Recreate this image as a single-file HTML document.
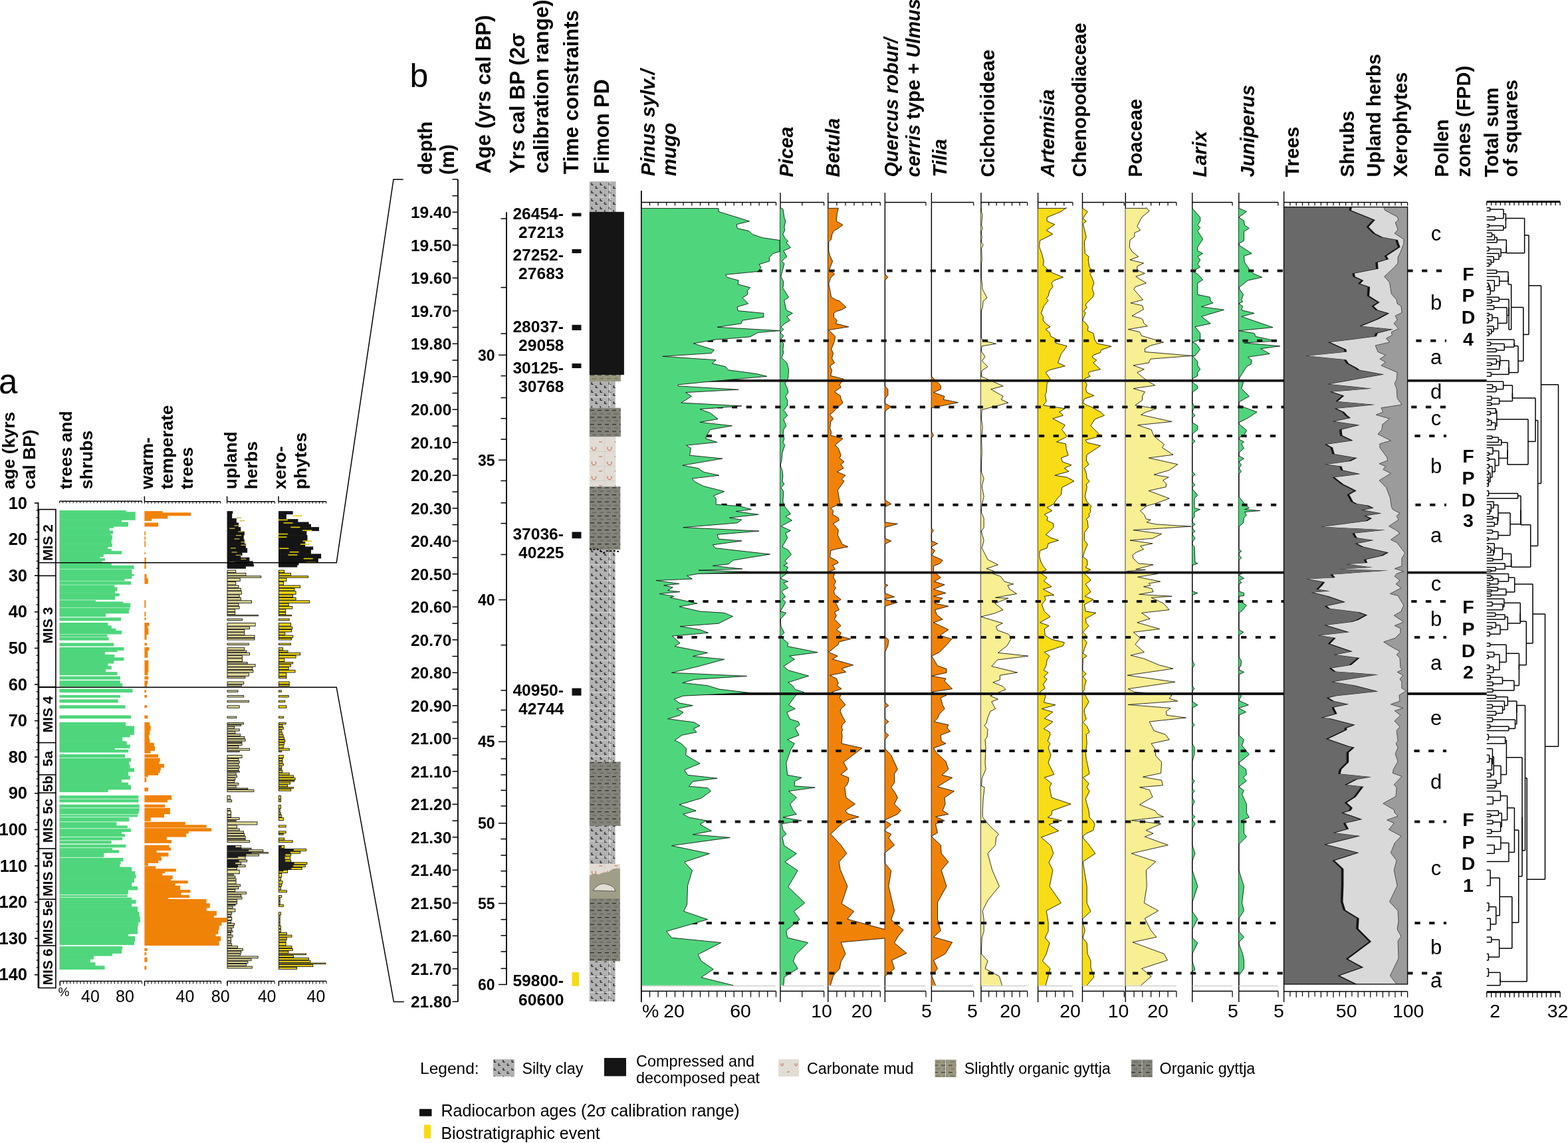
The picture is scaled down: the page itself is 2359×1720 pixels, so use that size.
<!DOCTYPE html><html><head><meta charset="utf-8"><title>Fimon pollen diagram</title>
<style>html,body{margin:0;padding:0;background:#fff;}svg{display:block;} text{font-family:'Liberation Sans', Arial, sans-serif;fill:#000;}</style></head><body>
<svg width="2359" height="1720" viewBox="0 0 2359 1720">
<rect width="2359" height="1720" fill="#fff"/>
<defs>
<pattern id="silt" patternUnits="userSpaceOnUse" x="887" y="273" width="13.3" height="12"><rect width="13.3" height="12" fill="#b2b2b2"/><path d="M3 2v3.2h2.8M9.5 7v3.2h2.8" stroke="#000" stroke-width="1.1" fill="none"/></pattern>
<pattern id="gyt" patternUnits="userSpaceOnUse" x="887" y="0" width="11" height="10.6"><rect width="11" height="10.6" fill="#84847a"/><path d="M1 2.6h6" stroke="#111" stroke-width="1"/><path d="M4 7.9h6" stroke="#55554c" stroke-width="1"/></pattern>
<pattern id="sgyt" patternUnits="userSpaceOnUse" x="887" y="0" width="11" height="10.6"><rect width="11" height="10.6" fill="#99977f"/><path d="M1 2.6h6" stroke="#222" stroke-width="1"/><path d="M4 7.9h6" stroke="#66634f" stroke-width="1"/></pattern>
<pattern id="carb" patternUnits="userSpaceOnUse" x="887" y="657" width="23.5" height="22"><rect width="23.5" height="22" fill="#e1ddd5"/><path d="M3.5 15.5v3.5q3 3.5 6 0v-3.5" stroke="#c0442a" stroke-width="0.9" fill="none"/><path d="M14 8h5" stroke="#c0442a" stroke-width="0.8"/><path d="M0 0.5h23.5M22.5 0v22" stroke="#cfcac0" stroke-width="0.8"/></pattern>
</defs>
<g id="secta">
<text x="-2" y="591.5" font-size="51" font-weight="normal" font-style="normal" text-anchor="start">a</text>
<text transform="translate(21.8,736.2) rotate(-90)" font-size="26.5" font-weight="bold" font-style="normal" text-anchor="start">age (kyrs</text>
<text transform="translate(52.8,736.2) rotate(-90)" font-size="26.5" font-weight="bold" font-style="normal" text-anchor="start">cal BP)</text>
<text transform="translate(107.8,736.2) rotate(-90)" font-size="26.5" font-weight="bold" font-style="normal" text-anchor="start">trees and</text>
<text transform="translate(138.8,736.2) rotate(-90)" font-size="26.5" font-weight="bold" font-style="normal" text-anchor="start">shrubs</text>
<text transform="translate(229.5,736.2) rotate(-90)" font-size="26.5" font-weight="bold" font-style="normal" text-anchor="start">warm-</text>
<text transform="translate(260.4,736.2) rotate(-90)" font-size="26.5" font-weight="bold" font-style="normal" text-anchor="start">temperate</text>
<text transform="translate(290.3,736.2) rotate(-90)" font-size="26.5" font-weight="bold" font-style="normal" text-anchor="start">trees</text>
<text transform="translate(355.7,736.2) rotate(-90)" font-size="26.5" font-weight="bold" font-style="normal" text-anchor="start">upland</text>
<text transform="translate(386.6,736.2) rotate(-90)" font-size="26.5" font-weight="bold" font-style="normal" text-anchor="start">herbs</text>
<text transform="translate(430.2,736.2) rotate(-90)" font-size="26.5" font-weight="bold" font-style="normal" text-anchor="start">xero-</text>
<text transform="translate(461.2,736.2) rotate(-90)" font-size="26.5" font-weight="bold" font-style="normal" text-anchor="start">phytes</text>
<line x1="57.5" y1="756" x2="57.5" y2="1486.6" stroke="#000" stroke-width="1.8" />
<line x1="52" y1="757" x2="57.5" y2="757" stroke="#000" stroke-width="1.6" />
<text x="41" y="765.5" font-size="25.5" font-weight="bold" font-style="normal" text-anchor="end">10</text>
<line x1="54.5" y1="767.9" x2="57.5" y2="767.9" stroke="#000" stroke-width="1.2" />
<line x1="54.5" y1="778.8" x2="57.5" y2="778.8" stroke="#000" stroke-width="1.2" />
<line x1="54.5" y1="789.8" x2="57.5" y2="789.8" stroke="#000" stroke-width="1.2" />
<line x1="54.5" y1="800.7" x2="57.5" y2="800.7" stroke="#000" stroke-width="1.2" />
<line x1="52" y1="811.6" x2="57.5" y2="811.6" stroke="#000" stroke-width="1.6" />
<text x="41" y="820.1" font-size="25.5" font-weight="bold" font-style="normal" text-anchor="end">20</text>
<line x1="54.5" y1="822.5" x2="57.5" y2="822.5" stroke="#000" stroke-width="1.2" />
<line x1="54.5" y1="833.4" x2="57.5" y2="833.4" stroke="#000" stroke-width="1.2" />
<line x1="54.5" y1="844.4" x2="57.5" y2="844.4" stroke="#000" stroke-width="1.2" />
<line x1="54.5" y1="855.3" x2="57.5" y2="855.3" stroke="#000" stroke-width="1.2" />
<line x1="52" y1="866.2" x2="57.5" y2="866.2" stroke="#000" stroke-width="1.6" />
<text x="41" y="874.7" font-size="25.5" font-weight="bold" font-style="normal" text-anchor="end">30</text>
<line x1="54.5" y1="877.1" x2="57.5" y2="877.1" stroke="#000" stroke-width="1.2" />
<line x1="54.5" y1="888" x2="57.5" y2="888" stroke="#000" stroke-width="1.2" />
<line x1="54.5" y1="899" x2="57.5" y2="899" stroke="#000" stroke-width="1.2" />
<line x1="54.5" y1="909.9" x2="57.5" y2="909.9" stroke="#000" stroke-width="1.2" />
<line x1="52" y1="920.8" x2="57.5" y2="920.8" stroke="#000" stroke-width="1.6" />
<text x="41" y="929.3" font-size="25.5" font-weight="bold" font-style="normal" text-anchor="end">40</text>
<line x1="54.5" y1="931.7" x2="57.5" y2="931.7" stroke="#000" stroke-width="1.2" />
<line x1="54.5" y1="942.6" x2="57.5" y2="942.6" stroke="#000" stroke-width="1.2" />
<line x1="54.5" y1="953.6" x2="57.5" y2="953.6" stroke="#000" stroke-width="1.2" />
<line x1="54.5" y1="964.5" x2="57.5" y2="964.5" stroke="#000" stroke-width="1.2" />
<line x1="52" y1="975.4" x2="57.5" y2="975.4" stroke="#000" stroke-width="1.6" />
<text x="41" y="983.9" font-size="25.5" font-weight="bold" font-style="normal" text-anchor="end">50</text>
<line x1="54.5" y1="986.3" x2="57.5" y2="986.3" stroke="#000" stroke-width="1.2" />
<line x1="54.5" y1="997.2" x2="57.5" y2="997.2" stroke="#000" stroke-width="1.2" />
<line x1="54.5" y1="1008.2" x2="57.5" y2="1008.2" stroke="#000" stroke-width="1.2" />
<line x1="54.5" y1="1019.1" x2="57.5" y2="1019.1" stroke="#000" stroke-width="1.2" />
<line x1="52" y1="1030" x2="57.5" y2="1030" stroke="#000" stroke-width="1.6" />
<text x="41" y="1038.5" font-size="25.5" font-weight="bold" font-style="normal" text-anchor="end">60</text>
<line x1="54.5" y1="1040.9" x2="57.5" y2="1040.9" stroke="#000" stroke-width="1.2" />
<line x1="54.5" y1="1051.8" x2="57.5" y2="1051.8" stroke="#000" stroke-width="1.2" />
<line x1="54.5" y1="1062.8" x2="57.5" y2="1062.8" stroke="#000" stroke-width="1.2" />
<line x1="54.5" y1="1073.7" x2="57.5" y2="1073.7" stroke="#000" stroke-width="1.2" />
<line x1="52" y1="1084.6" x2="57.5" y2="1084.6" stroke="#000" stroke-width="1.6" />
<text x="41" y="1093.1" font-size="25.5" font-weight="bold" font-style="normal" text-anchor="end">70</text>
<line x1="54.5" y1="1095.5" x2="57.5" y2="1095.5" stroke="#000" stroke-width="1.2" />
<line x1="54.5" y1="1106.4" x2="57.5" y2="1106.4" stroke="#000" stroke-width="1.2" />
<line x1="54.5" y1="1117.4" x2="57.5" y2="1117.4" stroke="#000" stroke-width="1.2" />
<line x1="54.5" y1="1128.3" x2="57.5" y2="1128.3" stroke="#000" stroke-width="1.2" />
<line x1="52" y1="1139.2" x2="57.5" y2="1139.2" stroke="#000" stroke-width="1.6" />
<text x="41" y="1147.7" font-size="25.5" font-weight="bold" font-style="normal" text-anchor="end">80</text>
<line x1="54.5" y1="1150.1" x2="57.5" y2="1150.1" stroke="#000" stroke-width="1.2" />
<line x1="54.5" y1="1161" x2="57.5" y2="1161" stroke="#000" stroke-width="1.2" />
<line x1="54.5" y1="1172" x2="57.5" y2="1172" stroke="#000" stroke-width="1.2" />
<line x1="54.5" y1="1182.9" x2="57.5" y2="1182.9" stroke="#000" stroke-width="1.2" />
<line x1="52" y1="1193.8" x2="57.5" y2="1193.8" stroke="#000" stroke-width="1.6" />
<text x="41" y="1202.3" font-size="25.5" font-weight="bold" font-style="normal" text-anchor="end">90</text>
<line x1="54.5" y1="1204.7" x2="57.5" y2="1204.7" stroke="#000" stroke-width="1.2" />
<line x1="54.5" y1="1215.6" x2="57.5" y2="1215.6" stroke="#000" stroke-width="1.2" />
<line x1="54.5" y1="1226.6" x2="57.5" y2="1226.6" stroke="#000" stroke-width="1.2" />
<line x1="54.5" y1="1237.5" x2="57.5" y2="1237.5" stroke="#000" stroke-width="1.2" />
<line x1="52" y1="1248.4" x2="57.5" y2="1248.4" stroke="#000" stroke-width="1.6" />
<text x="41" y="1256.9" font-size="25.5" font-weight="bold" font-style="normal" text-anchor="end">100</text>
<line x1="54.5" y1="1259.3" x2="57.5" y2="1259.3" stroke="#000" stroke-width="1.2" />
<line x1="54.5" y1="1270.2" x2="57.5" y2="1270.2" stroke="#000" stroke-width="1.2" />
<line x1="54.5" y1="1281.2" x2="57.5" y2="1281.2" stroke="#000" stroke-width="1.2" />
<line x1="54.5" y1="1292.1" x2="57.5" y2="1292.1" stroke="#000" stroke-width="1.2" />
<line x1="52" y1="1303" x2="57.5" y2="1303" stroke="#000" stroke-width="1.6" />
<text x="41" y="1311.5" font-size="25.5" font-weight="bold" font-style="normal" text-anchor="end">110</text>
<line x1="54.5" y1="1313.9" x2="57.5" y2="1313.9" stroke="#000" stroke-width="1.2" />
<line x1="54.5" y1="1324.8" x2="57.5" y2="1324.8" stroke="#000" stroke-width="1.2" />
<line x1="54.5" y1="1335.8" x2="57.5" y2="1335.8" stroke="#000" stroke-width="1.2" />
<line x1="54.5" y1="1346.7" x2="57.5" y2="1346.7" stroke="#000" stroke-width="1.2" />
<line x1="52" y1="1357.6" x2="57.5" y2="1357.6" stroke="#000" stroke-width="1.6" />
<text x="41" y="1366.1" font-size="25.5" font-weight="bold" font-style="normal" text-anchor="end">120</text>
<line x1="54.5" y1="1368.5" x2="57.5" y2="1368.5" stroke="#000" stroke-width="1.2" />
<line x1="54.5" y1="1379.4" x2="57.5" y2="1379.4" stroke="#000" stroke-width="1.2" />
<line x1="54.5" y1="1390.4" x2="57.5" y2="1390.4" stroke="#000" stroke-width="1.2" />
<line x1="54.5" y1="1401.3" x2="57.5" y2="1401.3" stroke="#000" stroke-width="1.2" />
<line x1="52" y1="1412.2" x2="57.5" y2="1412.2" stroke="#000" stroke-width="1.6" />
<text x="41" y="1420.7" font-size="25.5" font-weight="bold" font-style="normal" text-anchor="end">130</text>
<line x1="54.5" y1="1423.1" x2="57.5" y2="1423.1" stroke="#000" stroke-width="1.2" />
<line x1="54.5" y1="1434" x2="57.5" y2="1434" stroke="#000" stroke-width="1.2" />
<line x1="54.5" y1="1445" x2="57.5" y2="1445" stroke="#000" stroke-width="1.2" />
<line x1="54.5" y1="1455.9" x2="57.5" y2="1455.9" stroke="#000" stroke-width="1.2" />
<line x1="52" y1="1466.8" x2="57.5" y2="1466.8" stroke="#000" stroke-width="1.6" />
<text x="41" y="1475.3" font-size="25.5" font-weight="bold" font-style="normal" text-anchor="end">140</text>
<rect x="58.4" y="766.6" width="25.5" height="720" fill="none" stroke="#000" stroke-width="1.6"/>
<line x1="58.4" y1="866.4" x2="83.9" y2="866.4" stroke="#000" stroke-width="1.6" />
<line x1="58.4" y1="1033.8" x2="83.9" y2="1033.8" stroke="#000" stroke-width="1.6" />
<line x1="58.4" y1="1117.6" x2="83.9" y2="1117.6" stroke="#000" stroke-width="1.6" />
<line x1="58.4" y1="1165.9" x2="83.9" y2="1165.9" stroke="#000" stroke-width="1.6" />
<line x1="58.4" y1="1193.1" x2="83.9" y2="1193.1" stroke="#000" stroke-width="1.6" />
<line x1="58.4" y1="1277" x2="83.9" y2="1277" stroke="#000" stroke-width="1.6" />
<line x1="58.4" y1="1353.2" x2="83.9" y2="1353.2" stroke="#000" stroke-width="1.6" />
<line x1="58.4" y1="1423" x2="83.9" y2="1423" stroke="#000" stroke-width="1.6" />
<text transform="translate(79,816.5) rotate(-90)" font-size="21" font-weight="bold" text-anchor="middle">MIS 2</text>
<text transform="translate(79,941) rotate(-90)" font-size="21" font-weight="bold" text-anchor="middle">MIS 3</text>
<text transform="translate(79,1075) rotate(-90)" font-size="21" font-weight="bold" text-anchor="middle">MIS 4</text>
<text transform="translate(79,1141.8) rotate(-90)" font-size="21" font-weight="bold" text-anchor="middle">5a</text>
<text transform="translate(79,1179.5) rotate(-90)" font-size="21" font-weight="bold" text-anchor="middle">5b</text>
<text transform="translate(79,1235) rotate(-90)" font-size="21" font-weight="bold" text-anchor="middle">MIS 5c</text>
<text transform="translate(79,1315.1) rotate(-90)" font-size="21" font-weight="bold" text-anchor="middle">MIS 5d</text>
<text transform="translate(79,1388.1) rotate(-90)" font-size="21" font-weight="bold" text-anchor="middle">MIS 5e</text>
<text transform="translate(79,1455) rotate(-90)" font-size="21" font-weight="bold" text-anchor="middle">MIS 6</text>
<line x1="89.5" y1="754.2" x2="213.5" y2="754.2" stroke="#000" stroke-width="1.5" />
<line x1="89.5" y1="754.2" x2="89.5" y2="757.2" stroke="#000" stroke-width="1" />
<line x1="94.7" y1="754.2" x2="94.7" y2="757.2" stroke="#000" stroke-width="1" />
<line x1="99.8" y1="754.2" x2="99.8" y2="757.2" stroke="#000" stroke-width="1" />
<line x1="105" y1="754.2" x2="105" y2="757.2" stroke="#000" stroke-width="1" />
<line x1="110.2" y1="754.2" x2="110.2" y2="757.2" stroke="#000" stroke-width="1" />
<line x1="115.3" y1="754.2" x2="115.3" y2="757.2" stroke="#000" stroke-width="1" />
<line x1="120.5" y1="754.2" x2="120.5" y2="757.2" stroke="#000" stroke-width="1" />
<line x1="125.7" y1="754.2" x2="125.7" y2="757.2" stroke="#000" stroke-width="1" />
<line x1="130.8" y1="754.2" x2="130.8" y2="757.2" stroke="#000" stroke-width="1" />
<line x1="136" y1="754.2" x2="136" y2="757.2" stroke="#000" stroke-width="1" />
<line x1="141.2" y1="754.2" x2="141.2" y2="757.2" stroke="#000" stroke-width="1" />
<line x1="146.3" y1="754.2" x2="146.3" y2="757.2" stroke="#000" stroke-width="1" />
<line x1="151.5" y1="754.2" x2="151.5" y2="757.2" stroke="#000" stroke-width="1" />
<line x1="156.7" y1="754.2" x2="156.7" y2="757.2" stroke="#000" stroke-width="1" />
<line x1="161.8" y1="754.2" x2="161.8" y2="757.2" stroke="#000" stroke-width="1" />
<line x1="167" y1="754.2" x2="167" y2="757.2" stroke="#000" stroke-width="1" />
<line x1="172.2" y1="754.2" x2="172.2" y2="757.2" stroke="#000" stroke-width="1" />
<line x1="177.3" y1="754.2" x2="177.3" y2="757.2" stroke="#000" stroke-width="1" />
<line x1="182.5" y1="754.2" x2="182.5" y2="757.2" stroke="#000" stroke-width="1" />
<line x1="187.7" y1="754.2" x2="187.7" y2="757.2" stroke="#000" stroke-width="1" />
<line x1="192.8" y1="754.2" x2="192.8" y2="757.2" stroke="#000" stroke-width="1" />
<line x1="198" y1="754.2" x2="198" y2="757.2" stroke="#000" stroke-width="1" />
<line x1="203.2" y1="754.2" x2="203.2" y2="757.2" stroke="#000" stroke-width="1" />
<line x1="208.3" y1="754.2" x2="208.3" y2="757.2" stroke="#000" stroke-width="1" />
<line x1="213.5" y1="754.2" x2="213.5" y2="757.2" stroke="#000" stroke-width="1" />
<line x1="217.4" y1="754.8" x2="331.8" y2="754.8" stroke="#000" stroke-width="1.5" />
<line x1="217.4" y1="754.8" x2="217.4" y2="757.8" stroke="#000" stroke-width="1" />
<line x1="222.6" y1="754.8" x2="222.6" y2="757.8" stroke="#000" stroke-width="1" />
<line x1="227.8" y1="754.8" x2="227.8" y2="757.8" stroke="#000" stroke-width="1" />
<line x1="233" y1="754.8" x2="233" y2="757.8" stroke="#000" stroke-width="1" />
<line x1="238.2" y1="754.8" x2="238.2" y2="757.8" stroke="#000" stroke-width="1" />
<line x1="243.4" y1="754.8" x2="243.4" y2="757.8" stroke="#000" stroke-width="1" />
<line x1="248.6" y1="754.8" x2="248.6" y2="757.8" stroke="#000" stroke-width="1" />
<line x1="253.8" y1="754.8" x2="253.8" y2="757.8" stroke="#000" stroke-width="1" />
<line x1="259" y1="754.8" x2="259" y2="757.8" stroke="#000" stroke-width="1" />
<line x1="264.2" y1="754.8" x2="264.2" y2="757.8" stroke="#000" stroke-width="1" />
<line x1="269.4" y1="754.8" x2="269.4" y2="757.8" stroke="#000" stroke-width="1" />
<line x1="274.6" y1="754.8" x2="274.6" y2="757.8" stroke="#000" stroke-width="1" />
<line x1="279.8" y1="754.8" x2="279.8" y2="757.8" stroke="#000" stroke-width="1" />
<line x1="285" y1="754.8" x2="285" y2="757.8" stroke="#000" stroke-width="1" />
<line x1="290.2" y1="754.8" x2="290.2" y2="757.8" stroke="#000" stroke-width="1" />
<line x1="295.4" y1="754.8" x2="295.4" y2="757.8" stroke="#000" stroke-width="1" />
<line x1="300.6" y1="754.8" x2="300.6" y2="757.8" stroke="#000" stroke-width="1" />
<line x1="305.8" y1="754.8" x2="305.8" y2="757.8" stroke="#000" stroke-width="1" />
<line x1="311" y1="754.8" x2="311" y2="757.8" stroke="#000" stroke-width="1" />
<line x1="316.2" y1="754.8" x2="316.2" y2="757.8" stroke="#000" stroke-width="1" />
<line x1="321.4" y1="754.8" x2="321.4" y2="757.8" stroke="#000" stroke-width="1" />
<line x1="326.6" y1="754.8" x2="326.6" y2="757.8" stroke="#000" stroke-width="1" />
<line x1="331.8" y1="754.8" x2="331.8" y2="757.8" stroke="#000" stroke-width="1" />
<line x1="217.4" y1="746.8" x2="217.4" y2="754.8" stroke="#000" stroke-width="1.5" />
<line x1="341.6" y1="754.8" x2="413.5" y2="754.8" stroke="#000" stroke-width="1.5" />
<line x1="341.6" y1="754.8" x2="341.6" y2="757.8" stroke="#000" stroke-width="1" />
<line x1="346.7" y1="754.8" x2="346.7" y2="757.8" stroke="#000" stroke-width="1" />
<line x1="351.9" y1="754.8" x2="351.9" y2="757.8" stroke="#000" stroke-width="1" />
<line x1="357" y1="754.8" x2="357" y2="757.8" stroke="#000" stroke-width="1" />
<line x1="362.1" y1="754.8" x2="362.1" y2="757.8" stroke="#000" stroke-width="1" />
<line x1="367.3" y1="754.8" x2="367.3" y2="757.8" stroke="#000" stroke-width="1" />
<line x1="372.4" y1="754.8" x2="372.4" y2="757.8" stroke="#000" stroke-width="1" />
<line x1="377.6" y1="754.8" x2="377.6" y2="757.8" stroke="#000" stroke-width="1" />
<line x1="382.7" y1="754.8" x2="382.7" y2="757.8" stroke="#000" stroke-width="1" />
<line x1="387.8" y1="754.8" x2="387.8" y2="757.8" stroke="#000" stroke-width="1" />
<line x1="393" y1="754.8" x2="393" y2="757.8" stroke="#000" stroke-width="1" />
<line x1="398.1" y1="754.8" x2="398.1" y2="757.8" stroke="#000" stroke-width="1" />
<line x1="403.2" y1="754.8" x2="403.2" y2="757.8" stroke="#000" stroke-width="1" />
<line x1="408.4" y1="754.8" x2="408.4" y2="757.8" stroke="#000" stroke-width="1" />
<line x1="413.5" y1="754.8" x2="413.5" y2="757.8" stroke="#000" stroke-width="1" />
<line x1="341.6" y1="746.8" x2="341.6" y2="754.8" stroke="#000" stroke-width="1.5" />
<line x1="419" y1="754.8" x2="490.8" y2="754.8" stroke="#000" stroke-width="1.5" />
<line x1="419" y1="754.8" x2="419" y2="757.8" stroke="#000" stroke-width="1" />
<line x1="424.1" y1="754.8" x2="424.1" y2="757.8" stroke="#000" stroke-width="1" />
<line x1="429.3" y1="754.8" x2="429.3" y2="757.8" stroke="#000" stroke-width="1" />
<line x1="434.4" y1="754.8" x2="434.4" y2="757.8" stroke="#000" stroke-width="1" />
<line x1="439.5" y1="754.8" x2="439.5" y2="757.8" stroke="#000" stroke-width="1" />
<line x1="444.6" y1="754.8" x2="444.6" y2="757.8" stroke="#000" stroke-width="1" />
<line x1="449.8" y1="754.8" x2="449.8" y2="757.8" stroke="#000" stroke-width="1" />
<line x1="454.9" y1="754.8" x2="454.9" y2="757.8" stroke="#000" stroke-width="1" />
<line x1="460" y1="754.8" x2="460" y2="757.8" stroke="#000" stroke-width="1" />
<line x1="465.2" y1="754.8" x2="465.2" y2="757.8" stroke="#000" stroke-width="1" />
<line x1="470.3" y1="754.8" x2="470.3" y2="757.8" stroke="#000" stroke-width="1" />
<line x1="475.4" y1="754.8" x2="475.4" y2="757.8" stroke="#000" stroke-width="1" />
<line x1="480.5" y1="754.8" x2="480.5" y2="757.8" stroke="#000" stroke-width="1" />
<line x1="485.7" y1="754.8" x2="485.7" y2="757.8" stroke="#000" stroke-width="1" />
<line x1="490.8" y1="754.8" x2="490.8" y2="757.8" stroke="#000" stroke-width="1" />
<line x1="419" y1="746.8" x2="419" y2="754.8" stroke="#000" stroke-width="1.5" />
<rect x="89.5" y="768" width="100.1" height="2.8" fill="#4fd67c"/>
<rect x="89.5" y="770.2" width="114.3" height="12.6" fill="#4fd67c"/>
<rect x="89.5" y="782.2" width="93.6" height="3.9" fill="#4fd67c"/>
<rect x="89.5" y="785.5" width="103.4" height="7.1" fill="#4fd67c"/>
<rect x="89.5" y="792" width="81.6" height="2.8" fill="#4fd67c"/>
<rect x="89.5" y="794.2" width="75.1" height="5" fill="#4fd67c"/>
<rect x="89.5" y="798.5" width="80.5" height="5" fill="#4fd67c"/>
<rect x="89.5" y="802.9" width="77.2" height="2.8" fill="#4fd67c"/>
<rect x="89.5" y="805.1" width="79.4" height="7.1" fill="#4fd67c"/>
<rect x="89.5" y="811.6" width="78.3" height="7.1" fill="#4fd67c"/>
<rect x="89.5" y="818.2" width="79.4" height="5" fill="#4fd67c"/>
<rect x="89.5" y="822.5" width="72.9" height="3.9" fill="#4fd67c"/>
<rect x="89.5" y="825.8" width="78.3" height="3.9" fill="#4fd67c"/>
<rect x="89.5" y="829.1" width="93.6" height="5" fill="#4fd67c"/>
<rect x="89.5" y="833.4" width="66.3" height="5" fill="#4fd67c"/>
<rect x="89.5" y="837.8" width="60.9" height="2.8" fill="#4fd67c"/>
<rect x="89.5" y="840" width="68.5" height="3.9" fill="#4fd67c"/>
<rect x="89.5" y="843.2" width="64.2" height="3.9" fill="#4fd67c"/>
<rect x="89.5" y="847.2" width="78.3" height="4.3" fill="#4fd67c"/>
<rect x="89.5" y="850.9" width="112.1" height="5.4" fill="#4fd67c"/>
<rect x="89.5" y="856.7" width="108.8" height="7.8" fill="#4fd67c"/>
<rect x="89.5" y="863.9" width="112.1" height="2.8" fill="#4fd67c"/>
<rect x="89.5" y="866.1" width="108.8" height="5" fill="#4fd67c"/>
<rect x="89.5" y="870.5" width="97.9" height="3.9" fill="#4fd67c"/>
<rect x="89.5" y="874.8" width="107.8" height="5" fill="#4fd67c"/>
<rect x="89.5" y="880.3" width="82.7" height="3.9" fill="#4fd67c"/>
<rect x="89.5" y="883.6" width="87" height="6" fill="#4fd67c"/>
<rect x="89.5" y="889" width="83.8" height="3.9" fill="#4fd67c"/>
<rect x="89.5" y="892.9" width="90.3" height="4.3" fill="#4fd67c"/>
<rect x="89.5" y="896.6" width="83.8" height="6" fill="#4fd67c"/>
<rect x="89.5" y="903.2" width="54.4" height="2.8" fill="#4fd67c"/>
<rect x="89.5" y="905.3" width="95.8" height="2.8" fill="#4fd67c"/>
<rect x="89.5" y="907.5" width="106.7" height="6.5" fill="#4fd67c"/>
<rect x="89.5" y="914.5" width="105.6" height="3.4" fill="#4fd67c"/>
<rect x="89.5" y="917.3" width="104.5" height="6" fill="#4fd67c"/>
<rect x="89.5" y="922.8" width="69.6" height="5.4" fill="#4fd67c"/>
<rect x="89.5" y="929.3" width="92.5" height="5" fill="#4fd67c"/>
<rect x="89.5" y="937" width="72.9" height="5" fill="#4fd67c"/>
<rect x="89.5" y="941.3" width="78.3" height="5" fill="#4fd67c"/>
<rect x="89.5" y="945.7" width="84.9" height="3.9" fill="#4fd67c"/>
<rect x="89.5" y="948.9" width="93.6" height="5.6" fill="#4fd67c"/>
<rect x="89.5" y="955" width="71.8" height="3.2" fill="#4fd67c"/>
<rect x="89.5" y="958.7" width="74" height="5" fill="#4fd67c"/>
<rect x="89.5" y="967.5" width="81.6" height="5" fill="#4fd67c"/>
<rect x="89.5" y="974" width="96.9" height="5" fill="#4fd67c"/>
<rect x="89.5" y="978.4" width="87" height="2.8" fill="#4fd67c"/>
<rect x="89.5" y="980.5" width="68.5" height="5" fill="#4fd67c"/>
<rect x="89.5" y="984.9" width="82.7" height="5" fill="#4fd67c"/>
<rect x="89.5" y="989.3" width="96.9" height="5" fill="#4fd67c"/>
<rect x="89.5" y="993.6" width="81.6" height="5" fill="#4fd67c"/>
<rect x="89.5" y="998" width="72.9" height="5" fill="#4fd67c"/>
<rect x="89.5" y="1002.3" width="78.3" height="5" fill="#4fd67c"/>
<rect x="89.5" y="1006.7" width="69.6" height="5" fill="#4fd67c"/>
<rect x="89.5" y="1011.1" width="87" height="5" fill="#4fd67c"/>
<rect x="89.5" y="1017.6" width="91.4" height="5" fill="#4fd67c"/>
<rect x="89.5" y="1024.1" width="91.4" height="5" fill="#4fd67c"/>
<rect x="89.5" y="1028.5" width="94.7" height="5" fill="#4fd67c"/>
<rect x="89.5" y="1036.6" width="109.9" height="5.6" fill="#4fd67c"/>
<rect x="89.5" y="1045.9" width="91.4" height="3.9" fill="#4fd67c"/>
<rect x="89.5" y="1052.5" width="88.1" height="5" fill="#4fd67c"/>
<rect x="89.5" y="1061.2" width="99" height="5" fill="#4fd67c"/>
<rect x="89.5" y="1076.4" width="107.8" height="5" fill="#4fd67c"/>
<rect x="89.5" y="1086.8" width="99.8" height="6.2" fill="#4fd67c"/>
<rect x="89.5" y="1092.4" width="112.5" height="7" fill="#4fd67c"/>
<rect x="89.5" y="1098.8" width="112.5" height="7" fill="#4fd67c"/>
<rect x="89.5" y="1105.1" width="106.2" height="4.4" fill="#4fd67c"/>
<rect x="89.5" y="1108.9" width="94.7" height="7" fill="#4fd67c"/>
<rect x="89.5" y="1115.3" width="101.1" height="5.7" fill="#4fd67c"/>
<rect x="89.5" y="1120.4" width="106.2" height="5.7" fill="#4fd67c"/>
<rect x="89.5" y="1125.4" width="83.3" height="3.1" fill="#4fd67c"/>
<rect x="89.5" y="1128" width="103.6" height="4.4" fill="#4fd67c"/>
<rect x="89.5" y="1135.1" width="98.6" height="4.9" fill="#4fd67c"/>
<rect x="89.5" y="1140.7" width="107.5" height="5.7" fill="#4fd67c"/>
<rect x="89.5" y="1145.8" width="104.9" height="5.7" fill="#4fd67c"/>
<rect x="89.5" y="1150.9" width="106.2" height="5.7" fill="#4fd67c"/>
<rect x="89.5" y="1155.9" width="112.5" height="5.7" fill="#4fd67c"/>
<rect x="89.5" y="1161" width="103.6" height="7" fill="#4fd67c"/>
<rect x="89.5" y="1167.4" width="106.2" height="5.7" fill="#4fd67c"/>
<rect x="89.5" y="1172.5" width="93.5" height="5.7" fill="#4fd67c"/>
<rect x="89.5" y="1177.5" width="103.6" height="4.4" fill="#4fd67c"/>
<rect x="89.5" y="1181.4" width="107.5" height="7" fill="#4fd67c"/>
<rect x="89.5" y="1187.7" width="73.1" height="4.4" fill="#4fd67c"/>
<rect x="89.5" y="1197.1" width="118.9" height="5.2" fill="#4fd67c"/>
<rect x="89.5" y="1201.7" width="118.9" height="5.7" fill="#4fd67c"/>
<rect x="89.5" y="1210.6" width="120.2" height="4.4" fill="#4fd67c"/>
<rect x="89.5" y="1214.4" width="120.2" height="7" fill="#4fd67c"/>
<rect x="89.5" y="1220.7" width="118.9" height="5.7" fill="#4fd67c"/>
<rect x="89.5" y="1225.8" width="117.6" height="4.4" fill="#4fd67c"/>
<rect x="89.5" y="1229.6" width="104.9" height="7" fill="#4fd67c"/>
<rect x="89.5" y="1236" width="85.8" height="7" fill="#4fd67c"/>
<rect x="89.5" y="1242.3" width="102.4" height="4.4" fill="#4fd67c"/>
<rect x="89.5" y="1246.2" width="107.5" height="5.7" fill="#4fd67c"/>
<rect x="89.5" y="1251.2" width="93.5" height="4.4" fill="#4fd67c"/>
<rect x="89.5" y="1255" width="98.6" height="4.4" fill="#4fd67c"/>
<rect x="89.5" y="1258.9" width="94.7" height="5.7" fill="#4fd67c"/>
<rect x="89.5" y="1263.9" width="78.2" height="5.7" fill="#4fd67c"/>
<rect x="89.5" y="1270.8" width="99.8" height="5.2" fill="#4fd67c"/>
<rect x="89.5" y="1275.4" width="79.5" height="4.4" fill="#4fd67c"/>
<rect x="89.5" y="1279.2" width="89.7" height="4.4" fill="#4fd67c"/>
<rect x="89.5" y="1283" width="66.8" height="8.2" fill="#4fd67c"/>
<rect x="89.5" y="1290.6" width="96" height="5.7" fill="#4fd67c"/>
<rect x="89.5" y="1295.7" width="92.2" height="4.4" fill="#4fd67c"/>
<rect x="89.5" y="1299.5" width="90.9" height="5.7" fill="#4fd67c"/>
<rect x="89.5" y="1304.6" width="108.7" height="7" fill="#4fd67c"/>
<rect x="89.5" y="1311" width="113.8" height="5.7" fill="#4fd67c"/>
<rect x="89.5" y="1316" width="115.1" height="5.7" fill="#4fd67c"/>
<rect x="89.5" y="1321.1" width="112.5" height="7" fill="#4fd67c"/>
<rect x="89.5" y="1327.5" width="108.7" height="7" fill="#4fd67c"/>
<rect x="89.5" y="1333.8" width="117.6" height="5.7" fill="#4fd67c"/>
<rect x="89.5" y="1338.9" width="103.6" height="5.7" fill="#4fd67c"/>
<rect x="89.5" y="1344" width="102.4" height="2.6" fill="#4fd67c"/>
<rect x="89.5" y="1346.5" width="102.4" height="4.4" fill="#4fd67c"/>
<rect x="89.5" y="1350.3" width="108.7" height="4.4" fill="#4fd67c"/>
<rect x="89.5" y="1354.2" width="115.1" height="5.7" fill="#4fd67c"/>
<rect x="89.5" y="1359.2" width="108.7" height="5.7" fill="#4fd67c"/>
<rect x="89.5" y="1364.3" width="117.6" height="8.2" fill="#4fd67c"/>
<rect x="89.5" y="1371.9" width="120.2" height="8.2" fill="#4fd67c"/>
<rect x="89.5" y="1379.6" width="121.4" height="8.2" fill="#4fd67c"/>
<rect x="89.5" y="1387.2" width="118.9" height="5.7" fill="#4fd67c"/>
<rect x="89.5" y="1392.3" width="117.6" height="8.2" fill="#4fd67c"/>
<rect x="89.5" y="1399.9" width="117.6" height="5.7" fill="#4fd67c"/>
<rect x="89.5" y="1405" width="103.6" height="4.4" fill="#4fd67c"/>
<rect x="89.5" y="1408.8" width="113.8" height="8.2" fill="#4fd67c"/>
<rect x="89.5" y="1416.4" width="112.5" height="5.7" fill="#4fd67c"/>
<rect x="89.5" y="1423.5" width="94.7" height="4.9" fill="#4fd67c"/>
<rect x="89.5" y="1427.9" width="93.5" height="7" fill="#4fd67c"/>
<rect x="89.5" y="1434.2" width="79.5" height="4.4" fill="#4fd67c"/>
<rect x="89.5" y="1438" width="51.5" height="5.7" fill="#4fd67c"/>
<rect x="89.5" y="1443.1" width="46.5" height="5.7" fill="#4fd67c"/>
<rect x="89.5" y="1448.2" width="54.1" height="5.7" fill="#4fd67c"/>
<rect x="89.5" y="1453.3" width="68.1" height="5.7" fill="#4fd67c"/>
<rect x="89.5" y="1201.8" width="126" height="0.9" fill="#fff" opacity="0.85"/>
<rect x="89.5" y="1215.4" width="126" height="0.9" fill="#fff" opacity="0.85"/>
<rect x="89.5" y="1225.4" width="126" height="0.9" fill="#fff" opacity="0.85"/>
<rect x="89.5" y="1229" width="126" height="0.9" fill="#fff" opacity="0.85"/>
<rect x="89.5" y="1236.3" width="126" height="0.9" fill="#fff" opacity="0.85"/>
<rect x="89.5" y="1246.3" width="126" height="0.9" fill="#fff" opacity="0.85"/>
<rect x="89.5" y="1259" width="126" height="0.9" fill="#fff" opacity="0.85"/>
<rect x="89.5" y="1264.4" width="126" height="0.9" fill="#fff" opacity="0.85"/>
<rect x="89.5" y="1275.3" width="126" height="0.9" fill="#fff" opacity="0.85"/>
<rect x="89.5" y="1289.9" width="126" height="0.9" fill="#fff" opacity="0.85"/>
<rect x="89.5" y="1346.2" width="126" height="0.9" fill="#fff" opacity="0.85"/>
<rect x="89.5" y="1349.8" width="126" height="0.9" fill="#fff" opacity="0.85"/>
<rect x="89.5" y="1423.3" width="126" height="0.9" fill="#fff" opacity="0.85"/>
<rect x="217.4" y="769.1" width="27.3" height="3.9" fill="#f08207"/>
<rect x="217.4" y="771.3" width="69.7" height="5" fill="#f08207"/>
<rect x="217.4" y="775.6" width="34.9" height="5" fill="#f08207"/>
<rect x="217.4" y="780" width="10.9" height="3.9" fill="#f08207"/>
<rect x="217.4" y="786.5" width="20.7" height="6" fill="#f08207"/>
<rect x="217.4" y="799.6" width="1.6" height="6" fill="#f08207"/>
<rect x="217.4" y="807.3" width="1.6" height="5" fill="#f08207"/>
<rect x="217.4" y="813.8" width="1.6" height="9.3" fill="#f08207"/>
<rect x="217.4" y="831.2" width="1.6" height="2.8" fill="#f08207"/>
<rect x="217.4" y="838.9" width="2.3" height="16.9" fill="#f08207"/>
<rect x="217.4" y="863.9" width="3.2" height="7.1" fill="#f08207"/>
<rect x="217.4" y="870.5" width="5.4" height="8.2" fill="#f08207"/>
<rect x="217.4" y="903.2" width="1.9" height="11.5" fill="#f08207"/>
<rect x="217.4" y="920.6" width="1.9" height="7.1" fill="#f08207"/>
<rect x="217.4" y="929.3" width="2.3" height="3.9" fill="#f08207"/>
<rect x="217.4" y="937" width="7.1" height="5" fill="#f08207"/>
<rect x="217.4" y="941.3" width="4.9" height="5" fill="#f08207"/>
<rect x="217.4" y="945.7" width="6" height="9.3" fill="#f08207"/>
<rect x="217.4" y="954.4" width="3.2" height="8.2" fill="#f08207"/>
<rect x="217.4" y="967.5" width="3.8" height="3.9" fill="#f08207"/>
<rect x="217.4" y="974" width="7.1" height="5" fill="#f08207"/>
<rect x="217.4" y="978.4" width="4.9" height="11.5" fill="#f08207"/>
<rect x="217.4" y="993.6" width="6" height="18" fill="#f08207"/>
<rect x="217.4" y="1011.1" width="4.9" height="5" fill="#f08207"/>
<rect x="217.4" y="1017.6" width="6" height="5" fill="#f08207"/>
<rect x="217.4" y="1024.1" width="4.9" height="5" fill="#f08207"/>
<rect x="217.4" y="1028.5" width="3.8" height="5" fill="#f08207"/>
<rect x="217.4" y="1038.3" width="2.7" height="3.9" fill="#f08207"/>
<rect x="217.4" y="1045.9" width="3.8" height="3.9" fill="#f08207"/>
<rect x="217.4" y="1061.2" width="3.8" height="3.9" fill="#f08207"/>
<rect x="217.4" y="1076.4" width="4.9" height="5" fill="#f08207"/>
<rect x="217.4" y="1086.8" width="8" height="5.7" fill="#f08207"/>
<rect x="217.4" y="1091.9" width="9.3" height="7.5" fill="#f08207"/>
<rect x="217.4" y="1098.8" width="8" height="7" fill="#f08207"/>
<rect x="217.4" y="1105.1" width="6.8" height="7" fill="#f08207"/>
<rect x="217.4" y="1111.5" width="8" height="7" fill="#f08207"/>
<rect x="217.4" y="1117.8" width="14.4" height="5.7" fill="#f08207"/>
<rect x="217.4" y="1122.9" width="15.7" height="7" fill="#f08207"/>
<rect x="217.4" y="1129.3" width="9.3" height="4.4" fill="#f08207"/>
<rect x="217.4" y="1135.1" width="20.7" height="4.9" fill="#f08207"/>
<rect x="217.4" y="1140.7" width="23.3" height="5.7" fill="#f08207"/>
<rect x="217.4" y="1145.8" width="22" height="4.4" fill="#f08207"/>
<rect x="217.4" y="1149.6" width="29.6" height="5.7" fill="#f08207"/>
<rect x="217.4" y="1154.7" width="24.6" height="4.4" fill="#f08207"/>
<rect x="217.4" y="1158.5" width="23.3" height="4.4" fill="#f08207"/>
<rect x="217.4" y="1162.3" width="20.7" height="4.4" fill="#f08207"/>
<rect x="217.4" y="1166.1" width="5.5" height="3.1" fill="#f08207"/>
<rect x="217.4" y="1170" width="2.9" height="7" fill="#f08207"/>
<rect x="217.4" y="1185.2" width="5.5" height="5.7" fill="#f08207"/>
<rect x="217.4" y="1196.7" width="40.6" height="5.2" fill="#f08207"/>
<rect x="217.4" y="1201.2" width="41.1" height="2.4" fill="#f08207"/>
<rect x="217.4" y="1203" width="34.7" height="4.4" fill="#f08207"/>
<rect x="217.4" y="1210.6" width="30.9" height="4.4" fill="#f08207"/>
<rect x="217.4" y="1215.7" width="38.5" height="5.7" fill="#f08207"/>
<rect x="217.4" y="1220.8" width="38.5" height="4.4" fill="#f08207"/>
<rect x="217.4" y="1224.6" width="29.6" height="5.7" fill="#f08207"/>
<rect x="217.4" y="1229.7" width="9.3" height="6.2" fill="#f08207"/>
<rect x="217.4" y="1236.8" width="61.4" height="4.9" fill="#f08207"/>
<rect x="217.4" y="1241.2" width="93.2" height="4.4" fill="#f08207"/>
<rect x="217.4" y="1246.2" width="100.8" height="4.9" fill="#f08207"/>
<rect x="217.4" y="1250.6" width="66.5" height="3.9" fill="#f08207"/>
<rect x="217.4" y="1253.9" width="62.7" height="5.7" fill="#f08207"/>
<rect x="217.4" y="1259" width="33.5" height="5.7" fill="#f08207"/>
<rect x="217.4" y="1264" width="40.6" height="4.9" fill="#f08207"/>
<rect x="217.4" y="1271.7" width="37.3" height="4.4" fill="#f08207"/>
<rect x="217.4" y="1275.5" width="39.8" height="4.4" fill="#f08207"/>
<rect x="217.4" y="1279.3" width="18.2" height="4.4" fill="#f08207"/>
<rect x="217.4" y="1283.1" width="36" height="5.7" fill="#f08207"/>
<rect x="217.4" y="1288.2" width="24.6" height="3.1" fill="#f08207"/>
<rect x="217.4" y="1290.7" width="25.8" height="4.4" fill="#f08207"/>
<rect x="217.4" y="1294.5" width="20.7" height="4.4" fill="#f08207"/>
<rect x="217.4" y="1298.4" width="5.5" height="4.4" fill="#f08207"/>
<rect x="217.4" y="1303.4" width="16.9" height="4.4" fill="#f08207"/>
<rect x="217.4" y="1307.3" width="47.4" height="4.4" fill="#f08207"/>
<rect x="217.4" y="1311.1" width="30.9" height="3.1" fill="#f08207"/>
<rect x="217.4" y="1313.6" width="27.1" height="4.4" fill="#f08207"/>
<rect x="217.4" y="1317.4" width="42.4" height="5.7" fill="#f08207"/>
<rect x="217.4" y="1322.5" width="39.8" height="3.1" fill="#f08207"/>
<rect x="217.4" y="1325.1" width="65.2" height="4.4" fill="#f08207"/>
<rect x="217.4" y="1328.9" width="46.2" height="4.4" fill="#f08207"/>
<rect x="217.4" y="1332.7" width="53.8" height="7" fill="#f08207"/>
<rect x="217.4" y="1339" width="69" height="4.4" fill="#f08207"/>
<rect x="217.4" y="1342.9" width="55.1" height="4.4" fill="#f08207"/>
<rect x="217.4" y="1346.7" width="67.8" height="4.4" fill="#f08207"/>
<rect x="217.4" y="1350.5" width="36" height="3.1" fill="#f08207"/>
<rect x="217.4" y="1353" width="93.2" height="7" fill="#f08207"/>
<rect x="217.4" y="1359.4" width="98.3" height="7" fill="#f08207"/>
<rect x="217.4" y="1365.7" width="93.2" height="5.7" fill="#f08207"/>
<rect x="217.4" y="1370.8" width="108.5" height="7" fill="#f08207"/>
<rect x="217.4" y="1377.2" width="104.6" height="4.4" fill="#f08207"/>
<rect x="217.4" y="1381" width="123.7" height="7" fill="#f08207"/>
<rect x="217.4" y="1387.4" width="116.1" height="5.7" fill="#f08207"/>
<rect x="217.4" y="1392.4" width="112.3" height="7" fill="#f08207"/>
<rect x="217.4" y="1398.8" width="111" height="7" fill="#f08207"/>
<rect x="217.4" y="1405.2" width="107.2" height="4.4" fill="#f08207"/>
<rect x="217.4" y="1409" width="114.8" height="7" fill="#f08207"/>
<rect x="217.4" y="1415.3" width="112.3" height="7.7" fill="#f08207"/>
<rect x="217.4" y="1426.8" width="4.2" height="4.4" fill="#f08207"/>
<rect x="217.4" y="1433.1" width="2.9" height="4.4" fill="#f08207"/>
<rect x="217.4" y="1440.7" width="4.2" height="7" fill="#f08207"/>
<rect x="217.4" y="1453.5" width="2.9" height="5.7" fill="#f08207"/>
<rect x="341.6" y="769.1" width="8.7" height="3.9" fill="#141414"/>
<rect x="341.6" y="772.4" width="7.6" height="8.2" fill="#141414"/>
<rect x="341.6" y="780" width="14.2" height="7.1" fill="#141414"/>
<rect x="341.6" y="786.5" width="17.4" height="7.1" fill="#141414"/>
<rect x="341.6" y="793.1" width="20.7" height="7.1" fill="#141414"/>
<rect x="341.6" y="799.6" width="26.2" height="6" fill="#141414"/>
<rect x="341.6" y="805.1" width="25.1" height="7.1" fill="#141414"/>
<rect x="341.6" y="811.6" width="26.2" height="7.1" fill="#141414"/>
<rect x="341.6" y="818.1" width="28.3" height="7.1" fill="#141414"/>
<rect x="341.6" y="824.7" width="30.5" height="7.1" fill="#141414"/>
<rect x="341.6" y="831.2" width="22.9" height="5" fill="#141414"/>
<rect x="341.6" y="835.6" width="20.7" height="3.9" fill="#141414"/>
<rect x="341.6" y="838.8" width="33.8" height="6" fill="#141414"/>
<rect x="341.6" y="844.3" width="39.2" height="5" fill="#141414"/>
<rect x="341.6" y="848.6" width="40.3" height="3.9" fill="#141414"/>
<rect x="341.6" y="851.9" width="28.3" height="3.9" fill="#141414"/>
<rect x="342" y="858.1" width="12.7" height="3.5" fill="#e4dc98" stroke="#111" stroke-width="0.9"/>
<rect x="342" y="862.5" width="27.9" height="3.5" fill="#e4dc98" stroke="#111" stroke-width="0.9"/>
<rect x="342" y="866.8" width="50.8" height="2.4" fill="#e4dc98" stroke="#111" stroke-width="0.9"/>
<rect x="342" y="870.1" width="19.2" height="4.5" fill="#e4dc98" stroke="#111" stroke-width="0.9"/>
<rect x="342" y="875.5" width="12.7" height="4.5" fill="#e4dc98" stroke="#111" stroke-width="0.9"/>
<rect x="342" y="881" width="17" height="3.5" fill="#e4dc98" stroke="#111" stroke-width="0.9"/>
<rect x="342" y="885.3" width="20.3" height="3.5" fill="#e4dc98" stroke="#111" stroke-width="0.9"/>
<rect x="342" y="889.7" width="21.4" height="4.5" fill="#e4dc98" stroke="#111" stroke-width="0.9"/>
<rect x="342" y="895.1" width="18.1" height="3.5" fill="#e4dc98" stroke="#111" stroke-width="0.9"/>
<rect x="342" y="899.5" width="20.3" height="3.5" fill="#e4dc98" stroke="#111" stroke-width="0.9"/>
<rect x="342" y="903.8" width="36.6" height="3.5" fill="#e4dc98" stroke="#111" stroke-width="0.9"/>
<rect x="342" y="908.2" width="17" height="3.5" fill="#e4dc98" stroke="#111" stroke-width="0.9"/>
<rect x="342" y="912.6" width="18.1" height="3.5" fill="#e4dc98" stroke="#111" stroke-width="0.9"/>
<rect x="342" y="916.9" width="11.6" height="3.5" fill="#e4dc98" stroke="#111" stroke-width="0.9"/>
<rect x="342" y="921.3" width="11.6" height="3.5" fill="#e4dc98" stroke="#111" stroke-width="0.9"/>
<rect x="342" y="925.6" width="46.5" height="1.3" fill="#e4dc98" stroke="#111" stroke-width="0.9"/>
<rect x="342" y="931.1" width="22.5" height="2.4" fill="#e4dc98" stroke="#111" stroke-width="0.9"/>
<rect x="342" y="937.6" width="42.1" height="4.5" fill="#e4dc98" stroke="#111" stroke-width="0.9"/>
<rect x="342" y="943.1" width="33.4" height="3.5" fill="#e4dc98" stroke="#111" stroke-width="0.9"/>
<rect x="342" y="947.4" width="25.8" height="3.5" fill="#e4dc98" stroke="#111" stroke-width="0.9"/>
<rect x="342" y="951.8" width="25.8" height="3.5" fill="#e4dc98" stroke="#111" stroke-width="0.9"/>
<rect x="342" y="956.1" width="41" height="3.5" fill="#e4dc98" stroke="#111" stroke-width="0.9"/>
<rect x="342" y="960.5" width="41" height="2.4" fill="#e4dc98" stroke="#111" stroke-width="0.9"/>
<rect x="342" y="968.1" width="32.3" height="2.4" fill="#e4dc98" stroke="#111" stroke-width="0.9"/>
<rect x="342" y="974.7" width="25.8" height="3.5" fill="#e4dc98" stroke="#111" stroke-width="0.9"/>
<rect x="342" y="979" width="29" height="2.4" fill="#e4dc98" stroke="#111" stroke-width="0.9"/>
<rect x="342" y="982.3" width="33.4" height="3.5" fill="#e4dc98" stroke="#111" stroke-width="0.9"/>
<rect x="342" y="986.6" width="22.5" height="3.5" fill="#e4dc98" stroke="#111" stroke-width="0.9"/>
<rect x="342" y="991" width="22.5" height="4.5" fill="#e4dc98" stroke="#111" stroke-width="0.9"/>
<rect x="342" y="996.4" width="30.1" height="2.4" fill="#e4dc98" stroke="#111" stroke-width="0.9"/>
<rect x="342" y="999.7" width="42.1" height="3.5" fill="#e4dc98" stroke="#111" stroke-width="0.9"/>
<rect x="342" y="1004.1" width="37.7" height="3.5" fill="#e4dc98" stroke="#111" stroke-width="0.9"/>
<rect x="342" y="1008.4" width="38.8" height="3.5" fill="#e4dc98" stroke="#111" stroke-width="0.9"/>
<rect x="342" y="1012.8" width="32.3" height="4.5" fill="#e4dc98" stroke="#111" stroke-width="0.9"/>
<rect x="342" y="1018.2" width="26.8" height="2.4" fill="#e4dc98" stroke="#111" stroke-width="0.9"/>
<rect x="342" y="1025.9" width="24.7" height="3.5" fill="#e4dc98" stroke="#111" stroke-width="0.9"/>
<rect x="342" y="1030.2" width="21.4" height="2.4" fill="#e4dc98" stroke="#111" stroke-width="0.9"/>
<rect x="342" y="1038.9" width="16" height="2.4" fill="#e4dc98" stroke="#111" stroke-width="0.9"/>
<rect x="342" y="1046.6" width="24.7" height="2.4" fill="#e4dc98" stroke="#111" stroke-width="0.9"/>
<rect x="342" y="1054.2" width="32.3" height="2.4" fill="#e4dc98" stroke="#111" stroke-width="0.9"/>
<rect x="342" y="1061.8" width="18.1" height="3.5" fill="#e4dc98" stroke="#111" stroke-width="0.9"/>
<rect x="342" y="1078.1" width="13.8" height="2.4" fill="#e4dc98" stroke="#111" stroke-width="0.9"/>
<rect x="342" y="1087.6" width="24.5" height="2.2" fill="#e4dc98" stroke="#111" stroke-width="0.9"/>
<rect x="342" y="1090.6" width="20.7" height="1.6" fill="#e4dc98" stroke="#111" stroke-width="0.9"/>
<rect x="342" y="1093.2" width="10.6" height="2.9" fill="#e4dc98" stroke="#111" stroke-width="0.9"/>
<rect x="342" y="1097" width="18.2" height="2.9" fill="#e4dc98" stroke="#111" stroke-width="0.9"/>
<rect x="342" y="1100.8" width="11.8" height="2.9" fill="#e4dc98" stroke="#111" stroke-width="0.9"/>
<rect x="342" y="1104.6" width="19.5" height="2.9" fill="#e4dc98" stroke="#111" stroke-width="0.9"/>
<rect x="342" y="1108.4" width="25.8" height="2.9" fill="#e4dc98" stroke="#111" stroke-width="0.9"/>
<rect x="342" y="1112.2" width="27.1" height="2.9" fill="#e4dc98" stroke="#111" stroke-width="0.9"/>
<rect x="342" y="1116" width="22" height="1.6" fill="#e4dc98" stroke="#111" stroke-width="0.9"/>
<rect x="342" y="1118.6" width="22" height="2.9" fill="#e4dc98" stroke="#111" stroke-width="0.9"/>
<rect x="342" y="1122.4" width="16.9" height="2.9" fill="#e4dc98" stroke="#111" stroke-width="0.9"/>
<rect x="342" y="1126.2" width="33.4" height="2.9" fill="#e4dc98" stroke="#111" stroke-width="0.9"/>
<rect x="342" y="1130" width="18.2" height="1.6" fill="#e4dc98" stroke="#111" stroke-width="0.9"/>
<rect x="342" y="1136.4" width="22" height="4.2" fill="#e4dc98" stroke="#111" stroke-width="0.9"/>
<rect x="342" y="1141.5" width="16.9" height="2.9" fill="#e4dc98" stroke="#111" stroke-width="0.9"/>
<rect x="342" y="1145.3" width="18.2" height="2.9" fill="#e4dc98" stroke="#111" stroke-width="0.9"/>
<rect x="342" y="1149.1" width="16.9" height="2.9" fill="#e4dc98" stroke="#111" stroke-width="0.9"/>
<rect x="342" y="1152.9" width="18.2" height="2.9" fill="#e4dc98" stroke="#111" stroke-width="0.9"/>
<rect x="342" y="1156.7" width="16.9" height="2.9" fill="#e4dc98" stroke="#111" stroke-width="0.9"/>
<rect x="342" y="1160.5" width="18.2" height="1.6" fill="#e4dc98" stroke="#111" stroke-width="0.9"/>
<rect x="342" y="1163.1" width="13.1" height="2.9" fill="#e4dc98" stroke="#111" stroke-width="0.9"/>
<rect x="342" y="1166.9" width="14.4" height="2.9" fill="#e4dc98" stroke="#111" stroke-width="0.9"/>
<rect x="342" y="1170.7" width="11.8" height="2.9" fill="#e4dc98" stroke="#111" stroke-width="0.9"/>
<rect x="342" y="1174.5" width="10.6" height="2.9" fill="#e4dc98" stroke="#111" stroke-width="0.9"/>
<rect x="342" y="1178.3" width="16.9" height="2.9" fill="#e4dc98" stroke="#111" stroke-width="0.9"/>
<rect x="342" y="1182.2" width="13.1" height="2.9" fill="#e4dc98" stroke="#111" stroke-width="0.9"/>
<rect x="342" y="1186" width="30.9" height="1.6" fill="#e4dc98" stroke="#111" stroke-width="0.9"/>
<rect x="342" y="1188.5" width="39.8" height="2.9" fill="#e4dc98" stroke="#111" stroke-width="0.9"/>
<rect x="342" y="1197.4" width="4.2" height="5.5" fill="#e4dc98" stroke="#111" stroke-width="0.9"/>
<rect x="342" y="1203.8" width="6.7" height="2.9" fill="#e4dc98" stroke="#111" stroke-width="0.9"/>
<rect x="342" y="1216.5" width="4.2" height="2.9" fill="#e4dc98" stroke="#111" stroke-width="0.9"/>
<rect x="342" y="1220.3" width="5.5" height="5.5" fill="#e4dc98" stroke="#111" stroke-width="0.9"/>
<rect x="342" y="1226.6" width="5.5" height="2.9" fill="#e4dc98" stroke="#111" stroke-width="0.9"/>
<rect x="342" y="1230.5" width="18.2" height="2.9" fill="#e4dc98" stroke="#111" stroke-width="0.9"/>
<rect x="342" y="1234.3" width="13.1" height="1.6" fill="#e4dc98" stroke="#111" stroke-width="0.9"/>
<rect x="342" y="1236.8" width="44.9" height="4.2" fill="#e4dc98" stroke="#111" stroke-width="0.9"/>
<rect x="342" y="1241.9" width="14.4" height="4.2" fill="#e4dc98" stroke="#111" stroke-width="0.9"/>
<rect x="342" y="1247" width="18.2" height="2.9" fill="#e4dc98" stroke="#111" stroke-width="0.9"/>
<rect x="342" y="1250.8" width="24.5" height="2.9" fill="#e4dc98" stroke="#111" stroke-width="0.9"/>
<rect x="342" y="1254.6" width="25.8" height="2.9" fill="#e4dc98" stroke="#111" stroke-width="0.9"/>
<rect x="342" y="1258.4" width="27.1" height="2.9" fill="#e4dc98" stroke="#111" stroke-width="0.9"/>
<rect x="342" y="1262.2" width="27.1" height="1.6" fill="#e4dc98" stroke="#111" stroke-width="0.9"/>
<rect x="342" y="1264.8" width="33.4" height="2.9" fill="#e4dc98" stroke="#111" stroke-width="0.9"/>
<rect x="342" y="1272.4" width="20.7" height="2.9" fill="#e4dc98" stroke="#111" stroke-width="0.9"/>
<rect x="342" y="1276.2" width="36" height="1.6" fill="#e4dc98" stroke="#111" stroke-width="0.9"/>
<rect x="342" y="1278.8" width="53.8" height="2.9" fill="#e4dc98" stroke="#111" stroke-width="0.9"/>
<rect x="342" y="1282.6" width="61.4" height="1.6" fill="#e4dc98" stroke="#111" stroke-width="0.9"/>
<rect x="342" y="1285.1" width="47.4" height="2.9" fill="#e4dc98" stroke="#111" stroke-width="0.9"/>
<rect x="342" y="1288.9" width="27.1" height="4.2" fill="#e4dc98" stroke="#111" stroke-width="0.9"/>
<rect x="342" y="1294" width="29.6" height="2.9" fill="#e4dc98" stroke="#111" stroke-width="0.9"/>
<rect x="342" y="1297.8" width="20.7" height="2.9" fill="#e4dc98" stroke="#111" stroke-width="0.9"/>
<rect x="342" y="1301.7" width="27.1" height="2.9" fill="#e4dc98" stroke="#111" stroke-width="0.9"/>
<rect x="342" y="1305.5" width="14.4" height="2.9" fill="#e4dc98" stroke="#111" stroke-width="0.9"/>
<rect x="342" y="1309.3" width="18.2" height="5.5" fill="#e4dc98" stroke="#111" stroke-width="0.9"/>
<rect x="342" y="1315.6" width="9.3" height="1.6" fill="#e4dc98" stroke="#111" stroke-width="0.9"/>
<rect x="342" y="1318.2" width="11.8" height="2.9" fill="#e4dc98" stroke="#111" stroke-width="0.9"/>
<rect x="342" y="1322" width="13.1" height="2.9" fill="#e4dc98" stroke="#111" stroke-width="0.9"/>
<rect x="342" y="1325.8" width="13.1" height="4.2" fill="#e4dc98" stroke="#111" stroke-width="0.9"/>
<rect x="342" y="1330.9" width="19.5" height="2.9" fill="#e4dc98" stroke="#111" stroke-width="0.9"/>
<rect x="342" y="1334.7" width="16.9" height="2.9" fill="#e4dc98" stroke="#111" stroke-width="0.9"/>
<rect x="342" y="1338.5" width="11.8" height="2.9" fill="#e4dc98" stroke="#111" stroke-width="0.9"/>
<rect x="342" y="1342.3" width="28.4" height="2.9" fill="#e4dc98" stroke="#111" stroke-width="0.9"/>
<rect x="342" y="1346.2" width="20.7" height="2.9" fill="#e4dc98" stroke="#111" stroke-width="0.9"/>
<rect x="342" y="1350" width="22" height="2.9" fill="#e4dc98" stroke="#111" stroke-width="0.9"/>
<rect x="342" y="1353.8" width="14.4" height="2.9" fill="#e4dc98" stroke="#111" stroke-width="0.9"/>
<rect x="342" y="1357.6" width="14.4" height="2.9" fill="#e4dc98" stroke="#111" stroke-width="0.9"/>
<rect x="342" y="1361.4" width="11.8" height="1.6" fill="#e4dc98" stroke="#111" stroke-width="0.9"/>
<rect x="342" y="1363.9" width="8" height="2.9" fill="#e4dc98" stroke="#111" stroke-width="0.9"/>
<rect x="342" y="1367.8" width="11.8" height="4.2" fill="#e4dc98" stroke="#111" stroke-width="0.9"/>
<rect x="342" y="1372.8" width="6.7" height="2.9" fill="#e4dc98" stroke="#111" stroke-width="0.9"/>
<rect x="342" y="1376.7" width="5.5" height="2.9" fill="#e4dc98" stroke="#111" stroke-width="0.9"/>
<rect x="342" y="1380.5" width="6.7" height="4.2" fill="#e4dc98" stroke="#111" stroke-width="0.9"/>
<rect x="342" y="1385.6" width="5.5" height="2.9" fill="#e4dc98" stroke="#111" stroke-width="0.9"/>
<rect x="342" y="1389.4" width="10.6" height="2.9" fill="#e4dc98" stroke="#111" stroke-width="0.9"/>
<rect x="342" y="1393.2" width="9.3" height="2.9" fill="#e4dc98" stroke="#111" stroke-width="0.9"/>
<rect x="342" y="1397" width="6.7" height="2.9" fill="#e4dc98" stroke="#111" stroke-width="0.9"/>
<rect x="342" y="1400.8" width="8" height="1.6" fill="#e4dc98" stroke="#111" stroke-width="0.9"/>
<rect x="342" y="1403.4" width="5.5" height="2.9" fill="#e4dc98" stroke="#111" stroke-width="0.9"/>
<rect x="342" y="1407.2" width="8" height="2.9" fill="#e4dc98" stroke="#111" stroke-width="0.9"/>
<rect x="342" y="1411" width="5.5" height="4.2" fill="#e4dc98" stroke="#111" stroke-width="0.9"/>
<rect x="342" y="1416.1" width="5.5" height="2.9" fill="#e4dc98" stroke="#111" stroke-width="0.9"/>
<rect x="342" y="1419.9" width="6.7" height="2.9" fill="#e4dc98" stroke="#111" stroke-width="0.9"/>
<rect x="342" y="1423.7" width="15.6" height="2.9" fill="#e4dc98" stroke="#111" stroke-width="0.9"/>
<rect x="342" y="1427.5" width="23.3" height="2.9" fill="#e4dc98" stroke="#111" stroke-width="0.9"/>
<rect x="342" y="1431.3" width="20.7" height="2.9" fill="#e4dc98" stroke="#111" stroke-width="0.9"/>
<rect x="342" y="1435.1" width="19.5" height="2.9" fill="#e4dc98" stroke="#111" stroke-width="0.9"/>
<rect x="342" y="1439" width="46.2" height="2.9" fill="#e4dc98" stroke="#111" stroke-width="0.9"/>
<rect x="342" y="1442.8" width="36" height="2.9" fill="#e4dc98" stroke="#111" stroke-width="0.9"/>
<rect x="342" y="1446.6" width="30.9" height="2.9" fill="#e4dc98" stroke="#111" stroke-width="0.9"/>
<rect x="342" y="1450.4" width="28.4" height="2.9" fill="#e4dc98" stroke="#111" stroke-width="0.9"/>
<rect x="342" y="1454.2" width="37.3" height="2.9" fill="#e4dc98" stroke="#111" stroke-width="0.9"/>
<rect x="341.6" y="1272" width="12.7" height="3.8" fill="#1a1a1a"/>
<rect x="341.6" y="1275.8" width="21.8" height="2.5" fill="#1a1a1a"/>
<rect x="341.6" y="1278.3" width="32.5" height="2.5" fill="#1a1a1a"/>
<rect x="341.6" y="1282.1" width="37.1" height="2.5" fill="#1a1a1a"/>
<rect x="341.6" y="1284.7" width="28.7" height="3.8" fill="#1a1a1a"/>
<rect x="341.6" y="1288.5" width="16.5" height="2.5" fill="#1a1a1a"/>
<rect x="341.6" y="1293.6" width="18" height="3.8" fill="#1a1a1a"/>
<rect x="341.6" y="1297.4" width="12.7" height="3.8" fill="#1a1a1a"/>
<rect x="341.6" y="1301.2" width="16.5" height="3.8" fill="#1a1a1a"/>
<rect x="419" y="769.1" width="21.7" height="5" fill="#141414"/>
<rect x="419" y="773.5" width="11.9" height="8.2" fill="#141414"/>
<rect x="419" y="781.1" width="29.4" height="5" fill="#141414"/>
<rect x="419" y="785.5" width="45.7" height="3.9" fill="#141414"/>
<rect x="419" y="788.7" width="49" height="5" fill="#141414"/>
<rect x="419" y="793.1" width="61" height="6" fill="#141414"/>
<rect x="419" y="798.5" width="42.4" height="7.1" fill="#141414"/>
<rect x="419" y="805.1" width="43.5" height="9.3" fill="#141414"/>
<rect x="419" y="813.8" width="40.3" height="9.3" fill="#141414"/>
<rect x="419" y="822.5" width="52.2" height="5" fill="#141414"/>
<rect x="419" y="826.8" width="49" height="7.1" fill="#141414"/>
<rect x="419" y="833.4" width="64.2" height="7.1" fill="#141414"/>
<rect x="419" y="839.9" width="59.9" height="7.1" fill="#141414"/>
<rect x="419" y="846.5" width="30.5" height="3.9" fill="#141414"/>
<rect x="419" y="849.7" width="28.3" height="3.9" fill="#141414"/>
<rect x="419.4" y="858.1" width="8.3" height="3.5" fill="#f2d80c" stroke="#111" stroke-width="0.9"/>
<rect x="419.4" y="862.5" width="18.1" height="3.5" fill="#f2d80c" stroke="#111" stroke-width="0.9"/>
<rect x="419.4" y="866.8" width="44.2" height="2.4" fill="#f2d80c" stroke="#111" stroke-width="0.9"/>
<rect x="419.4" y="870.1" width="11.5" height="4.5" fill="#f2d80c" stroke="#111" stroke-width="0.9"/>
<rect x="419.4" y="875.5" width="7.2" height="4.5" fill="#f2d80c" stroke="#111" stroke-width="0.9"/>
<rect x="419.4" y="881" width="32.2" height="3.5" fill="#f2d80c" stroke="#111" stroke-width="0.9"/>
<rect x="419.4" y="885.3" width="23.5" height="3.5" fill="#f2d80c" stroke="#111" stroke-width="0.9"/>
<rect x="419.4" y="889.7" width="25.7" height="4.5" fill="#f2d80c" stroke="#111" stroke-width="0.9"/>
<rect x="419.4" y="895.1" width="21.3" height="3.5" fill="#f2d80c" stroke="#111" stroke-width="0.9"/>
<rect x="419.4" y="899.5" width="25.7" height="3.5" fill="#f2d80c" stroke="#111" stroke-width="0.9"/>
<rect x="419.4" y="903.8" width="46.4" height="3.5" fill="#f2d80c" stroke="#111" stroke-width="0.9"/>
<rect x="419.4" y="908.2" width="14.8" height="3.5" fill="#f2d80c" stroke="#111" stroke-width="0.9"/>
<rect x="419.4" y="912.6" width="20.3" height="3.5" fill="#f2d80c" stroke="#111" stroke-width="0.9"/>
<rect x="419.4" y="916.9" width="10.4" height="3.5" fill="#f2d80c" stroke="#111" stroke-width="0.9"/>
<rect x="419.4" y="921.3" width="10.4" height="3.5" fill="#f2d80c" stroke="#111" stroke-width="0.9"/>
<rect x="419.4" y="925.6" width="19.2" height="1.3" fill="#f2d80c" stroke="#111" stroke-width="0.9"/>
<rect x="419.4" y="931.1" width="15.9" height="2.4" fill="#f2d80c" stroke="#111" stroke-width="0.9"/>
<rect x="419.4" y="937.6" width="18.1" height="4.5" fill="#f2d80c" stroke="#111" stroke-width="0.9"/>
<rect x="419.4" y="943.1" width="20.3" height="3.5" fill="#f2d80c" stroke="#111" stroke-width="0.9"/>
<rect x="419.4" y="947.4" width="19.2" height="3.5" fill="#f2d80c" stroke="#111" stroke-width="0.9"/>
<rect x="419.4" y="951.8" width="9.4" height="3.5" fill="#f2d80c" stroke="#111" stroke-width="0.9"/>
<rect x="419.4" y="956.1" width="21.3" height="3.5" fill="#f2d80c" stroke="#111" stroke-width="0.9"/>
<rect x="419.4" y="960.5" width="19.2" height="2.4" fill="#f2d80c" stroke="#111" stroke-width="0.9"/>
<rect x="419.4" y="968.1" width="18.1" height="2.4" fill="#f2d80c" stroke="#111" stroke-width="0.9"/>
<rect x="419.4" y="974.7" width="6.1" height="3.5" fill="#f2d80c" stroke="#111" stroke-width="0.9"/>
<rect x="419.4" y="979" width="13.7" height="2.4" fill="#f2d80c" stroke="#111" stroke-width="0.9"/>
<rect x="419.4" y="982.3" width="32.2" height="3.5" fill="#f2d80c" stroke="#111" stroke-width="0.9"/>
<rect x="419.4" y="986.6" width="25.7" height="3.5" fill="#f2d80c" stroke="#111" stroke-width="0.9"/>
<rect x="419.4" y="991" width="8.3" height="4.5" fill="#f2d80c" stroke="#111" stroke-width="0.9"/>
<rect x="419.4" y="996.4" width="21.3" height="2.4" fill="#f2d80c" stroke="#111" stroke-width="0.9"/>
<rect x="419.4" y="999.7" width="18.1" height="3.5" fill="#f2d80c" stroke="#111" stroke-width="0.9"/>
<rect x="419.4" y="1004.1" width="14.8" height="3.5" fill="#f2d80c" stroke="#111" stroke-width="0.9"/>
<rect x="419.4" y="1008.4" width="24.6" height="3.5" fill="#f2d80c" stroke="#111" stroke-width="0.9"/>
<rect x="419.4" y="1012.8" width="11.5" height="4.5" fill="#f2d80c" stroke="#111" stroke-width="0.9"/>
<rect x="419.4" y="1018.2" width="11.5" height="2.4" fill="#f2d80c" stroke="#111" stroke-width="0.9"/>
<rect x="419.4" y="1025.9" width="15.9" height="3.5" fill="#f2d80c" stroke="#111" stroke-width="0.9"/>
<rect x="419.4" y="1030.2" width="15.9" height="2.4" fill="#f2d80c" stroke="#111" stroke-width="0.9"/>
<rect x="419.4" y="1038.9" width="3.9" height="2.4" fill="#f2d80c" stroke="#111" stroke-width="0.9"/>
<rect x="419.4" y="1046.6" width="14.8" height="2.4" fill="#f2d80c" stroke="#111" stroke-width="0.9"/>
<rect x="419.4" y="1054.2" width="9.4" height="2.4" fill="#f2d80c" stroke="#111" stroke-width="0.9"/>
<rect x="419.4" y="1061.8" width="11.5" height="3.5" fill="#f2d80c" stroke="#111" stroke-width="0.9"/>
<rect x="419.4" y="1078.1" width="7.2" height="2.4" fill="#f2d80c" stroke="#111" stroke-width="0.9"/>
<rect x="419.4" y="1087.6" width="10.7" height="2.2" fill="#f2d80c" stroke="#111" stroke-width="0.9"/>
<rect x="419.4" y="1090.6" width="5.6" height="2.9" fill="#f2d80c" stroke="#111" stroke-width="0.9"/>
<rect x="419.4" y="1094.4" width="6.9" height="2.9" fill="#f2d80c" stroke="#111" stroke-width="0.9"/>
<rect x="419.4" y="1098.2" width="4.3" height="2.9" fill="#f2d80c" stroke="#111" stroke-width="0.9"/>
<rect x="419.4" y="1102.1" width="5.6" height="2.9" fill="#f2d80c" stroke="#111" stroke-width="0.9"/>
<rect x="419.4" y="1105.9" width="6.9" height="2.9" fill="#f2d80c" stroke="#111" stroke-width="0.9"/>
<rect x="419.4" y="1109.7" width="8.2" height="2.9" fill="#f2d80c" stroke="#111" stroke-width="0.9"/>
<rect x="419.4" y="1113.5" width="9.4" height="2.9" fill="#f2d80c" stroke="#111" stroke-width="0.9"/>
<rect x="419.4" y="1117.3" width="8.2" height="2.9" fill="#f2d80c" stroke="#111" stroke-width="0.9"/>
<rect x="419.4" y="1121.1" width="6.9" height="4.2" fill="#f2d80c" stroke="#111" stroke-width="0.9"/>
<rect x="419.4" y="1126.2" width="15.8" height="2.9" fill="#f2d80c" stroke="#111" stroke-width="0.9"/>
<rect x="419.4" y="1130" width="4.3" height="1.6" fill="#f2d80c" stroke="#111" stroke-width="0.9"/>
<rect x="419.4" y="1136.4" width="6.9" height="4.2" fill="#f2d80c" stroke="#111" stroke-width="0.9"/>
<rect x="419.4" y="1141.5" width="5.6" height="2.9" fill="#f2d80c" stroke="#111" stroke-width="0.9"/>
<rect x="419.4" y="1145.3" width="5.6" height="2.9" fill="#f2d80c" stroke="#111" stroke-width="0.9"/>
<rect x="419.4" y="1149.1" width="6.9" height="2.9" fill="#f2d80c" stroke="#111" stroke-width="0.9"/>
<rect x="419.4" y="1152.9" width="4.3" height="2.9" fill="#f2d80c" stroke="#111" stroke-width="0.9"/>
<rect x="419.4" y="1156.7" width="4.3" height="1.6" fill="#f2d80c" stroke="#111" stroke-width="0.9"/>
<rect x="419.4" y="1159.3" width="5.6" height="2.9" fill="#f2d80c" stroke="#111" stroke-width="0.9"/>
<rect x="419.4" y="1163.1" width="15.8" height="2.9" fill="#f2d80c" stroke="#111" stroke-width="0.9"/>
<rect x="419.4" y="1166.9" width="22.1" height="2.9" fill="#f2d80c" stroke="#111" stroke-width="0.9"/>
<rect x="419.4" y="1170.7" width="24.7" height="2.9" fill="#f2d80c" stroke="#111" stroke-width="0.9"/>
<rect x="419.4" y="1174.5" width="23.4" height="1.6" fill="#f2d80c" stroke="#111" stroke-width="0.9"/>
<rect x="419.4" y="1177.1" width="17.1" height="2.9" fill="#f2d80c" stroke="#111" stroke-width="0.9"/>
<rect x="419.4" y="1180.9" width="13.2" height="2.9" fill="#f2d80c" stroke="#111" stroke-width="0.9"/>
<rect x="419.4" y="1184.7" width="22.1" height="1.6" fill="#f2d80c" stroke="#111" stroke-width="0.9"/>
<rect x="419.4" y="1187.2" width="18.3" height="2.9" fill="#f2d80c" stroke="#111" stroke-width="0.9"/>
<rect x="419.4" y="1197.4" width="3.1" height="5.5" fill="#f2d80c" stroke="#111" stroke-width="0.9"/>
<rect x="419.4" y="1203.8" width="3.1" height="2.9" fill="#f2d80c" stroke="#111" stroke-width="0.9"/>
<rect x="419.4" y="1211.4" width="3.1" height="5.5" fill="#f2d80c" stroke="#111" stroke-width="0.9"/>
<rect x="419.4" y="1217.7" width="1.8" height="4.2" fill="#f2d80c" stroke="#111" stroke-width="0.9"/>
<rect x="419.4" y="1222.8" width="3.1" height="2.9" fill="#f2d80c" stroke="#111" stroke-width="0.9"/>
<rect x="419.4" y="1226.6" width="4.3" height="2.9" fill="#f2d80c" stroke="#111" stroke-width="0.9"/>
<rect x="419.4" y="1230.5" width="6.9" height="4.2" fill="#f2d80c" stroke="#111" stroke-width="0.9"/>
<rect x="419.4" y="1241.9" width="10.7" height="2.9" fill="#f2d80c" stroke="#111" stroke-width="0.9"/>
<rect x="419.4" y="1250.8" width="10.7" height="2.9" fill="#f2d80c" stroke="#111" stroke-width="0.9"/>
<rect x="419.4" y="1254.6" width="6.9" height="1.6" fill="#f2d80c" stroke="#111" stroke-width="0.9"/>
<rect x="419.4" y="1261" width="8.2" height="2.9" fill="#f2d80c" stroke="#111" stroke-width="0.9"/>
<rect x="419.4" y="1264.8" width="20.9" height="2.9" fill="#f2d80c" stroke="#111" stroke-width="0.9"/>
<rect x="419.4" y="1272.4" width="8.2" height="4.2" fill="#f2d80c" stroke="#111" stroke-width="0.9"/>
<rect x="419.4" y="1277.5" width="41.2" height="2.9" fill="#f2d80c" stroke="#111" stroke-width="0.9"/>
<rect x="419.4" y="1281.3" width="32.3" height="2.9" fill="#f2d80c" stroke="#111" stroke-width="0.9"/>
<rect x="419.4" y="1285.1" width="18.3" height="2.9" fill="#f2d80c" stroke="#111" stroke-width="0.9"/>
<rect x="419.4" y="1288.9" width="17.1" height="4.2" fill="#f2d80c" stroke="#111" stroke-width="0.9"/>
<rect x="419.4" y="1294" width="18.3" height="2.9" fill="#f2d80c" stroke="#111" stroke-width="0.9"/>
<rect x="419.4" y="1297.8" width="42.5" height="2.9" fill="#f2d80c" stroke="#111" stroke-width="0.9"/>
<rect x="419.4" y="1301.7" width="39.9" height="2.9" fill="#f2d80c" stroke="#111" stroke-width="0.9"/>
<rect x="419.4" y="1305.5" width="34.9" height="2.9" fill="#f2d80c" stroke="#111" stroke-width="0.9"/>
<rect x="419.4" y="1309.3" width="13.2" height="4.2" fill="#f2d80c" stroke="#111" stroke-width="0.9"/>
<rect x="419.4" y="1314.4" width="4.3" height="5.5" fill="#f2d80c" stroke="#111" stroke-width="0.9"/>
<rect x="419.4" y="1320.7" width="3.1" height="4.2" fill="#f2d80c" stroke="#111" stroke-width="0.9"/>
<rect x="419.4" y="1325.8" width="5.6" height="4.2" fill="#f2d80c" stroke="#111" stroke-width="0.9"/>
<rect x="419.4" y="1330.9" width="4.3" height="2.9" fill="#f2d80c" stroke="#111" stroke-width="0.9"/>
<rect x="419.4" y="1334.7" width="3.1" height="4.2" fill="#f2d80c" stroke="#111" stroke-width="0.9"/>
<rect x="419.4" y="1339.8" width="12" height="2.9" fill="#f2d80c" stroke="#111" stroke-width="0.9"/>
<rect x="419.4" y="1347.4" width="4.3" height="2.9" fill="#f2d80c" stroke="#111" stroke-width="0.9"/>
<rect x="419.4" y="1351.2" width="1.8" height="4.2" fill="#f2d80c" stroke="#111" stroke-width="0.9"/>
<rect x="419.4" y="1356.3" width="1.8" height="4.2" fill="#f2d80c" stroke="#111" stroke-width="0.9"/>
<rect x="419.4" y="1361.4" width="6.9" height="2.9" fill="#f2d80c" stroke="#111" stroke-width="0.9"/>
<rect x="419.4" y="1372.8" width="3.1" height="4.2" fill="#f2d80c" stroke="#111" stroke-width="0.9"/>
<rect x="419.4" y="1377.9" width="1.8" height="4.2" fill="#f2d80c" stroke="#111" stroke-width="0.9"/>
<rect x="419.4" y="1383" width="1.8" height="4.2" fill="#f2d80c" stroke="#111" stroke-width="0.9"/>
<rect x="419.4" y="1388.1" width="1.8" height="4.2" fill="#f2d80c" stroke="#111" stroke-width="0.9"/>
<rect x="419.4" y="1393.2" width="3.1" height="4.2" fill="#f2d80c" stroke="#111" stroke-width="0.9"/>
<rect x="419.4" y="1398.3" width="3.1" height="4.2" fill="#f2d80c" stroke="#111" stroke-width="0.9"/>
<rect x="419.4" y="1403.4" width="12" height="2.9" fill="#f2d80c" stroke="#111" stroke-width="0.9"/>
<rect x="419.4" y="1407.2" width="19.6" height="2.9" fill="#f2d80c" stroke="#111" stroke-width="0.9"/>
<rect x="419.4" y="1411" width="12" height="2.9" fill="#f2d80c" stroke="#111" stroke-width="0.9"/>
<rect x="419.4" y="1414.8" width="10.7" height="2.9" fill="#f2d80c" stroke="#111" stroke-width="0.9"/>
<rect x="419.4" y="1418.6" width="10.7" height="4.2" fill="#f2d80c" stroke="#111" stroke-width="0.9"/>
<rect x="419.4" y="1423.7" width="19.6" height="2.9" fill="#f2d80c" stroke="#111" stroke-width="0.9"/>
<rect x="419.4" y="1427.5" width="20.9" height="2.9" fill="#f2d80c" stroke="#111" stroke-width="0.9"/>
<rect x="419.4" y="1431.3" width="14.5" height="2.9" fill="#f2d80c" stroke="#111" stroke-width="0.9"/>
<rect x="419.4" y="1435.1" width="41.2" height="1.6" fill="#f2d80c" stroke="#111" stroke-width="0.9"/>
<rect x="419.4" y="1437.7" width="22.1" height="2.9" fill="#f2d80c" stroke="#111" stroke-width="0.9"/>
<rect x="419.4" y="1441.5" width="45" height="2.9" fill="#f2d80c" stroke="#111" stroke-width="0.9"/>
<rect x="419.4" y="1445.3" width="47.6" height="2.9" fill="#f2d80c" stroke="#111" stroke-width="0.9"/>
<rect x="419.4" y="1449.1" width="70.5" height="1.6" fill="#f2d80c" stroke="#111" stroke-width="0.9"/>
<rect x="419.4" y="1451.7" width="51.4" height="2.9" fill="#f2d80c" stroke="#111" stroke-width="0.9"/>
<rect x="419.4" y="1455.5" width="27.2" height="2.9" fill="#f2d80c" stroke="#111" stroke-width="0.9"/>
<rect x="419" y="1272" width="4.7" height="3.8" fill="#1a1a1a"/>
<rect x="419" y="1277.1" width="22.9" height="3.8" fill="#1a1a1a"/>
<rect x="419" y="1280.9" width="18" height="3.8" fill="#1a1a1a"/>
<rect x="419" y="1284.7" width="10.3" height="3.8" fill="#1a1a1a"/>
<rect x="419" y="1288.5" width="9.6" height="5.1" fill="#1a1a1a"/>
<rect x="419" y="1293.6" width="10.3" height="3.8" fill="#1a1a1a"/>
<rect x="419" y="1297.4" width="23.6" height="3.8" fill="#1a1a1a"/>
<rect x="419" y="1301.2" width="22.2" height="3.8" fill="#1a1a1a"/>
<rect x="419" y="1305" width="19.4" height="3.8" fill="#1a1a1a"/>
<rect x="419" y="1308.8" width="7.5" height="2.5" fill="#1a1a1a"/>
<rect x="440.5" y="775.5" width="14" height="1.6" fill="#e8d000"/>
<rect x="355.3" y="778.7" width="8" height="1.3" fill="#c8b840"/>
<rect x="418.9" y="781.6" width="14" height="1.6" fill="#e8d000"/>
<rect x="360.4" y="783.1" width="8" height="1.3" fill="#c8b840"/>
<rect x="426.5" y="786.1" width="14" height="1.6" fill="#e8d000"/>
<rect x="352.3" y="790.2" width="8" height="1.3" fill="#c8b840"/>
<rect x="437.4" y="792.6" width="14" height="1.6" fill="#e8d000"/>
<rect x="345.3" y="794.6" width="8" height="1.3" fill="#c8b840"/>
<rect x="455.1" y="797.5" width="14" height="1.6" fill="#e8d000"/>
<rect x="358.3" y="799.4" width="8" height="1.3" fill="#c8b840"/>
<rect x="418.9" y="802.8" width="14" height="1.6" fill="#e8d000"/>
<rect x="355" y="805" width="8" height="1.3" fill="#c8b840"/>
<rect x="417.4" y="807.4" width="14" height="1.6" fill="#e8d000"/>
<rect x="352.4" y="810.3" width="8" height="1.3" fill="#c8b840"/>
<rect x="455.5" y="813.5" width="14" height="1.6" fill="#e8d000"/>
<rect x="362.3" y="815.1" width="8" height="1.3" fill="#c8b840"/>
<rect x="452" y="818.2" width="14" height="1.6" fill="#e8d000"/>
<rect x="362.6" y="819.7" width="8" height="1.3" fill="#c8b840"/>
<rect x="420.4" y="824.5" width="14" height="1.6" fill="#e8d000"/>
<rect x="346.8" y="824.2" width="8" height="1.3" fill="#c8b840"/>
<rect x="435.6" y="829.9" width="14" height="1.6" fill="#e8d000"/>
<rect x="348.6" y="830.3" width="8" height="1.3" fill="#c8b840"/>
<rect x="433.4" y="834.3" width="14" height="1.6" fill="#e8d000"/>
<rect x="354.9" y="834.8" width="8" height="1.3" fill="#c8b840"/>
<rect x="456.7" y="839.8" width="14" height="1.6" fill="#e8d000"/>
<rect x="362.4" y="840.6" width="8" height="1.3" fill="#c8b840"/>
<rect x="460.6" y="845.6" width="14" height="1.6" fill="#e8d000"/>
<rect x="345.6" y="845.6" width="8" height="1.3" fill="#c8b840"/>
<line x1="90.3" y1="1476.6" x2="213.4" y2="1476.6" stroke="#000" stroke-width="1.5" />
<line x1="90.3" y1="1476.6" x2="90.3" y2="1480.6" stroke="#000" stroke-width="1" />
<line x1="95.4" y1="1476.6" x2="95.4" y2="1480.6" stroke="#000" stroke-width="1" />
<line x1="100.6" y1="1476.6" x2="100.6" y2="1480.6" stroke="#000" stroke-width="1" />
<line x1="105.7" y1="1476.6" x2="105.7" y2="1480.6" stroke="#000" stroke-width="1" />
<line x1="110.8" y1="1476.6" x2="110.8" y2="1480.6" stroke="#000" stroke-width="1" />
<line x1="115.9" y1="1476.6" x2="115.9" y2="1480.6" stroke="#000" stroke-width="1" />
<line x1="121.1" y1="1476.6" x2="121.1" y2="1480.6" stroke="#000" stroke-width="1" />
<line x1="126.2" y1="1476.6" x2="126.2" y2="1480.6" stroke="#000" stroke-width="1" />
<line x1="131.3" y1="1476.6" x2="131.3" y2="1480.6" stroke="#000" stroke-width="1" />
<line x1="136.5" y1="1476.6" x2="136.5" y2="1480.6" stroke="#000" stroke-width="1" />
<line x1="141.6" y1="1476.6" x2="141.6" y2="1480.6" stroke="#000" stroke-width="1" />
<line x1="146.7" y1="1476.6" x2="146.7" y2="1480.6" stroke="#000" stroke-width="1" />
<line x1="151.8" y1="1476.6" x2="151.8" y2="1480.6" stroke="#000" stroke-width="1" />
<line x1="157" y1="1476.6" x2="157" y2="1480.6" stroke="#000" stroke-width="1" />
<line x1="162.1" y1="1476.6" x2="162.1" y2="1480.6" stroke="#000" stroke-width="1" />
<line x1="167.2" y1="1476.6" x2="167.2" y2="1480.6" stroke="#000" stroke-width="1" />
<line x1="172.4" y1="1476.6" x2="172.4" y2="1480.6" stroke="#000" stroke-width="1" />
<line x1="177.5" y1="1476.6" x2="177.5" y2="1480.6" stroke="#000" stroke-width="1" />
<line x1="182.6" y1="1476.6" x2="182.6" y2="1480.6" stroke="#000" stroke-width="1" />
<line x1="187.8" y1="1476.6" x2="187.8" y2="1480.6" stroke="#000" stroke-width="1" />
<line x1="192.9" y1="1476.6" x2="192.9" y2="1480.6" stroke="#000" stroke-width="1" />
<line x1="198" y1="1476.6" x2="198" y2="1480.6" stroke="#000" stroke-width="1" />
<line x1="203.1" y1="1476.6" x2="203.1" y2="1480.6" stroke="#000" stroke-width="1" />
<line x1="208.3" y1="1476.6" x2="208.3" y2="1480.6" stroke="#000" stroke-width="1" />
<line x1="213.4" y1="1476.6" x2="213.4" y2="1480.6" stroke="#000" stroke-width="1" />
<line x1="90.3" y1="1476.6" x2="90.3" y2="1483.6" stroke="#000" stroke-width="1.5" />
<line x1="217.5" y1="1476.6" x2="332.4" y2="1476.6" stroke="#000" stroke-width="1.5" />
<line x1="217.5" y1="1476.6" x2="217.5" y2="1480.6" stroke="#000" stroke-width="1" />
<line x1="222.7" y1="1476.6" x2="222.7" y2="1480.6" stroke="#000" stroke-width="1" />
<line x1="227.9" y1="1476.6" x2="227.9" y2="1480.6" stroke="#000" stroke-width="1" />
<line x1="233.2" y1="1476.6" x2="233.2" y2="1480.6" stroke="#000" stroke-width="1" />
<line x1="238.4" y1="1476.6" x2="238.4" y2="1480.6" stroke="#000" stroke-width="1" />
<line x1="243.6" y1="1476.6" x2="243.6" y2="1480.6" stroke="#000" stroke-width="1" />
<line x1="248.8" y1="1476.6" x2="248.8" y2="1480.6" stroke="#000" stroke-width="1" />
<line x1="254.1" y1="1476.6" x2="254.1" y2="1480.6" stroke="#000" stroke-width="1" />
<line x1="259.3" y1="1476.6" x2="259.3" y2="1480.6" stroke="#000" stroke-width="1" />
<line x1="264.5" y1="1476.6" x2="264.5" y2="1480.6" stroke="#000" stroke-width="1" />
<line x1="269.7" y1="1476.6" x2="269.7" y2="1480.6" stroke="#000" stroke-width="1" />
<line x1="274.9" y1="1476.6" x2="274.9" y2="1480.6" stroke="#000" stroke-width="1" />
<line x1="280.2" y1="1476.6" x2="280.2" y2="1480.6" stroke="#000" stroke-width="1" />
<line x1="285.4" y1="1476.6" x2="285.4" y2="1480.6" stroke="#000" stroke-width="1" />
<line x1="290.6" y1="1476.6" x2="290.6" y2="1480.6" stroke="#000" stroke-width="1" />
<line x1="295.8" y1="1476.6" x2="295.8" y2="1480.6" stroke="#000" stroke-width="1" />
<line x1="301.1" y1="1476.6" x2="301.1" y2="1480.6" stroke="#000" stroke-width="1" />
<line x1="306.3" y1="1476.6" x2="306.3" y2="1480.6" stroke="#000" stroke-width="1" />
<line x1="311.5" y1="1476.6" x2="311.5" y2="1480.6" stroke="#000" stroke-width="1" />
<line x1="316.7" y1="1476.6" x2="316.7" y2="1480.6" stroke="#000" stroke-width="1" />
<line x1="322" y1="1476.6" x2="322" y2="1480.6" stroke="#000" stroke-width="1" />
<line x1="327.2" y1="1476.6" x2="327.2" y2="1480.6" stroke="#000" stroke-width="1" />
<line x1="332.4" y1="1476.6" x2="332.4" y2="1480.6" stroke="#000" stroke-width="1" />
<line x1="217.5" y1="1476.6" x2="217.5" y2="1483.6" stroke="#000" stroke-width="1.5" />
<line x1="342" y1="1476.6" x2="413.1" y2="1476.6" stroke="#000" stroke-width="1.5" />
<line x1="342" y1="1476.6" x2="342" y2="1480.6" stroke="#000" stroke-width="1" />
<line x1="347.1" y1="1476.6" x2="347.1" y2="1480.6" stroke="#000" stroke-width="1" />
<line x1="352.2" y1="1476.6" x2="352.2" y2="1480.6" stroke="#000" stroke-width="1" />
<line x1="357.2" y1="1476.6" x2="357.2" y2="1480.6" stroke="#000" stroke-width="1" />
<line x1="362.3" y1="1476.6" x2="362.3" y2="1480.6" stroke="#000" stroke-width="1" />
<line x1="367.4" y1="1476.6" x2="367.4" y2="1480.6" stroke="#000" stroke-width="1" />
<line x1="372.5" y1="1476.6" x2="372.5" y2="1480.6" stroke="#000" stroke-width="1" />
<line x1="377.6" y1="1476.6" x2="377.6" y2="1480.6" stroke="#000" stroke-width="1" />
<line x1="382.6" y1="1476.6" x2="382.6" y2="1480.6" stroke="#000" stroke-width="1" />
<line x1="387.7" y1="1476.6" x2="387.7" y2="1480.6" stroke="#000" stroke-width="1" />
<line x1="392.8" y1="1476.6" x2="392.8" y2="1480.6" stroke="#000" stroke-width="1" />
<line x1="397.9" y1="1476.6" x2="397.9" y2="1480.6" stroke="#000" stroke-width="1" />
<line x1="402.9" y1="1476.6" x2="402.9" y2="1480.6" stroke="#000" stroke-width="1" />
<line x1="408" y1="1476.6" x2="408" y2="1480.6" stroke="#000" stroke-width="1" />
<line x1="413.1" y1="1476.6" x2="413.1" y2="1480.6" stroke="#000" stroke-width="1" />
<line x1="342" y1="1476.6" x2="342" y2="1483.6" stroke="#000" stroke-width="1.5" />
<line x1="419.4" y1="1476.6" x2="491.1" y2="1476.6" stroke="#000" stroke-width="1.5" />
<line x1="419.4" y1="1476.6" x2="419.4" y2="1480.6" stroke="#000" stroke-width="1" />
<line x1="424.5" y1="1476.6" x2="424.5" y2="1480.6" stroke="#000" stroke-width="1" />
<line x1="429.6" y1="1476.6" x2="429.6" y2="1480.6" stroke="#000" stroke-width="1" />
<line x1="434.8" y1="1476.6" x2="434.8" y2="1480.6" stroke="#000" stroke-width="1" />
<line x1="439.9" y1="1476.6" x2="439.9" y2="1480.6" stroke="#000" stroke-width="1" />
<line x1="445" y1="1476.6" x2="445" y2="1480.6" stroke="#000" stroke-width="1" />
<line x1="450.1" y1="1476.6" x2="450.1" y2="1480.6" stroke="#000" stroke-width="1" />
<line x1="455.2" y1="1476.6" x2="455.2" y2="1480.6" stroke="#000" stroke-width="1" />
<line x1="460.4" y1="1476.6" x2="460.4" y2="1480.6" stroke="#000" stroke-width="1" />
<line x1="465.5" y1="1476.6" x2="465.5" y2="1480.6" stroke="#000" stroke-width="1" />
<line x1="470.6" y1="1476.6" x2="470.6" y2="1480.6" stroke="#000" stroke-width="1" />
<line x1="475.7" y1="1476.6" x2="475.7" y2="1480.6" stroke="#000" stroke-width="1" />
<line x1="480.9" y1="1476.6" x2="480.9" y2="1480.6" stroke="#000" stroke-width="1" />
<line x1="486" y1="1476.6" x2="486" y2="1480.6" stroke="#000" stroke-width="1" />
<line x1="491.1" y1="1476.6" x2="491.1" y2="1480.6" stroke="#000" stroke-width="1" />
<line x1="419.4" y1="1476.6" x2="419.4" y2="1483.6" stroke="#000" stroke-width="1.5" />
<text x="87.5" y="1499" font-size="19" font-weight="normal" font-style="normal" text-anchor="start">%</text>
<text x="136" y="1508" font-size="25" font-weight="normal" font-style="normal" text-anchor="middle">40</text>
<text x="188" y="1508" font-size="25" font-weight="normal" font-style="normal" text-anchor="middle">80</text>
<text x="278.4" y="1508" font-size="25" font-weight="normal" font-style="normal" text-anchor="middle">40</text>
<text x="331.7" y="1508" font-size="25" font-weight="normal" font-style="normal" text-anchor="middle">80</text>
<text x="401.6" y="1508" font-size="25" font-weight="normal" font-style="normal" text-anchor="middle">40</text>
<text x="475.4" y="1508" font-size="25" font-weight="normal" font-style="normal" text-anchor="middle">40</text>
<polyline points="58,846.8 506.2,846.8 592,270 606.6,270" fill="none" stroke="#000" stroke-width="1.5"/>
<polyline points="58,1034.2 506.2,1034.2 592.4,1507.6 607.8,1507.6" fill="none" stroke="#000" stroke-width="1.5"/>
</g>
<text x="616.5" y="131.4" font-size="50" font-weight="normal" font-style="normal" text-anchor="start">b</text>
<text transform="translate(650,263) rotate(-90)" font-size="29.5" font-weight="bold" font-style="normal" text-anchor="start">depth</text>
<text transform="translate(683,263) rotate(-90)" font-size="29.5" font-weight="bold" font-style="normal" text-anchor="start">(m)</text>
<text transform="translate(738,261) rotate(-90)" font-size="31.1" font-weight="bold" font-style="normal" text-anchor="start">Age (yrs cal BP)</text>
<text transform="translate(789,261) rotate(-90)" font-size="31.2" font-weight="bold" font-style="normal" text-anchor="start">Yrs cal BP (2σ</text>
<text transform="translate(825,261) rotate(-90)" font-size="31.2" font-weight="bold" font-style="normal" text-anchor="start">calibration range)</text>
<text transform="translate(870,262) rotate(-90)" font-size="30.9" font-weight="bold" font-style="normal" text-anchor="start">Time constraints</text>
<text transform="translate(916,262) rotate(-90)" font-size="30.6" font-weight="bold" font-style="normal" text-anchor="start">Fimon PD</text>
<text transform="translate(985,265) rotate(-90)" font-size="29.5" font-weight="bold" font-style="normal" text-anchor="start"><tspan font-style="italic">Pinus sylv./</tspan></text>
<text transform="translate(1017,265) rotate(-90)" font-size="29.5" font-weight="bold" font-style="normal" text-anchor="start"><tspan font-style="italic">mugo</tspan></text>
<line x1="688.9" y1="270" x2="688.9" y2="1507.6" stroke="#000" stroke-width="1.8" />
<line x1="680.5" y1="269.8" x2="688.9" y2="269.8" stroke="#000" stroke-width="1.5" />
<line x1="680.5" y1="294.6" x2="688.9" y2="294.6" stroke="#000" stroke-width="1.5" />
<line x1="680.5" y1="319.3" x2="688.9" y2="319.3" stroke="#000" stroke-width="1.5" />
<text x="679.3" y="328.3" font-size="24.5" font-weight="bold" font-style="normal" text-anchor="end">19.40</text>
<line x1="680.5" y1="344.1" x2="688.9" y2="344.1" stroke="#000" stroke-width="1.5" />
<line x1="680.5" y1="368.8" x2="688.9" y2="368.8" stroke="#000" stroke-width="1.5" />
<text x="679.3" y="377.8" font-size="24.5" font-weight="bold" font-style="normal" text-anchor="end">19.50</text>
<line x1="680.5" y1="393.6" x2="688.9" y2="393.6" stroke="#000" stroke-width="1.5" />
<line x1="680.5" y1="418.3" x2="688.9" y2="418.3" stroke="#000" stroke-width="1.5" />
<text x="679.3" y="427.3" font-size="24.5" font-weight="bold" font-style="normal" text-anchor="end">19.60</text>
<line x1="680.5" y1="443.1" x2="688.9" y2="443.1" stroke="#000" stroke-width="1.5" />
<line x1="680.5" y1="467.8" x2="688.9" y2="467.8" stroke="#000" stroke-width="1.5" />
<text x="679.3" y="476.8" font-size="24.5" font-weight="bold" font-style="normal" text-anchor="end">19.70</text>
<line x1="680.5" y1="492.6" x2="688.9" y2="492.6" stroke="#000" stroke-width="1.5" />
<line x1="680.5" y1="517.3" x2="688.9" y2="517.3" stroke="#000" stroke-width="1.5" />
<text x="679.3" y="526.3" font-size="24.5" font-weight="bold" font-style="normal" text-anchor="end">19.80</text>
<line x1="680.5" y1="542.1" x2="688.9" y2="542.1" stroke="#000" stroke-width="1.5" />
<line x1="680.5" y1="566.8" x2="688.9" y2="566.8" stroke="#000" stroke-width="1.5" />
<text x="679.3" y="575.8" font-size="24.5" font-weight="bold" font-style="normal" text-anchor="end">19.90</text>
<line x1="680.5" y1="591.6" x2="688.9" y2="591.6" stroke="#000" stroke-width="1.5" />
<line x1="680.5" y1="616.3" x2="688.9" y2="616.3" stroke="#000" stroke-width="1.5" />
<text x="679.3" y="625.3" font-size="24.5" font-weight="bold" font-style="normal" text-anchor="end">20.00</text>
<line x1="680.5" y1="641.1" x2="688.9" y2="641.1" stroke="#000" stroke-width="1.5" />
<line x1="680.5" y1="665.8" x2="688.9" y2="665.8" stroke="#000" stroke-width="1.5" />
<text x="679.3" y="674.8" font-size="24.5" font-weight="bold" font-style="normal" text-anchor="end">20.10</text>
<line x1="680.5" y1="690.6" x2="688.9" y2="690.6" stroke="#000" stroke-width="1.5" />
<line x1="680.5" y1="715.3" x2="688.9" y2="715.3" stroke="#000" stroke-width="1.5" />
<text x="679.3" y="724.3" font-size="24.5" font-weight="bold" font-style="normal" text-anchor="end">20.20</text>
<line x1="680.5" y1="740.1" x2="688.9" y2="740.1" stroke="#000" stroke-width="1.5" />
<line x1="680.5" y1="764.8" x2="688.9" y2="764.8" stroke="#000" stroke-width="1.5" />
<text x="679.3" y="773.8" font-size="24.5" font-weight="bold" font-style="normal" text-anchor="end">20.30</text>
<line x1="680.5" y1="789.6" x2="688.9" y2="789.6" stroke="#000" stroke-width="1.5" />
<line x1="680.5" y1="814.3" x2="688.9" y2="814.3" stroke="#000" stroke-width="1.5" />
<text x="679.3" y="823.3" font-size="24.5" font-weight="bold" font-style="normal" text-anchor="end">20.40</text>
<line x1="680.5" y1="839.1" x2="688.9" y2="839.1" stroke="#000" stroke-width="1.5" />
<line x1="680.5" y1="863.8" x2="688.9" y2="863.8" stroke="#000" stroke-width="1.5" />
<text x="679.3" y="872.8" font-size="24.5" font-weight="bold" font-style="normal" text-anchor="end">20.50</text>
<line x1="680.5" y1="888.6" x2="688.9" y2="888.6" stroke="#000" stroke-width="1.5" />
<line x1="680.5" y1="913.3" x2="688.9" y2="913.3" stroke="#000" stroke-width="1.5" />
<text x="679.3" y="922.3" font-size="24.5" font-weight="bold" font-style="normal" text-anchor="end">20.60</text>
<line x1="680.5" y1="938.1" x2="688.9" y2="938.1" stroke="#000" stroke-width="1.5" />
<line x1="680.5" y1="962.8" x2="688.9" y2="962.8" stroke="#000" stroke-width="1.5" />
<text x="679.3" y="971.8" font-size="24.5" font-weight="bold" font-style="normal" text-anchor="end">20.70</text>
<line x1="680.5" y1="987.6" x2="688.9" y2="987.6" stroke="#000" stroke-width="1.5" />
<line x1="680.5" y1="1012.3" x2="688.9" y2="1012.3" stroke="#000" stroke-width="1.5" />
<text x="679.3" y="1021.3" font-size="24.5" font-weight="bold" font-style="normal" text-anchor="end">20.80</text>
<line x1="680.5" y1="1037.1" x2="688.9" y2="1037.1" stroke="#000" stroke-width="1.5" />
<line x1="680.5" y1="1061.8" x2="688.9" y2="1061.8" stroke="#000" stroke-width="1.5" />
<text x="679.3" y="1070.8" font-size="24.5" font-weight="bold" font-style="normal" text-anchor="end">20.90</text>
<line x1="680.5" y1="1086.6" x2="688.9" y2="1086.6" stroke="#000" stroke-width="1.5" />
<line x1="680.5" y1="1111.3" x2="688.9" y2="1111.3" stroke="#000" stroke-width="1.5" />
<text x="679.3" y="1120.3" font-size="24.5" font-weight="bold" font-style="normal" text-anchor="end">21.00</text>
<line x1="680.5" y1="1136.1" x2="688.9" y2="1136.1" stroke="#000" stroke-width="1.5" />
<line x1="680.5" y1="1160.8" x2="688.9" y2="1160.8" stroke="#000" stroke-width="1.5" />
<text x="679.3" y="1169.8" font-size="24.5" font-weight="bold" font-style="normal" text-anchor="end">21.10</text>
<line x1="680.5" y1="1185.6" x2="688.9" y2="1185.6" stroke="#000" stroke-width="1.5" />
<line x1="680.5" y1="1210.3" x2="688.9" y2="1210.3" stroke="#000" stroke-width="1.5" />
<text x="679.3" y="1219.3" font-size="24.5" font-weight="bold" font-style="normal" text-anchor="end">21.20</text>
<line x1="680.5" y1="1235.1" x2="688.9" y2="1235.1" stroke="#000" stroke-width="1.5" />
<line x1="680.5" y1="1259.8" x2="688.9" y2="1259.8" stroke="#000" stroke-width="1.5" />
<text x="679.3" y="1268.8" font-size="24.5" font-weight="bold" font-style="normal" text-anchor="end">21.30</text>
<line x1="680.5" y1="1284.6" x2="688.9" y2="1284.6" stroke="#000" stroke-width="1.5" />
<line x1="680.5" y1="1309.3" x2="688.9" y2="1309.3" stroke="#000" stroke-width="1.5" />
<text x="679.3" y="1318.3" font-size="24.5" font-weight="bold" font-style="normal" text-anchor="end">21.40</text>
<line x1="680.5" y1="1334.1" x2="688.9" y2="1334.1" stroke="#000" stroke-width="1.5" />
<line x1="680.5" y1="1358.8" x2="688.9" y2="1358.8" stroke="#000" stroke-width="1.5" />
<text x="679.3" y="1367.8" font-size="24.5" font-weight="bold" font-style="normal" text-anchor="end">21.50</text>
<line x1="680.5" y1="1383.6" x2="688.9" y2="1383.6" stroke="#000" stroke-width="1.5" />
<line x1="680.5" y1="1408.3" x2="688.9" y2="1408.3" stroke="#000" stroke-width="1.5" />
<text x="679.3" y="1417.3" font-size="24.5" font-weight="bold" font-style="normal" text-anchor="end">21.60</text>
<line x1="680.5" y1="1433.1" x2="688.9" y2="1433.1" stroke="#000" stroke-width="1.5" />
<line x1="680.5" y1="1457.8" x2="688.9" y2="1457.8" stroke="#000" stroke-width="1.5" />
<text x="679.3" y="1466.8" font-size="24.5" font-weight="bold" font-style="normal" text-anchor="end">21.70</text>
<line x1="680.5" y1="1482.6" x2="688.9" y2="1482.6" stroke="#000" stroke-width="1.5" />
<line x1="680.5" y1="1507.3" x2="688.9" y2="1507.3" stroke="#000" stroke-width="1.5" />
<text x="679.3" y="1516.3" font-size="24.5" font-weight="bold" font-style="normal" text-anchor="end">21.80</text>
<line x1="762" y1="319.3" x2="762" y2="1482" stroke="#000" stroke-width="1.8" />
<line x1="753.5" y1="329" x2="762" y2="329" stroke="#000" stroke-width="1.5" />
<line x1="753.5" y1="432.6" x2="762" y2="432.6" stroke="#000" stroke-width="1.5" />
<line x1="753.5" y1="502" x2="762" y2="502" stroke="#000" stroke-width="1.5" />
<line x1="750" y1="534.3" x2="762" y2="534.3" stroke="#000" stroke-width="1.5" />
<text x="744.5" y="542.5" font-size="23" font-weight="bold" font-style="normal" text-anchor="end">30</text>
<line x1="753.5" y1="565.6" x2="762" y2="565.6" stroke="#000" stroke-width="1.5" />
<line x1="753.5" y1="598.5" x2="762" y2="598.5" stroke="#000" stroke-width="1.5" />
<line x1="753.5" y1="629.7" x2="762" y2="629.7" stroke="#000" stroke-width="1.5" />
<line x1="753.5" y1="661.1" x2="762" y2="661.1" stroke="#000" stroke-width="1.5" />
<line x1="750" y1="692.3" x2="762" y2="692.3" stroke="#000" stroke-width="1.5" />
<text x="744.5" y="700.5" font-size="23" font-weight="bold" font-style="normal" text-anchor="end">35</text>
<line x1="753.5" y1="723.5" x2="762" y2="723.5" stroke="#000" stroke-width="1.5" />
<line x1="753.5" y1="756.7" x2="762" y2="756.7" stroke="#000" stroke-width="1.5" />
<line x1="753.5" y1="787.6" x2="762" y2="787.6" stroke="#000" stroke-width="1.5" />
<line x1="753.5" y1="834.5" x2="762" y2="834.5" stroke="#000" stroke-width="1.5" />
<line x1="750" y1="902.6" x2="762" y2="902.6" stroke="#000" stroke-width="1.5" />
<text x="744.5" y="910.8" font-size="23" font-weight="bold" font-style="normal" text-anchor="end">40</text>
<line x1="753.5" y1="970.7" x2="762" y2="970.7" stroke="#000" stroke-width="1.5" />
<line x1="753.5" y1="1038.9" x2="762" y2="1038.9" stroke="#000" stroke-width="1.5" />
<line x1="753.5" y1="1068.5" x2="762" y2="1068.5" stroke="#000" stroke-width="1.5" />
<line x1="753.5" y1="1093.4" x2="762" y2="1093.4" stroke="#000" stroke-width="1.5" />
<line x1="750" y1="1116.1" x2="762" y2="1116.1" stroke="#000" stroke-width="1.5" />
<text x="744.5" y="1124.3" font-size="23" font-weight="bold" font-style="normal" text-anchor="end">45</text>
<line x1="753.5" y1="1141.8" x2="762" y2="1141.8" stroke="#000" stroke-width="1.5" />
<line x1="753.5" y1="1165.9" x2="762" y2="1165.9" stroke="#000" stroke-width="1.5" />
<line x1="753.5" y1="1189.3" x2="762" y2="1189.3" stroke="#000" stroke-width="1.5" />
<line x1="753.5" y1="1212.9" x2="762" y2="1212.9" stroke="#000" stroke-width="1.5" />
<line x1="750" y1="1238.8" x2="762" y2="1238.8" stroke="#000" stroke-width="1.5" />
<text x="744.5" y="1247" font-size="23" font-weight="bold" font-style="normal" text-anchor="end">50</text>
<line x1="753.5" y1="1262.5" x2="762" y2="1262.5" stroke="#000" stroke-width="1.5" />
<line x1="753.5" y1="1287.1" x2="762" y2="1287.1" stroke="#000" stroke-width="1.5" />
<line x1="753.5" y1="1310.7" x2="762" y2="1310.7" stroke="#000" stroke-width="1.5" />
<line x1="753.5" y1="1334.1" x2="762" y2="1334.1" stroke="#000" stroke-width="1.5" />
<line x1="750" y1="1359.5" x2="762" y2="1359.5" stroke="#000" stroke-width="1.5" />
<text x="744.5" y="1367.7" font-size="23" font-weight="bold" font-style="normal" text-anchor="end">55</text>
<line x1="753.5" y1="1383.7" x2="762" y2="1383.7" stroke="#000" stroke-width="1.5" />
<line x1="753.5" y1="1407.8" x2="762" y2="1407.8" stroke="#000" stroke-width="1.5" />
<line x1="753.5" y1="1432" x2="762" y2="1432" stroke="#000" stroke-width="1.5" />
<line x1="753.5" y1="1457.4" x2="762" y2="1457.4" stroke="#000" stroke-width="1.5" />
<line x1="750" y1="1481.5" x2="762" y2="1481.5" stroke="#000" stroke-width="1.5" />
<text x="744.5" y="1489.7" font-size="23" font-weight="bold" font-style="normal" text-anchor="end">60</text>
<text x="848" y="330" font-size="24.6" font-weight="bold" font-style="normal" text-anchor="end">26454-</text>
<text x="848.5" y="358.2" font-size="24.6" font-weight="bold" font-style="normal" text-anchor="end">27213</text>
<text x="848" y="392" font-size="24.6" font-weight="bold" font-style="normal" text-anchor="end">27252-</text>
<text x="848.5" y="420.2" font-size="24.6" font-weight="bold" font-style="normal" text-anchor="end">27683</text>
<text x="848" y="499.7" font-size="24.6" font-weight="bold" font-style="normal" text-anchor="end">28037-</text>
<text x="848.5" y="527.9" font-size="24.6" font-weight="bold" font-style="normal" text-anchor="end">29058</text>
<text x="848" y="561.5" font-size="24.6" font-weight="bold" font-style="normal" text-anchor="end">30125-</text>
<text x="848.5" y="589.7" font-size="24.6" font-weight="bold" font-style="normal" text-anchor="end">30768</text>
<text x="848" y="811.7" font-size="24.6" font-weight="bold" font-style="normal" text-anchor="end">37036-</text>
<text x="848.5" y="839.9" font-size="24.6" font-weight="bold" font-style="normal" text-anchor="end">40225</text>
<text x="848" y="1047" font-size="24.6" font-weight="bold" font-style="normal" text-anchor="end">40950-</text>
<text x="848.5" y="1075.2" font-size="24.6" font-weight="bold" font-style="normal" text-anchor="end">42744</text>
<text x="848" y="1484.4" font-size="24.6" font-weight="bold" font-style="normal" text-anchor="end">59800-</text>
<text x="848.5" y="1512.6" font-size="24.6" font-weight="bold" font-style="normal" text-anchor="end">60600</text>
<rect x="860.5" y="320.5" width="14" height="5" fill="#111" />
<rect x="860.5" y="375" width="14" height="6" fill="#111" />
<rect x="860.5" y="488.8" width="14" height="8.2" fill="#111" />
<rect x="860.5" y="547" width="14" height="7" fill="#111" />
<rect x="860.5" y="800.4" width="14" height="9.8" fill="#111" />
<rect x="860.5" y="1035.6" width="14" height="11.1" fill="#111" />
<rect x="860.5" y="1463.2" width="10.5" height="20.5" fill="#f8dc10" />
<rect x="886.8" y="273" width="39.8" height="45.8" fill="url(#silt)"/>
<rect x="886.8" y="318.8" width="52.1" height="245.2" fill="#151515" />
<rect x="886.8" y="564" width="47.1" height="10" fill="url(#sgyt)"/>
<rect x="886.8" y="574" width="39" height="39.8" fill="url(#silt)"/>
<rect x="886.8" y="613.8" width="47.1" height="43.2" fill="url(#gyt)"/>
<rect x="886.8" y="657" width="39.6" height="75.2" fill="url(#carb)"/>
<rect x="886.8" y="732.2" width="46.5" height="94.8" fill="url(#gyt)"/>
<rect x="886.8" y="827" width="38.8" height="319.4" fill="url(#silt)"/>
<rect x="886.8" y="1146.4" width="46.7" height="96.4" fill="url(#gyt)"/>
<rect x="886.8" y="1242.8" width="38.8" height="57.2" fill="url(#silt)"/>
<rect x="886.8" y="1300" width="46.1" height="52" fill="url(#carb)"/>
<path d="M886.8,1318 q8,-6 14,-2 q8,-5 14,-3 q8,-8 18,-6 L932.9,1352 L886.8,1352 Z" fill="#a09e86"/>
<path d="M892,1340 q10,-14 22,-9 q10,2 12,10 z" fill="#e1ddd5" stroke="#222" stroke-width="0.6"/>
<rect x="886.8" y="1352" width="46.1" height="94.4" fill="url(#gyt)"/>
<rect x="886.8" y="1446.4" width="38.8" height="60.6" fill="url(#silt)"/>
<line x1="917.5" y1="273" x2="917.5" y2="318.8" stroke="#e8e8e8" stroke-width="1" />
<line x1="886.8" y1="296" x2="926" y2="296" stroke="#e0e0e0" stroke-width="0.8" />
<line x1="917.5" y1="574" x2="917.5" y2="613.8" stroke="#e8e8e8" stroke-width="1" />
<line x1="886.8" y1="597" x2="926" y2="597" stroke="#e0e0e0" stroke-width="0.8" />
<line x1="917.5" y1="827" x2="917.5" y2="1146.4" stroke="#e8e8e8" stroke-width="1" />
<line x1="886.8" y1="850" x2="926" y2="850" stroke="#e0e0e0" stroke-width="0.8" />
<line x1="886.8" y1="874" x2="926" y2="874" stroke="#e0e0e0" stroke-width="0.8" />
<line x1="886.8" y1="898" x2="926" y2="898" stroke="#e0e0e0" stroke-width="0.8" />
<line x1="886.8" y1="922" x2="926" y2="922" stroke="#e0e0e0" stroke-width="0.8" />
<line x1="886.8" y1="946" x2="926" y2="946" stroke="#e0e0e0" stroke-width="0.8" />
<line x1="886.8" y1="970" x2="926" y2="970" stroke="#e0e0e0" stroke-width="0.8" />
<line x1="886.8" y1="994" x2="926" y2="994" stroke="#e0e0e0" stroke-width="0.8" />
<line x1="886.8" y1="1018" x2="926" y2="1018" stroke="#e0e0e0" stroke-width="0.8" />
<line x1="886.8" y1="1042" x2="926" y2="1042" stroke="#e0e0e0" stroke-width="0.8" />
<line x1="886.8" y1="1066" x2="926" y2="1066" stroke="#e0e0e0" stroke-width="0.8" />
<line x1="886.8" y1="1090" x2="926" y2="1090" stroke="#e0e0e0" stroke-width="0.8" />
<line x1="886.8" y1="1114" x2="926" y2="1114" stroke="#e0e0e0" stroke-width="0.8" />
<line x1="886.8" y1="1138" x2="926" y2="1138" stroke="#e0e0e0" stroke-width="0.8" />
<line x1="917.5" y1="1242.8" x2="917.5" y2="1300" stroke="#e8e8e8" stroke-width="1" />
<line x1="886.8" y1="1265.8" x2="926" y2="1265.8" stroke="#e0e0e0" stroke-width="0.8" />
<line x1="886.8" y1="1289.8" x2="926" y2="1289.8" stroke="#e0e0e0" stroke-width="0.8" />
<line x1="917.5" y1="1446.4" x2="917.5" y2="1507" stroke="#e8e8e8" stroke-width="1" />
<line x1="886.8" y1="1469.4" x2="926" y2="1469.4" stroke="#e0e0e0" stroke-width="0.8" />
<line x1="886.8" y1="1493.4" x2="926" y2="1493.4" stroke="#e0e0e0" stroke-width="0.8" />
<path d="M887,826 l6,1 5,-1 5,3 5,3 5,-3 6,0 6,0 6,1" fill="none" stroke="#111" stroke-width="2.2" stroke-dasharray="3 2.5"/>
<line x1="964.8" y1="304.5" x2="1167.5" y2="304.5" stroke="#000" stroke-width="1.5" />
<line x1="977.5" y1="304.5" x2="977.5" y2="309.5" stroke="#000" stroke-width="1.2" />
<line x1="990.1" y1="304.5" x2="990.1" y2="309.5" stroke="#000" stroke-width="1.2" />
<line x1="1002.8" y1="304.5" x2="1002.8" y2="309.5" stroke="#000" stroke-width="1.2" />
<line x1="1015.5" y1="304.5" x2="1015.5" y2="309.5" stroke="#000" stroke-width="1.2" />
<line x1="1028.1" y1="304.5" x2="1028.1" y2="309.5" stroke="#000" stroke-width="1.2" />
<line x1="1040.8" y1="304.5" x2="1040.8" y2="309.5" stroke="#000" stroke-width="1.2" />
<line x1="1053.5" y1="304.5" x2="1053.5" y2="309.5" stroke="#000" stroke-width="1.2" />
<line x1="1066.2" y1="304.5" x2="1066.2" y2="309.5" stroke="#000" stroke-width="1.2" />
<line x1="1078.8" y1="304.5" x2="1078.8" y2="309.5" stroke="#000" stroke-width="1.2" />
<line x1="1091.5" y1="304.5" x2="1091.5" y2="309.5" stroke="#000" stroke-width="1.2" />
<line x1="1104.2" y1="304.5" x2="1104.2" y2="309.5" stroke="#000" stroke-width="1.2" />
<line x1="1116.8" y1="304.5" x2="1116.8" y2="309.5" stroke="#000" stroke-width="1.2" />
<line x1="1129.5" y1="304.5" x2="1129.5" y2="309.5" stroke="#000" stroke-width="1.2" />
<line x1="1142.2" y1="304.5" x2="1142.2" y2="309.5" stroke="#000" stroke-width="1.2" />
<line x1="1154.8" y1="304.5" x2="1154.8" y2="309.5" stroke="#000" stroke-width="1.2" />
<line x1="1167.5" y1="304.5" x2="1167.5" y2="309.5" stroke="#000" stroke-width="1.2" />
<line x1="964.8" y1="287" x2="964.8" y2="1508" stroke="#000" stroke-width="1.4" />
<line x1="964.8" y1="1491.5" x2="1167.5" y2="1491.5" stroke="#000" stroke-width="1.5" />
<line x1="977.5" y1="1491.5" x2="977.5" y2="1500.5" stroke="#000" stroke-width="1.2" />
<line x1="990.1" y1="1491.5" x2="990.1" y2="1500.5" stroke="#000" stroke-width="1.2" />
<line x1="1002.8" y1="1491.5" x2="1002.8" y2="1500.5" stroke="#000" stroke-width="1.2" />
<line x1="1015.5" y1="1491.5" x2="1015.5" y2="1500.5" stroke="#000" stroke-width="1.2" />
<line x1="1028.1" y1="1491.5" x2="1028.1" y2="1500.5" stroke="#000" stroke-width="1.2" />
<line x1="1040.8" y1="1491.5" x2="1040.8" y2="1500.5" stroke="#000" stroke-width="1.2" />
<line x1="1053.5" y1="1491.5" x2="1053.5" y2="1500.5" stroke="#000" stroke-width="1.2" />
<line x1="1066.2" y1="1491.5" x2="1066.2" y2="1500.5" stroke="#000" stroke-width="1.2" />
<line x1="1078.8" y1="1491.5" x2="1078.8" y2="1500.5" stroke="#000" stroke-width="1.2" />
<line x1="1091.5" y1="1491.5" x2="1091.5" y2="1500.5" stroke="#000" stroke-width="1.2" />
<line x1="1104.2" y1="1491.5" x2="1104.2" y2="1500.5" stroke="#000" stroke-width="1.2" />
<line x1="1116.8" y1="1491.5" x2="1116.8" y2="1500.5" stroke="#000" stroke-width="1.2" />
<line x1="1129.5" y1="1491.5" x2="1129.5" y2="1500.5" stroke="#000" stroke-width="1.2" />
<line x1="1142.2" y1="1491.5" x2="1142.2" y2="1500.5" stroke="#000" stroke-width="1.2" />
<line x1="1154.8" y1="1491.5" x2="1154.8" y2="1500.5" stroke="#000" stroke-width="1.2" />
<line x1="1167.5" y1="1491.5" x2="1167.5" y2="1500.5" stroke="#000" stroke-width="1.2" />
<line x1="964.8" y1="1483.6" x2="1167.5" y2="1483.6" stroke="#c8c8c8" stroke-width="1.2" />
<line x1="1174" y1="304.5" x2="1239.6" y2="304.5" stroke="#000" stroke-width="1.5" />
<line x1="1206.8" y1="304.5" x2="1206.8" y2="309.5" stroke="#000" stroke-width="1.2" />
<line x1="1239.6" y1="304.5" x2="1239.6" y2="309.5" stroke="#000" stroke-width="1.2" />
<line x1="1174" y1="290" x2="1174" y2="1508" stroke="#000" stroke-width="1.4" />
<line x1="1174" y1="1491.5" x2="1239.6" y2="1491.5" stroke="#000" stroke-width="1.5" />
<line x1="1206.8" y1="1491.5" x2="1206.8" y2="1500.5" stroke="#000" stroke-width="1.2" />
<line x1="1239.6" y1="1491.5" x2="1239.6" y2="1500.5" stroke="#000" stroke-width="1.2" />
<line x1="1174" y1="1483.6" x2="1239.6" y2="1483.6" stroke="#c8c8c8" stroke-width="1.2" />
<line x1="1245.8" y1="304.5" x2="1324.3" y2="304.5" stroke="#000" stroke-width="1.5" />
<line x1="1258.9" y1="304.5" x2="1258.9" y2="309.5" stroke="#000" stroke-width="1.2" />
<line x1="1272" y1="304.5" x2="1272" y2="309.5" stroke="#000" stroke-width="1.2" />
<line x1="1285" y1="304.5" x2="1285" y2="309.5" stroke="#000" stroke-width="1.2" />
<line x1="1298.1" y1="304.5" x2="1298.1" y2="309.5" stroke="#000" stroke-width="1.2" />
<line x1="1311.2" y1="304.5" x2="1311.2" y2="309.5" stroke="#000" stroke-width="1.2" />
<line x1="1324.3" y1="304.5" x2="1324.3" y2="309.5" stroke="#000" stroke-width="1.2" />
<line x1="1245.8" y1="290" x2="1245.8" y2="1508" stroke="#000" stroke-width="1.4" />
<line x1="1245.8" y1="1491.5" x2="1324.3" y2="1491.5" stroke="#000" stroke-width="1.5" />
<line x1="1258.9" y1="1491.5" x2="1258.9" y2="1500.5" stroke="#000" stroke-width="1.2" />
<line x1="1272" y1="1491.5" x2="1272" y2="1500.5" stroke="#000" stroke-width="1.2" />
<line x1="1285" y1="1491.5" x2="1285" y2="1500.5" stroke="#000" stroke-width="1.2" />
<line x1="1298.1" y1="1491.5" x2="1298.1" y2="1500.5" stroke="#000" stroke-width="1.2" />
<line x1="1311.2" y1="1491.5" x2="1311.2" y2="1500.5" stroke="#000" stroke-width="1.2" />
<line x1="1324.3" y1="1491.5" x2="1324.3" y2="1500.5" stroke="#000" stroke-width="1.2" />
<line x1="1245.8" y1="1483.6" x2="1324.3" y2="1483.6" stroke="#c8c8c8" stroke-width="1.2" />
<line x1="1331.4" y1="304.5" x2="1393" y2="304.5" stroke="#000" stroke-width="1.5" />
<line x1="1393" y1="304.5" x2="1393" y2="309.5" stroke="#000" stroke-width="1.2" />
<line x1="1331.4" y1="290" x2="1331.4" y2="1508" stroke="#000" stroke-width="1.4" />
<line x1="1331.4" y1="1491.5" x2="1393" y2="1491.5" stroke="#000" stroke-width="1.5" />
<line x1="1393" y1="1491.5" x2="1393" y2="1500.5" stroke="#000" stroke-width="1.2" />
<line x1="1331.4" y1="1483.6" x2="1393" y2="1483.6" stroke="#c8c8c8" stroke-width="1.2" />
<line x1="1401.4" y1="304.5" x2="1464.7" y2="304.5" stroke="#000" stroke-width="1.5" />
<line x1="1464.7" y1="304.5" x2="1464.7" y2="309.5" stroke="#000" stroke-width="1.2" />
<line x1="1401.4" y1="290" x2="1401.4" y2="1508" stroke="#000" stroke-width="1.4" />
<line x1="1401.4" y1="1491.5" x2="1464.7" y2="1491.5" stroke="#000" stroke-width="1.5" />
<line x1="1464.7" y1="1491.5" x2="1464.7" y2="1500.5" stroke="#000" stroke-width="1.2" />
<line x1="1401.4" y1="1483.6" x2="1464.7" y2="1483.6" stroke="#c8c8c8" stroke-width="1.2" />
<line x1="1476" y1="304.5" x2="1545.7" y2="304.5" stroke="#000" stroke-width="1.5" />
<line x1="1487.6" y1="304.5" x2="1487.6" y2="309.5" stroke="#000" stroke-width="1.2" />
<line x1="1499.2" y1="304.5" x2="1499.2" y2="309.5" stroke="#000" stroke-width="1.2" />
<line x1="1510.8" y1="304.5" x2="1510.8" y2="309.5" stroke="#000" stroke-width="1.2" />
<line x1="1522.5" y1="304.5" x2="1522.5" y2="309.5" stroke="#000" stroke-width="1.2" />
<line x1="1534.1" y1="304.5" x2="1534.1" y2="309.5" stroke="#000" stroke-width="1.2" />
<line x1="1545.7" y1="304.5" x2="1545.7" y2="309.5" stroke="#000" stroke-width="1.2" />
<line x1="1476" y1="290" x2="1476" y2="1508" stroke="#000" stroke-width="1.4" />
<line x1="1476" y1="1491.5" x2="1545.7" y2="1491.5" stroke="#000" stroke-width="1.5" />
<line x1="1487.6" y1="1491.5" x2="1487.6" y2="1500.5" stroke="#000" stroke-width="1.2" />
<line x1="1499.2" y1="1491.5" x2="1499.2" y2="1500.5" stroke="#000" stroke-width="1.2" />
<line x1="1510.8" y1="1491.5" x2="1510.8" y2="1500.5" stroke="#000" stroke-width="1.2" />
<line x1="1522.5" y1="1491.5" x2="1522.5" y2="1500.5" stroke="#000" stroke-width="1.2" />
<line x1="1534.1" y1="1491.5" x2="1534.1" y2="1500.5" stroke="#000" stroke-width="1.2" />
<line x1="1545.7" y1="1491.5" x2="1545.7" y2="1500.5" stroke="#000" stroke-width="1.2" />
<line x1="1476" y1="1483.6" x2="1545.7" y2="1483.6" stroke="#c8c8c8" stroke-width="1.2" />
<line x1="1561.6" y1="304.5" x2="1613.9" y2="304.5" stroke="#000" stroke-width="1.5" />
<line x1="1574.7" y1="304.5" x2="1574.7" y2="309.5" stroke="#000" stroke-width="1.2" />
<line x1="1587.8" y1="304.5" x2="1587.8" y2="309.5" stroke="#000" stroke-width="1.2" />
<line x1="1600.8" y1="304.5" x2="1600.8" y2="309.5" stroke="#000" stroke-width="1.2" />
<line x1="1613.9" y1="304.5" x2="1613.9" y2="309.5" stroke="#000" stroke-width="1.2" />
<line x1="1561.6" y1="290" x2="1561.6" y2="1508" stroke="#000" stroke-width="1.4" />
<line x1="1561.6" y1="1491.5" x2="1613.9" y2="1491.5" stroke="#000" stroke-width="1.5" />
<line x1="1574.7" y1="1491.5" x2="1574.7" y2="1500.5" stroke="#000" stroke-width="1.2" />
<line x1="1587.8" y1="1491.5" x2="1587.8" y2="1500.5" stroke="#000" stroke-width="1.2" />
<line x1="1600.8" y1="1491.5" x2="1600.8" y2="1500.5" stroke="#000" stroke-width="1.2" />
<line x1="1613.9" y1="1491.5" x2="1613.9" y2="1500.5" stroke="#000" stroke-width="1.2" />
<line x1="1561.6" y1="1483.6" x2="1613.9" y2="1483.6" stroke="#c8c8c8" stroke-width="1.2" />
<line x1="1628.5" y1="304.5" x2="1691.4" y2="304.5" stroke="#000" stroke-width="1.5" />
<line x1="1660" y1="304.5" x2="1660" y2="309.5" stroke="#000" stroke-width="1.2" />
<line x1="1691.4" y1="304.5" x2="1691.4" y2="309.5" stroke="#000" stroke-width="1.2" />
<line x1="1628.5" y1="290" x2="1628.5" y2="1508" stroke="#000" stroke-width="1.4" />
<line x1="1628.5" y1="1491.5" x2="1691.4" y2="1491.5" stroke="#000" stroke-width="1.5" />
<line x1="1660" y1="1491.5" x2="1660" y2="1500.5" stroke="#000" stroke-width="1.2" />
<line x1="1691.4" y1="1491.5" x2="1691.4" y2="1500.5" stroke="#000" stroke-width="1.2" />
<line x1="1628.5" y1="1483.6" x2="1691.4" y2="1483.6" stroke="#c8c8c8" stroke-width="1.2" />
<line x1="1693.3" y1="304.5" x2="1769.9" y2="304.5" stroke="#000" stroke-width="1.5" />
<line x1="1706.1" y1="304.5" x2="1706.1" y2="309.5" stroke="#000" stroke-width="1.2" />
<line x1="1718.8" y1="304.5" x2="1718.8" y2="309.5" stroke="#000" stroke-width="1.2" />
<line x1="1731.6" y1="304.5" x2="1731.6" y2="309.5" stroke="#000" stroke-width="1.2" />
<line x1="1744.4" y1="304.5" x2="1744.4" y2="309.5" stroke="#000" stroke-width="1.2" />
<line x1="1757.1" y1="304.5" x2="1757.1" y2="309.5" stroke="#000" stroke-width="1.2" />
<line x1="1769.9" y1="304.5" x2="1769.9" y2="309.5" stroke="#000" stroke-width="1.2" />
<line x1="1693.3" y1="290" x2="1693.3" y2="1508" stroke="#000" stroke-width="1.4" />
<line x1="1693.3" y1="1491.5" x2="1769.9" y2="1491.5" stroke="#000" stroke-width="1.5" />
<line x1="1706.1" y1="1491.5" x2="1706.1" y2="1500.5" stroke="#000" stroke-width="1.2" />
<line x1="1718.8" y1="1491.5" x2="1718.8" y2="1500.5" stroke="#000" stroke-width="1.2" />
<line x1="1731.6" y1="1491.5" x2="1731.6" y2="1500.5" stroke="#000" stroke-width="1.2" />
<line x1="1744.4" y1="1491.5" x2="1744.4" y2="1500.5" stroke="#000" stroke-width="1.2" />
<line x1="1757.1" y1="1491.5" x2="1757.1" y2="1500.5" stroke="#000" stroke-width="1.2" />
<line x1="1769.9" y1="1491.5" x2="1769.9" y2="1500.5" stroke="#000" stroke-width="1.2" />
<line x1="1693.3" y1="1483.6" x2="1769.9" y2="1483.6" stroke="#c8c8c8" stroke-width="1.2" />
<line x1="1793.7" y1="304.5" x2="1854.1" y2="304.5" stroke="#000" stroke-width="1.5" />
<line x1="1854.1" y1="304.5" x2="1854.1" y2="309.5" stroke="#000" stroke-width="1.2" />
<line x1="1793.7" y1="290" x2="1793.7" y2="1508" stroke="#000" stroke-width="1.4" />
<line x1="1793.7" y1="1491.5" x2="1854.1" y2="1491.5" stroke="#000" stroke-width="1.5" />
<line x1="1854.1" y1="1491.5" x2="1854.1" y2="1500.5" stroke="#000" stroke-width="1.2" />
<line x1="1793.7" y1="1483.6" x2="1854.1" y2="1483.6" stroke="#c8c8c8" stroke-width="1.2" />
<line x1="1863.8" y1="304.5" x2="1922.9" y2="304.5" stroke="#000" stroke-width="1.5" />
<line x1="1922.9" y1="304.5" x2="1922.9" y2="309.5" stroke="#000" stroke-width="1.2" />
<line x1="1863.8" y1="290" x2="1863.8" y2="1508" stroke="#000" stroke-width="1.4" />
<line x1="1863.8" y1="1491.5" x2="1922.9" y2="1491.5" stroke="#000" stroke-width="1.5" />
<line x1="1922.9" y1="1491.5" x2="1922.9" y2="1500.5" stroke="#000" stroke-width="1.2" />
<line x1="1863.8" y1="1483.6" x2="1922.9" y2="1483.6" stroke="#c8c8c8" stroke-width="1.2" />
<polygon points="1174,313.4 1174,313.4 1174,312.6 1177.9,314.5 1179.9,327.1 1181.8,332.9 1179.9,341.6 1180.8,346.5 1177.9,352.3 1180.8,358.1 1185.7,363 1182.8,364.9 1189.5,372.6 1178.9,377.5 1183.7,386.2 1176,393 1179.9,396.9 1176.9,408.5 1175,416.2 1178.9,424 1177.9,433.7 1186.6,447.2 1179.9,452.1 1182.8,466.6 1192.4,471.4 1183.7,476.3 1188.6,482.1 1180.8,486.9 1175,491.8 1178.9,495.6 1174,500.5 1178.9,505.3 1174,512.1 1178.9,516.9 1177.9,526.6 1178.9,530.5 1176,538.3 1183.7,546 1186.6,555.7 1185.7,569.2 1180.8,577 1184.7,584.7 1185.7,590.6 1181.8,596.4 1184.7,602.2 1184.7,609.9 1178.9,617.7 1180.8,619.4 1184.7,625.2 1178.9,631 1182.8,640.7 1178.9,646.5 1177.9,656.2 1179.9,660 1177.9,665.9 1180.8,669.7 1176.9,681.4 1176,693 1174,699.8 1176.9,708.5 1177.9,716.2 1176.9,724 1179.9,728.8 1175,733.7 1178.9,739.5 1177.9,755 1180.8,762.7 1185.7,768.5 1189.5,773.4 1181.8,777.2 1191.5,783.1 1175,791.8 1189.5,798.5 1181.8,802.4 1184.7,809.2 1176.9,822.8 1185.7,827.6 1190.5,834.4 1184.7,840.2 1180.8,844.1 1184.7,847.9 1178.9,850.8 1185.7,853.8 1182.8,858.6 1186.6,860.5 1174,870.2 1185.7,875.1 1178.9,877 1185.7,884.7 1178.9,887.7 1176,890.6 1181.8,898.3 1176.9,901.2 1181.8,906.1 1178.9,911.9 1174,920 1182.8,922.3 1174,932 1175,942.6 1179.9,952.3 1174,958.1 1185.7,967.8 1184.7,972.6 1230.2,981.7 1187.6,987.2 1195.4,992 1178.9,1002.7 1185.7,1008.5 1216.7,1017.2 1185.7,1026.9 1192.4,1031.7 1196.3,1037.5 1209.9,1041.8 1197.3,1046.2 1186.6,1060.8 1196.3,1066.6 1183.7,1072 1188.6,1082.1 1201.2,1086 1203.1,1090.8 1196.3,1095.6 1202.1,1106.3 1184.7,1113.1 1195.4,1118.9 1189.5,1128.6 1182.8,1147.9 1184.7,1166.3 1206,1170.2 1195.4,1176 1195.4,1182.8 1226.3,1185.1 1186.6,1190.6 1198.3,1200.2 1188.6,1209.9 1193.4,1220 1198.3,1225.2 1177.9,1230 1206,1234.9 1176,1239.7 1177.9,1248.4 1182.8,1255.2 1176.9,1260 1179.9,1272.6 1198.3,1284.6 1180.8,1296.9 1200.2,1310 1185.7,1334.6 1210.8,1358.8 1194.4,1371.4 1203.1,1383.6 1182.8,1400.5 1184.7,1411.1 1215.7,1418.5 1197.3,1436.3 1193.4,1446 1200.2,1457.6 1179.9,1470.2 1178.9,1482.8 1178.9,1482.8 1174,1482.8" fill="#4fd67c" stroke="none"/>
<polyline points="1174,313.4 1174,313.4 1174,312.6 1177.9,314.5 1179.9,327.1 1181.8,332.9 1179.9,341.6 1180.8,346.5 1177.9,352.3 1180.8,358.1 1185.7,363 1182.8,364.9 1189.5,372.6 1178.9,377.5 1183.7,386.2 1176,393 1179.9,396.9 1176.9,408.5 1175,416.2 1178.9,424 1177.9,433.7 1186.6,447.2 1179.9,452.1 1182.8,466.6 1192.4,471.4 1183.7,476.3 1188.6,482.1 1180.8,486.9 1175,491.8 1178.9,495.6 1174,500.5 1178.9,505.3 1174,512.1 1178.9,516.9 1177.9,526.6 1178.9,530.5 1176,538.3 1183.7,546 1186.6,555.7 1185.7,569.2 1180.8,577 1184.7,584.7 1185.7,590.6 1181.8,596.4 1184.7,602.2 1184.7,609.9 1178.9,617.7 1180.8,619.4 1184.7,625.2 1178.9,631 1182.8,640.7 1178.9,646.5 1177.9,656.2 1179.9,660 1177.9,665.9 1180.8,669.7 1176.9,681.4 1176,693 1174,699.8 1176.9,708.5 1177.9,716.2 1176.9,724 1179.9,728.8 1175,733.7 1178.9,739.5 1177.9,755 1180.8,762.7 1185.7,768.5 1189.5,773.4 1181.8,777.2 1191.5,783.1 1175,791.8 1189.5,798.5 1181.8,802.4 1184.7,809.2 1176.9,822.8 1185.7,827.6 1190.5,834.4 1184.7,840.2 1180.8,844.1 1184.7,847.9 1178.9,850.8 1185.7,853.8 1182.8,858.6 1186.6,860.5 1174,870.2 1185.7,875.1 1178.9,877 1185.7,884.7 1178.9,887.7 1176,890.6 1181.8,898.3 1176.9,901.2 1181.8,906.1 1178.9,911.9 1174,920 1182.8,922.3 1174,932 1175,942.6 1179.9,952.3 1174,958.1 1185.7,967.8 1184.7,972.6 1230.2,981.7 1187.6,987.2 1195.4,992 1178.9,1002.7 1185.7,1008.5 1216.7,1017.2 1185.7,1026.9 1192.4,1031.7 1196.3,1037.5 1209.9,1041.8 1197.3,1046.2 1186.6,1060.8 1196.3,1066.6 1183.7,1072 1188.6,1082.1 1201.2,1086 1203.1,1090.8 1196.3,1095.6 1202.1,1106.3 1184.7,1113.1 1195.4,1118.9 1189.5,1128.6 1182.8,1147.9 1184.7,1166.3 1206,1170.2 1195.4,1176 1195.4,1182.8 1226.3,1185.1 1186.6,1190.6 1198.3,1200.2 1188.6,1209.9 1193.4,1220 1198.3,1225.2 1177.9,1230 1206,1234.9 1176,1239.7 1177.9,1248.4 1182.8,1255.2 1176.9,1260 1179.9,1272.6 1198.3,1284.6 1180.8,1296.9 1200.2,1310 1185.7,1334.6 1210.8,1358.8 1194.4,1371.4 1203.1,1383.6 1182.8,1400.5 1184.7,1411.1 1215.7,1418.5 1197.3,1436.3 1193.4,1446 1200.2,1457.6 1179.9,1470.2 1178.9,1482.8 1178.9,1482.8" fill="none" stroke="#000" stroke-width="0.8" stroke-linejoin="miter" stroke-miterlimit="3"/>
<polygon points="1245.8,313.4 1261.3,313.2 1259.4,321.3 1258.4,332.9 1268.1,338.4 1261.3,343.6 1254.5,347.5 1251.6,353.3 1250.7,360 1246.8,363.9 1246.8,377.5 1248.7,385.2 1252.6,393 1249.7,400.7 1247.7,406.5 1255.5,412.3 1249.7,418.2 1246.8,426.9 1250.7,447.2 1257.4,451.1 1263.2,453 1272.9,462.3 1266.2,466.2 1258.4,468.5 1254.5,471.4 1254.5,477.2 1259.4,482.1 1257.4,486.9 1276.8,491.8 1246.8,496.6 1256.5,506.3 1255.5,513.1 1252.6,520.8 1250.7,525.7 1253.6,531.5 1251.6,539.2 1255.5,546 1248.7,550.8 1251.6,557.6 1249.7,565.4 1269.1,570.2 1263.2,578.9 1265.2,582.8 1255.5,589.6 1264.2,595.4 1265.2,600.2 1268.1,606.1 1259.4,613.8 1253.6,620 1248.7,624.2 1253.6,630 1249.7,634.9 1248.7,644.6 1250.7,650.4 1249.7,655.2 1268.1,660 1256.5,669.7 1261.3,674.6 1265.2,685.2 1263.2,689.1 1270,694.9 1265.2,698.8 1269.1,704.6 1259.4,710 1272,715.3 1266.2,721.1 1270,724 1260.3,737.5 1262.3,749.2 1264.2,757.9 1249.7,764.6 1253.6,768.5 1252.6,774.3 1261.3,779.2 1262.3,783.1 1253.6,787.9 1261.3,797.6 1260.3,805.3 1267.1,818.9 1275.8,822.8 1256.5,826.6 1249.7,828.6 1248.7,838.3 1259.4,844.1 1261.3,847 1252.6,850.8 1256.5,856.7 1246.8,860.5 1255.5,863.4 1253.6,868.3 1257.4,875.1 1254.5,880.9 1257.4,884.7 1254.5,889.6 1255.5,894.4 1265.2,902.2 1257.4,907 1262.3,917.7 1255.5,921.3 1258.4,926.2 1255.5,932 1265.2,941.6 1258.4,947.5 1265.2,952.3 1263.2,957.1 1279.7,961.6 1262.3,965.9 1261.3,969.7 1246.8,981.4 1260.3,987.2 1252.6,992 1283.6,1000.7 1266.2,1006.2 1272.9,1011.4 1248.7,1016.2 1258.4,1021.1 1261.3,1027.8 1259.4,1031.7 1266.2,1036.6 1251.6,1041.4 1265.2,1045.3 1263.2,1050.1 1272,1060.8 1265.2,1066.6 1264.2,1070.5 1267.1,1077.2 1269.1,1081.1 1272,1086 1267.1,1090.8 1266.2,1095.6 1268.1,1097.6 1266.2,1101.5 1267.1,1107.3 1266.2,1118.9 1297.1,1125.7 1269.1,1147 1274.9,1157.6 1265.2,1165.4 1276.8,1170.2 1276.8,1175.1 1273.9,1181.8 1271,1184.7 1272.9,1200.2 1286.5,1209.9 1272,1219.6 1274.9,1224.2 1292.3,1229.4 1275.8,1233.9 1265.2,1240.7 1249.7,1255.2 1265.2,1271.7 1273.9,1284.3 1262.3,1296.9 1264.2,1308.5 1274.9,1333.7 1266.2,1359.8 1284.6,1371.4 1274.9,1383.1 1331,1398.5 1338.8,1402.4 1350.4,1410.2 1265.2,1417.9 1272,1435.4 1265.2,1447 1263.2,1457.6 1253.6,1468.3 1249.7,1481.8 1249.7,1482.8 1245.8,1482.8" fill="#f08207" stroke="none"/>
<polyline points="1245.8,313.4 1261.3,313.2 1259.4,321.3 1258.4,332.9 1268.1,338.4 1261.3,343.6 1254.5,347.5 1251.6,353.3 1250.7,360 1246.8,363.9 1246.8,377.5 1248.7,385.2 1252.6,393 1249.7,400.7 1247.7,406.5 1255.5,412.3 1249.7,418.2 1246.8,426.9 1250.7,447.2 1257.4,451.1 1263.2,453 1272.9,462.3 1266.2,466.2 1258.4,468.5 1254.5,471.4 1254.5,477.2 1259.4,482.1 1257.4,486.9 1276.8,491.8 1246.8,496.6 1256.5,506.3 1255.5,513.1 1252.6,520.8 1250.7,525.7 1253.6,531.5 1251.6,539.2 1255.5,546 1248.7,550.8 1251.6,557.6 1249.7,565.4 1269.1,570.2 1263.2,578.9 1265.2,582.8 1255.5,589.6 1264.2,595.4 1265.2,600.2 1268.1,606.1 1259.4,613.8 1253.6,620 1248.7,624.2 1253.6,630 1249.7,634.9 1248.7,644.6 1250.7,650.4 1249.7,655.2 1268.1,660 1256.5,669.7 1261.3,674.6 1265.2,685.2 1263.2,689.1 1270,694.9 1265.2,698.8 1269.1,704.6 1259.4,710 1272,715.3 1266.2,721.1 1270,724 1260.3,737.5 1262.3,749.2 1264.2,757.9 1249.7,764.6 1253.6,768.5 1252.6,774.3 1261.3,779.2 1262.3,783.1 1253.6,787.9 1261.3,797.6 1260.3,805.3 1267.1,818.9 1275.8,822.8 1256.5,826.6 1249.7,828.6 1248.7,838.3 1259.4,844.1 1261.3,847 1252.6,850.8 1256.5,856.7 1246.8,860.5 1255.5,863.4 1253.6,868.3 1257.4,875.1 1254.5,880.9 1257.4,884.7 1254.5,889.6 1255.5,894.4 1265.2,902.2 1257.4,907 1262.3,917.7 1255.5,921.3 1258.4,926.2 1255.5,932 1265.2,941.6 1258.4,947.5 1265.2,952.3 1263.2,957.1 1279.7,961.6 1262.3,965.9 1261.3,969.7 1246.8,981.4 1260.3,987.2 1252.6,992 1283.6,1000.7 1266.2,1006.2 1272.9,1011.4 1248.7,1016.2 1258.4,1021.1 1261.3,1027.8 1259.4,1031.7 1266.2,1036.6 1251.6,1041.4 1265.2,1045.3 1263.2,1050.1 1272,1060.8 1265.2,1066.6 1264.2,1070.5 1267.1,1077.2 1269.1,1081.1 1272,1086 1267.1,1090.8 1266.2,1095.6 1268.1,1097.6 1266.2,1101.5 1267.1,1107.3 1266.2,1118.9 1297.1,1125.7 1269.1,1147 1274.9,1157.6 1265.2,1165.4 1276.8,1170.2 1276.8,1175.1 1273.9,1181.8 1271,1184.7 1272.9,1200.2 1286.5,1209.9 1272,1219.6 1274.9,1224.2 1292.3,1229.4 1275.8,1233.9 1265.2,1240.7 1249.7,1255.2 1265.2,1271.7 1273.9,1284.3 1262.3,1296.9 1264.2,1308.5 1274.9,1333.7 1266.2,1359.8 1284.6,1371.4 1274.9,1383.1 1331,1398.5 1338.8,1402.4 1350.4,1410.2 1265.2,1417.9 1272,1435.4 1265.2,1447 1263.2,1457.6 1253.6,1468.3 1249.7,1481.8 1249.7,1482.8" fill="none" stroke="#000" stroke-width="0.8" stroke-linejoin="miter" stroke-miterlimit="3"/>
<polygon points="1331.4,313.4 1331.4,313.4 1331.4,412.3 1335.9,417.2 1331.4,422 1331.4,580.9 1335.9,585.7 1335.9,594.4 1331.4,600.2 1331.4,607 1340.7,611.9 1333,617.7 1331.4,620.3 1331.4,752.1 1340.7,758.5 1331.4,762.7 1331.4,786 1350.4,788.3 1331.4,793.7 1331.4,810.2 1340.7,814 1331.4,818.9 1331.4,878.9 1335.9,880.5 1331.4,883.8 1331.4,892.5 1345.6,898.3 1331.4,901.2 1331.4,902.2 1350.4,906.4 1331.4,912.3 1331.4,912.6 1331.4,958.1 1336.9,963 1335.9,971.7 1331.4,981.4 1331.4,1056.9 1336.9,1061.7 1331.4,1065.6 1331.4,1081.1 1336.9,1086 1331.4,1090.8 1331.4,1101.5 1336.9,1106.3 1331.4,1113.1 1331.4,1126.6 1340.7,1136.3 1350.4,1157.6 1345.6,1164.4 1345.6,1178 1340.7,1184.7 1346.5,1192.5 1350.4,1200.2 1345.6,1209.9 1355.3,1219.6 1350.4,1225.2 1331.4,1233.9 1331.4,1234.9 1340.7,1240.7 1331.4,1248.4 1331.4,1250.4 1340.7,1255.2 1336.9,1261 1345.6,1271.7 1331.4,1283.3 1331.4,1298.8 1340.7,1310.4 1336.9,1333.7 1345.6,1370.5 1340.7,1384 1359.1,1399.5 1350.4,1410.2 1345.6,1418.9 1364,1434.4 1341.7,1445 1345.6,1457.6 1331.4,1469.2 1331.4,1482.8 1331.4,1482.8" fill="#f08207" stroke="none"/>
<polyline points="1331.4,313.4 1331.4,313.4 1331.4,412.3 1335.9,417.2 1331.4,422 1331.4,580.9 1335.9,585.7 1335.9,594.4 1331.4,600.2 1331.4,607 1340.7,611.9 1333,617.7 1331.4,620.3 1331.4,752.1 1340.7,758.5 1331.4,762.7 1331.4,786 1350.4,788.3 1331.4,793.7 1331.4,810.2 1340.7,814 1331.4,818.9 1331.4,878.9 1335.9,880.5 1331.4,883.8 1331.4,892.5 1345.6,898.3 1331.4,901.2 1331.4,902.2 1350.4,906.4 1331.4,912.3 1331.4,912.6 1331.4,958.1 1336.9,963 1335.9,971.7 1331.4,981.4 1331.4,1056.9 1336.9,1061.7 1331.4,1065.6 1331.4,1081.1 1336.9,1086 1331.4,1090.8 1331.4,1101.5 1336.9,1106.3 1331.4,1113.1 1331.4,1126.6 1340.7,1136.3 1350.4,1157.6 1345.6,1164.4 1345.6,1178 1340.7,1184.7 1346.5,1192.5 1350.4,1200.2 1345.6,1209.9 1355.3,1219.6 1350.4,1225.2 1331.4,1233.9 1331.4,1234.9 1340.7,1240.7 1331.4,1248.4 1331.4,1250.4 1340.7,1255.2 1336.9,1261 1345.6,1271.7 1331.4,1283.3 1331.4,1298.8 1340.7,1310.4 1336.9,1333.7 1345.6,1370.5 1340.7,1384 1359.1,1399.5 1350.4,1410.2 1345.6,1418.9 1364,1434.4 1341.7,1445 1345.6,1457.6 1331.4,1469.2 1331.4,1482.8" fill="none" stroke="#000" stroke-width="0.8" stroke-linejoin="miter" stroke-miterlimit="3"/>
<polygon points="1401.4,313.4 1401.4,313.4 1401.4,566.3 1415.3,579.9 1415.3,585.7 1404.6,590.6 1421.1,596.4 1419.2,601.2 1441.5,605.7 1401.4,613.8 1401.4,614.5 1401.4,649.4 1404.6,655.2 1401.4,659.1 1401.4,794.7 1404.6,798.5 1401.4,802.4 1401.4,814 1410.5,817.9 1401.4,822.8 1401.4,824.7 1406.6,828.6 1401.7,835.4 1418.2,843.1 1414.3,847.9 1404.6,851.8 1404.6,859.6 1415.3,869.2 1405.6,875.1 1421.1,879.9 1404.6,886.7 1423.1,892.5 1404.6,897.3 1418.2,900.2 1406.6,908 1426.9,912.3 1406.6,917.7 1409.5,925.2 1418.2,932 1404.6,936.8 1426.9,947.5 1414.3,956.2 1431.8,961.6 1425,969.7 1413.4,981.4 1401.7,987.2 1410.5,1001.7 1424,1006.5 1424,1012.3 1401.7,1017.2 1423.1,1021.1 1421.1,1024.9 1432.7,1036.6 1401.7,1041.4 1424,1046.2 1415.3,1050.1 1418.2,1060.8 1421.1,1066.6 1413.4,1074.3 1410.5,1081.1 1405.6,1086 1426.9,1090.8 1425,1095.6 1429.8,1100.5 1415.3,1106.3 1416.3,1115 1423.1,1118.9 1404.6,1125.7 1408.5,1132.4 1423.1,1146 1426.9,1157.6 1417.2,1166.3 1432.7,1170.2 1410.5,1183.8 1435.6,1190.6 1421.1,1200.2 1422.1,1209.9 1418.2,1219.6 1426.9,1225.2 1407.6,1229.1 1421.1,1234.9 1407.6,1239.7 1410.5,1253.3 1401.7,1258.1 1402.7,1260 1415.3,1271.7 1416.3,1284.3 1426.9,1296.9 1416.3,1309.4 1424,1333.7 1410.5,1357.9 1410.5,1383.1 1415.3,1400.5 1404.6,1410.2 1432.7,1417.9 1422.1,1435.4 1404.6,1445 1410.5,1457.6 1401.7,1468.3 1407.6,1482.8 1407.6,1482.8 1401.4,1482.8" fill="#f08207" stroke="none"/>
<polyline points="1401.4,313.4 1401.4,313.4 1401.4,566.3 1415.3,579.9 1415.3,585.7 1404.6,590.6 1421.1,596.4 1419.2,601.2 1441.5,605.7 1401.4,613.8 1401.4,614.5 1401.4,649.4 1404.6,655.2 1401.4,659.1 1401.4,794.7 1404.6,798.5 1401.4,802.4 1401.4,814 1410.5,817.9 1401.4,822.8 1401.4,824.7 1406.6,828.6 1401.7,835.4 1418.2,843.1 1414.3,847.9 1404.6,851.8 1404.6,859.6 1415.3,869.2 1405.6,875.1 1421.1,879.9 1404.6,886.7 1423.1,892.5 1404.6,897.3 1418.2,900.2 1406.6,908 1426.9,912.3 1406.6,917.7 1409.5,925.2 1418.2,932 1404.6,936.8 1426.9,947.5 1414.3,956.2 1431.8,961.6 1425,969.7 1413.4,981.4 1401.7,987.2 1410.5,1001.7 1424,1006.5 1424,1012.3 1401.7,1017.2 1423.1,1021.1 1421.1,1024.9 1432.7,1036.6 1401.7,1041.4 1424,1046.2 1415.3,1050.1 1418.2,1060.8 1421.1,1066.6 1413.4,1074.3 1410.5,1081.1 1405.6,1086 1426.9,1090.8 1425,1095.6 1429.8,1100.5 1415.3,1106.3 1416.3,1115 1423.1,1118.9 1404.6,1125.7 1408.5,1132.4 1423.1,1146 1426.9,1157.6 1417.2,1166.3 1432.7,1170.2 1410.5,1183.8 1435.6,1190.6 1421.1,1200.2 1422.1,1209.9 1418.2,1219.6 1426.9,1225.2 1407.6,1229.1 1421.1,1234.9 1407.6,1239.7 1410.5,1253.3 1401.7,1258.1 1402.7,1260 1415.3,1271.7 1416.3,1284.3 1426.9,1296.9 1416.3,1309.4 1424,1333.7 1410.5,1357.9 1410.5,1383.1 1415.3,1400.5 1404.6,1410.2 1432.7,1417.9 1422.1,1435.4 1404.6,1445 1410.5,1457.6 1401.7,1468.3 1407.6,1482.8 1407.6,1482.8" fill="none" stroke="#000" stroke-width="0.8" stroke-linejoin="miter" stroke-miterlimit="3"/>
<polygon points="1476,313.4 1475.9,313.4 1475.9,315.5 1477.9,323.2 1476.7,338.7 1478.3,343.6 1476.3,348.4 1477.3,358.1 1475.9,363.9 1479.2,368.8 1476.7,373.6 1477.3,391 1476.7,394.9 1475.9,412.3 1478.3,435.6 1485,448.2 1479.2,453 1478.3,462.7 1475.9,468.5 1475.9,508.2 1480.2,513.1 1498.6,517.3 1477.3,520.8 1476.3,528.6 1482.1,536.7 1477.3,543.1 1486,551.8 1477.3,557.6 1475.9,566.3 1509.2,580.9 1490.8,585.7 1509.2,596.4 1506.3,601.2 1517,606.1 1477.3,616.7 1476.3,629.1 1478.3,642.6 1476.7,658.1 1477.3,681.4 1475.9,708.5 1480.2,720.1 1477.3,731.7 1480.2,747.2 1477.3,758.8 1476.3,770.5 1480.2,780.1 1480.2,793.7 1476.3,799.5 1480.2,813.1 1477.3,824.7 1486,842.1 1501.5,849.9 1484.1,855.7 1495.7,859.6 1493.8,863.4 1505.4,867.3 1511.2,875.1 1524.7,878.9 1516,880.9 1518.9,886.7 1529.6,893.5 1497.6,899.3 1517,900.2 1496.7,908 1509.2,917.7 1495.7,923.2 1475.9,928.1 1508.3,937.8 1498.6,942.6 1500.5,948.4 1517,954.2 1521.8,960 1515.1,971.7 1501.5,982.3 1547,987.2 1500.5,993 1491.8,1002.7 1530.6,1012 1504.4,1016.2 1504.4,1023 1493.8,1026.9 1508.3,1032.7 1513.1,1037.5 1489.9,1047.2 1501.5,1052.1 1491.8,1055.9 1497.6,1066.6 1489.9,1070.5 1486,1080.1 1484.1,1087.9 1481.2,1091.8 1486,1097.6 1485,1109.2 1482.1,1113.1 1483.1,1124.7 1482.1,1147.9 1483.1,1157.6 1477.3,1171.2 1476.7,1182.8 1481.2,1184.7 1479.2,1202.2 1478.3,1220 1478.3,1229.1 1482.1,1234.9 1490.8,1244.6 1502.5,1255.2 1498.6,1260 1497.6,1271.7 1486,1284.3 1492.8,1309.4 1503.4,1333.7 1486,1355 1478.3,1370.5 1480.2,1384 1480.2,1401.5 1477.3,1411.1 1476.3,1435.4 1486,1446 1482.1,1457.6 1503.4,1469.2 1507.3,1481.8 1507.3,1482.8 1476,1482.8" fill="#f8ee92" stroke="none"/>
<polyline points="1476,313.4 1475.9,313.4 1475.9,315.5 1477.9,323.2 1476.7,338.7 1478.3,343.6 1476.3,348.4 1477.3,358.1 1475.9,363.9 1479.2,368.8 1476.7,373.6 1477.3,391 1476.7,394.9 1475.9,412.3 1478.3,435.6 1485,448.2 1479.2,453 1478.3,462.7 1475.9,468.5 1475.9,508.2 1480.2,513.1 1498.6,517.3 1477.3,520.8 1476.3,528.6 1482.1,536.7 1477.3,543.1 1486,551.8 1477.3,557.6 1475.9,566.3 1509.2,580.9 1490.8,585.7 1509.2,596.4 1506.3,601.2 1517,606.1 1477.3,616.7 1476.3,629.1 1478.3,642.6 1476.7,658.1 1477.3,681.4 1475.9,708.5 1480.2,720.1 1477.3,731.7 1480.2,747.2 1477.3,758.8 1476.3,770.5 1480.2,780.1 1480.2,793.7 1476.3,799.5 1480.2,813.1 1477.3,824.7 1486,842.1 1501.5,849.9 1484.1,855.7 1495.7,859.6 1493.8,863.4 1505.4,867.3 1511.2,875.1 1524.7,878.9 1516,880.9 1518.9,886.7 1529.6,893.5 1497.6,899.3 1517,900.2 1496.7,908 1509.2,917.7 1495.7,923.2 1475.9,928.1 1508.3,937.8 1498.6,942.6 1500.5,948.4 1517,954.2 1521.8,960 1515.1,971.7 1501.5,982.3 1547,987.2 1500.5,993 1491.8,1002.7 1530.6,1012 1504.4,1016.2 1504.4,1023 1493.8,1026.9 1508.3,1032.7 1513.1,1037.5 1489.9,1047.2 1501.5,1052.1 1491.8,1055.9 1497.6,1066.6 1489.9,1070.5 1486,1080.1 1484.1,1087.9 1481.2,1091.8 1486,1097.6 1485,1109.2 1482.1,1113.1 1483.1,1124.7 1482.1,1147.9 1483.1,1157.6 1477.3,1171.2 1476.7,1182.8 1481.2,1184.7 1479.2,1202.2 1478.3,1220 1478.3,1229.1 1482.1,1234.9 1490.8,1244.6 1502.5,1255.2 1498.6,1260 1497.6,1271.7 1486,1284.3 1492.8,1309.4 1503.4,1333.7 1486,1355 1478.3,1370.5 1480.2,1384 1480.2,1401.5 1477.3,1411.1 1476.3,1435.4 1486,1446 1482.1,1457.6 1503.4,1469.2 1507.3,1481.8 1507.3,1482.8" fill="none" stroke="#000" stroke-width="0.8" stroke-linejoin="miter" stroke-miterlimit="3"/>
<polygon points="1561.6,313.4 1604.2,313.4 1604.2,312.6 1596.5,318.4 1575.2,327.1 1575.2,332.9 1586.8,337.8 1574.2,346.5 1583.9,352.3 1564.5,362 1563.6,371.7 1567.4,381.4 1570.3,393 1569.4,398.8 1577.1,406.5 1582.9,410.4 1599.4,417.2 1585.8,422 1582,425.9 1583.9,431.7 1579.1,437.5 1577.1,445.3 1574.2,449.2 1577.1,452.1 1570.3,460.8 1566.5,471.4 1569.4,476.3 1569.4,482.1 1573.2,486.9 1580,491.8 1573.2,495.6 1579.1,500.5 1581,506.3 1590.7,511.1 1587.8,516 1605.2,520.8 1602.3,524.7 1596.5,532.4 1591.6,546 1602.3,550.8 1579.1,556.7 1573.2,560.5 1580,570.2 1575.2,577 1574.2,590.6 1572.3,594.4 1574.2,604.1 1569.4,609.9 1602.3,614.8 1593.6,620 1594.6,620.3 1599.4,625.2 1583.9,630 1602.3,639.7 1597.5,646.5 1605.2,656.2 1603.3,658.1 1589.7,664.9 1603.3,667.8 1604.2,675.5 1607.1,685.2 1596.5,689.1 1598.4,694.9 1612,699.8 1601.3,704.6 1608.1,709.4 1586.8,715.3 1605.2,718.2 1615.9,724 1597.5,733.7 1596.5,744.3 1590.7,750.1 1584.9,758.8 1575.2,763.7 1582.9,768.5 1571.3,774.3 1576.2,778.2 1575.2,783.1 1584.9,787.9 1584.9,793.7 1579.1,799.5 1573.2,804.4 1581,809.2 1592.6,813.1 1577.1,817.9 1575.2,824.7 1564.5,828.6 1563.6,836.3 1565.5,844.1 1569.4,851.8 1574.2,857.6 1564.5,861.5 1575.2,869.2 1570.3,874.1 1582,882.8 1569.4,886.7 1585.8,895.4 1571.3,897.3 1573.2,902.2 1567.4,909.9 1571.3,920 1580,928.1 1564.5,936.8 1578.1,941.6 1571.3,946.5 1572.3,956.2 1582,962 1601.3,966.8 1599.4,971.7 1571.3,981.4 1579.1,987.2 1575.2,993 1574.2,1000.7 1570.3,1008.5 1577.1,1012.3 1570.3,1018.2 1575.2,1022 1569.4,1029.8 1572.3,1035.6 1564.5,1041.4 1573.2,1047.2 1570.3,1056.9 1587.8,1060.8 1567.4,1066.6 1583.9,1071.4 1571.3,1081.1 1583.9,1086 1570.3,1096.6 1579.1,1101.5 1580,1105.3 1576.2,1115 1580,1118.9 1577.1,1124.7 1581,1136.3 1577.1,1147.9 1585.8,1165.4 1571.3,1170.2 1582,1178.9 1579.1,1184.7 1582,1200.2 1611,1209.9 1582.9,1220 1582,1226.2 1576.2,1230 1597.5,1234.9 1578.1,1240.7 1592.6,1250.4 1566.5,1260 1581,1272.6 1584.9,1284.3 1578.1,1297.8 1583.9,1309.4 1579.1,1333.7 1596.5,1358.8 1574.2,1370.5 1577.1,1387.9 1577.1,1401.5 1572.3,1411.1 1579.1,1418.9 1574.2,1435.4 1568.4,1446 1580,1457.6 1573.2,1482.8 1573.2,1482.8 1561.6,1482.8" fill="#f8dc16" stroke="none"/>
<polyline points="1561.6,313.4 1604.2,313.4 1604.2,312.6 1596.5,318.4 1575.2,327.1 1575.2,332.9 1586.8,337.8 1574.2,346.5 1583.9,352.3 1564.5,362 1563.6,371.7 1567.4,381.4 1570.3,393 1569.4,398.8 1577.1,406.5 1582.9,410.4 1599.4,417.2 1585.8,422 1582,425.9 1583.9,431.7 1579.1,437.5 1577.1,445.3 1574.2,449.2 1577.1,452.1 1570.3,460.8 1566.5,471.4 1569.4,476.3 1569.4,482.1 1573.2,486.9 1580,491.8 1573.2,495.6 1579.1,500.5 1581,506.3 1590.7,511.1 1587.8,516 1605.2,520.8 1602.3,524.7 1596.5,532.4 1591.6,546 1602.3,550.8 1579.1,556.7 1573.2,560.5 1580,570.2 1575.2,577 1574.2,590.6 1572.3,594.4 1574.2,604.1 1569.4,609.9 1602.3,614.8 1593.6,620 1594.6,620.3 1599.4,625.2 1583.9,630 1602.3,639.7 1597.5,646.5 1605.2,656.2 1603.3,658.1 1589.7,664.9 1603.3,667.8 1604.2,675.5 1607.1,685.2 1596.5,689.1 1598.4,694.9 1612,699.8 1601.3,704.6 1608.1,709.4 1586.8,715.3 1605.2,718.2 1615.9,724 1597.5,733.7 1596.5,744.3 1590.7,750.1 1584.9,758.8 1575.2,763.7 1582.9,768.5 1571.3,774.3 1576.2,778.2 1575.2,783.1 1584.9,787.9 1584.9,793.7 1579.1,799.5 1573.2,804.4 1581,809.2 1592.6,813.1 1577.1,817.9 1575.2,824.7 1564.5,828.6 1563.6,836.3 1565.5,844.1 1569.4,851.8 1574.2,857.6 1564.5,861.5 1575.2,869.2 1570.3,874.1 1582,882.8 1569.4,886.7 1585.8,895.4 1571.3,897.3 1573.2,902.2 1567.4,909.9 1571.3,920 1580,928.1 1564.5,936.8 1578.1,941.6 1571.3,946.5 1572.3,956.2 1582,962 1601.3,966.8 1599.4,971.7 1571.3,981.4 1579.1,987.2 1575.2,993 1574.2,1000.7 1570.3,1008.5 1577.1,1012.3 1570.3,1018.2 1575.2,1022 1569.4,1029.8 1572.3,1035.6 1564.5,1041.4 1573.2,1047.2 1570.3,1056.9 1587.8,1060.8 1567.4,1066.6 1583.9,1071.4 1571.3,1081.1 1583.9,1086 1570.3,1096.6 1579.1,1101.5 1580,1105.3 1576.2,1115 1580,1118.9 1577.1,1124.7 1581,1136.3 1577.1,1147.9 1585.8,1165.4 1571.3,1170.2 1582,1178.9 1579.1,1184.7 1582,1200.2 1611,1209.9 1582.9,1220 1582,1226.2 1576.2,1230 1597.5,1234.9 1578.1,1240.7 1592.6,1250.4 1566.5,1260 1581,1272.6 1584.9,1284.3 1578.1,1297.8 1583.9,1309.4 1579.1,1333.7 1596.5,1358.8 1574.2,1370.5 1577.1,1387.9 1577.1,1401.5 1572.3,1411.1 1579.1,1418.9 1574.2,1435.4 1568.4,1446 1580,1457.6 1573.2,1482.8 1573.2,1482.8" fill="none" stroke="#000" stroke-width="0.8" stroke-linejoin="miter" stroke-miterlimit="3"/>
<polygon points="1628.5,313.4 1628.5,313.2 1636.2,318.4 1631.4,325.2 1629.4,329.1 1634.3,332.9 1629.4,336.8 1631.4,344.6 1634.3,357.1 1631.4,363.9 1632.3,381.4 1638.1,386.2 1637.2,391 1639.1,402.7 1644.9,407.5 1640.1,412.3 1643,418.2 1645.9,425.9 1643,433.7 1645.9,442.4 1643.9,447.2 1635.2,455.9 1633.3,458.8 1635.2,462.7 1630.4,468.5 1633.3,470.5 1628.5,482.1 1633.3,486 1637.2,491.8 1636.2,497.6 1644.9,501.5 1646.9,511.1 1650.7,516.9 1672,521.2 1656.5,526.6 1655.6,530.5 1644.9,534.4 1643,537.3 1649.8,542.1 1644.9,546 1655.6,555.7 1639.1,559.6 1637.2,562.5 1640.1,566.3 1631.4,570.2 1633.3,575.1 1635.2,578.9 1633.3,584.7 1635.2,590.6 1645.9,595.4 1631.4,600.2 1629.4,606.1 1635.2,609.9 1641,611.9 1655.6,620 1661.4,625.2 1646.9,631 1641,640.7 1656.5,656.2 1633.3,662 1635.2,665.9 1655.6,670.7 1635.2,684.3 1634.3,693 1638.1,698.8 1631.4,704.6 1634.3,712.3 1635.2,720.1 1639.1,724 1634.3,728.8 1635.2,733.7 1632.3,747.2 1635.2,755 1642,761.7 1640.1,765.6 1641,770.5 1638.1,773.4 1639.1,777.2 1634.3,781.1 1636.2,784 1637.2,793.7 1631.4,801.5 1631.4,813.1 1636.2,818.9 1631.4,830.5 1629.4,838.3 1635.2,842.1 1636.2,849.9 1633.3,853.8 1641,857.6 1629.4,861.5 1636.2,867.3 1641,873.1 1633.3,878.9 1641,890.6 1632.3,897.3 1644.9,902.2 1631.4,909.9 1633.3,920 1648.8,922.3 1633.3,931 1634.3,937.8 1638.1,941.6 1629.4,951.3 1634.3,956.2 1629.4,960 1635.2,966.8 1631.4,976.5 1629.4,983.3 1635.2,987.2 1629.4,991 1628.5,1008.5 1634.3,1014.3 1629.4,1018.2 1634.3,1024 1631.4,1033.7 1632.3,1035.6 1629.4,1041.4 1633.3,1047.2 1638.1,1055.9 1631.4,1067.6 1631.4,1072.4 1634.3,1082.1 1629.4,1086.9 1635.2,1092.7 1639.1,1101.5 1634.3,1105.3 1635.2,1118.9 1633.3,1132.4 1634.3,1142.1 1639.1,1164.4 1629.4,1170.2 1638.1,1178.9 1635.2,1184.7 1639.1,1190.6 1633.3,1202.2 1635.2,1209.9 1638.1,1220 1639.1,1230 1644.9,1235.8 1646.9,1240.7 1644.9,1249.4 1634.3,1254.2 1629.4,1258.1 1629.4,1261 1637.2,1269.7 1647.8,1284.3 1630.4,1295.9 1629.4,1297.8 1635.2,1333.7 1635.2,1358.8 1641,1371.4 1629.4,1382.1 1628.5,1383.1 1629.4,1388.9 1632.3,1400.5 1629.4,1410.2 1629.4,1412.1 1635.2,1418.9 1636.2,1435.4 1641,1446 1641,1455.7 1645.9,1470.2 1635.2,1482.8 1635.2,1482.8 1628.5,1482.8" fill="#f8dc16" stroke="none"/>
<polyline points="1628.5,313.4 1628.5,313.2 1636.2,318.4 1631.4,325.2 1629.4,329.1 1634.3,332.9 1629.4,336.8 1631.4,344.6 1634.3,357.1 1631.4,363.9 1632.3,381.4 1638.1,386.2 1637.2,391 1639.1,402.7 1644.9,407.5 1640.1,412.3 1643,418.2 1645.9,425.9 1643,433.7 1645.9,442.4 1643.9,447.2 1635.2,455.9 1633.3,458.8 1635.2,462.7 1630.4,468.5 1633.3,470.5 1628.5,482.1 1633.3,486 1637.2,491.8 1636.2,497.6 1644.9,501.5 1646.9,511.1 1650.7,516.9 1672,521.2 1656.5,526.6 1655.6,530.5 1644.9,534.4 1643,537.3 1649.8,542.1 1644.9,546 1655.6,555.7 1639.1,559.6 1637.2,562.5 1640.1,566.3 1631.4,570.2 1633.3,575.1 1635.2,578.9 1633.3,584.7 1635.2,590.6 1645.9,595.4 1631.4,600.2 1629.4,606.1 1635.2,609.9 1641,611.9 1655.6,620 1661.4,625.2 1646.9,631 1641,640.7 1656.5,656.2 1633.3,662 1635.2,665.9 1655.6,670.7 1635.2,684.3 1634.3,693 1638.1,698.8 1631.4,704.6 1634.3,712.3 1635.2,720.1 1639.1,724 1634.3,728.8 1635.2,733.7 1632.3,747.2 1635.2,755 1642,761.7 1640.1,765.6 1641,770.5 1638.1,773.4 1639.1,777.2 1634.3,781.1 1636.2,784 1637.2,793.7 1631.4,801.5 1631.4,813.1 1636.2,818.9 1631.4,830.5 1629.4,838.3 1635.2,842.1 1636.2,849.9 1633.3,853.8 1641,857.6 1629.4,861.5 1636.2,867.3 1641,873.1 1633.3,878.9 1641,890.6 1632.3,897.3 1644.9,902.2 1631.4,909.9 1633.3,920 1648.8,922.3 1633.3,931 1634.3,937.8 1638.1,941.6 1629.4,951.3 1634.3,956.2 1629.4,960 1635.2,966.8 1631.4,976.5 1629.4,983.3 1635.2,987.2 1629.4,991 1628.5,1008.5 1634.3,1014.3 1629.4,1018.2 1634.3,1024 1631.4,1033.7 1632.3,1035.6 1629.4,1041.4 1633.3,1047.2 1638.1,1055.9 1631.4,1067.6 1631.4,1072.4 1634.3,1082.1 1629.4,1086.9 1635.2,1092.7 1639.1,1101.5 1634.3,1105.3 1635.2,1118.9 1633.3,1132.4 1634.3,1142.1 1639.1,1164.4 1629.4,1170.2 1638.1,1178.9 1635.2,1184.7 1639.1,1190.6 1633.3,1202.2 1635.2,1209.9 1638.1,1220 1639.1,1230 1644.9,1235.8 1646.9,1240.7 1644.9,1249.4 1634.3,1254.2 1629.4,1258.1 1629.4,1261 1637.2,1269.7 1647.8,1284.3 1630.4,1295.9 1629.4,1297.8 1635.2,1333.7 1635.2,1358.8 1641,1371.4 1629.4,1382.1 1628.5,1383.1 1629.4,1388.9 1632.3,1400.5 1629.4,1410.2 1629.4,1412.1 1635.2,1418.9 1636.2,1435.4 1641,1446 1641,1455.7 1645.9,1470.2 1635.2,1482.8 1635.2,1482.8" fill="none" stroke="#000" stroke-width="0.8" stroke-linejoin="miter" stroke-miterlimit="3"/>
<polygon points="1693.3,313.4 1724.3,313.4 1724.3,312.6 1729.2,317.4 1718.5,326.2 1715.6,331 1710.8,340.7 1715.6,346.5 1706.9,350.4 1706.9,356.2 1700.1,361 1699.2,371.7 1703,378.5 1712.7,386.2 1700.1,391 1720.5,395.9 1710.8,400.7 1710.8,406.5 1722.4,411.4 1708.8,416.2 1724.3,425.9 1707.9,431.7 1705.9,435.6 1719.5,451.1 1701.1,455.9 1718.5,459.8 1720.5,465.6 1703,475.3 1716.6,479.2 1719.5,481.1 1720.5,486 1726.3,490.8 1697.2,495.6 1714.6,499.5 1717.6,505.3 1750.5,515 1731.1,519.9 1722.4,524.7 1722.4,529.5 1793.1,535.4 1731.1,540.2 1728.2,546 1705,549.9 1721.4,555.7 1710.8,560.5 1718.5,567.3 1729.2,575.1 1737.9,579.9 1705,584.7 1722.4,589.6 1718.5,596.4 1718.5,602.2 1707.9,609.9 1739.8,614.8 1724.3,620 1716.6,624.2 1763.1,634.5 1711.7,639.7 1732.1,646.5 1736,656.2 1751.5,668.8 1748.5,673.6 1765,684.3 1728.2,689.1 1771.8,698.8 1759.2,707.5 1736,714.3 1758.2,718.2 1749.5,723 1754.4,727.8 1754.4,732.7 1728.2,738.5 1759.2,750.1 1737.9,757.9 1726.3,760.8 1715.6,768.5 1721.4,774.3 1724.3,781.1 1731.1,782.1 1725.3,786 1738.9,788.9 1792.1,792.2 1705,797.6 1747.6,803.4 1734,810.2 1700.1,813.1 1734,817.9 1715.6,821.8 1720.5,826.6 1708.8,831.5 1704,835.4 1705,840.2 1712.7,847.9 1735,849.9 1708.8,856.7 1723.4,857.6 1695.3,859.6 1741.8,863.4 1711.7,868.3 1745.6,875.1 1728.2,878 1731.1,880.9 1720.5,882.8 1733.1,885.7 1735,890.6 1713.7,894.4 1763.1,897.3 1732.1,899.3 1750.5,908 1759.2,917.7 1717.6,922.3 1730.1,931 1710.8,936.8 1744.7,946.5 1705,951.3 1715.6,960 1707.9,969.7 1721.4,981.4 1701.1,986.2 1720.5,991 1743.7,1000.7 1765,1006.2 1696.2,1016.2 1767.9,1026.3 1697.2,1036.6 1706.9,1041.4 1753.4,1044.3 1763.1,1046.2 1759.2,1051.1 1771.8,1055 1697.2,1060.4 1761.1,1065.6 1754.4,1070.5 1755.3,1076.3 1784.4,1080.1 1729.2,1086 1736,1099.5 1753.4,1105.3 1759.2,1113.1 1732.1,1118.9 1737.9,1127.6 1738.9,1137.3 1747.6,1147 1746.6,1163.4 1719.5,1169.2 1747.6,1174.1 1749.5,1181.8 1714.6,1184.7 1729.2,1188.6 1734,1199.3 1714.6,1210.9 1737.9,1220 1741.8,1225.2 1750.5,1229.1 1702.1,1234.5 1746.6,1239.7 1724.3,1249.4 1735,1254.2 1722.4,1259.1 1757.3,1271.7 1702.1,1284.3 1738.9,1296.5 1724.3,1309.4 1725.3,1333.7 1721.4,1358.8 1742.7,1370.5 1722.4,1382.1 1731.1,1399.5 1739.8,1410.2 1704,1417.9 1751.5,1435.4 1756.3,1445 1717.6,1457.6 1732.1,1469.2 1716.6,1482.8 1716.6,1482.8 1693.3,1482.8" fill="#f8ee92" stroke="none"/>
<polyline points="1693.3,313.4 1724.3,313.4 1724.3,312.6 1729.2,317.4 1718.5,326.2 1715.6,331 1710.8,340.7 1715.6,346.5 1706.9,350.4 1706.9,356.2 1700.1,361 1699.2,371.7 1703,378.5 1712.7,386.2 1700.1,391 1720.5,395.9 1710.8,400.7 1710.8,406.5 1722.4,411.4 1708.8,416.2 1724.3,425.9 1707.9,431.7 1705.9,435.6 1719.5,451.1 1701.1,455.9 1718.5,459.8 1720.5,465.6 1703,475.3 1716.6,479.2 1719.5,481.1 1720.5,486 1726.3,490.8 1697.2,495.6 1714.6,499.5 1717.6,505.3 1750.5,515 1731.1,519.9 1722.4,524.7 1722.4,529.5 1793.1,535.4 1731.1,540.2 1728.2,546 1705,549.9 1721.4,555.7 1710.8,560.5 1718.5,567.3 1729.2,575.1 1737.9,579.9 1705,584.7 1722.4,589.6 1718.5,596.4 1718.5,602.2 1707.9,609.9 1739.8,614.8 1724.3,620 1716.6,624.2 1763.1,634.5 1711.7,639.7 1732.1,646.5 1736,656.2 1751.5,668.8 1748.5,673.6 1765,684.3 1728.2,689.1 1771.8,698.8 1759.2,707.5 1736,714.3 1758.2,718.2 1749.5,723 1754.4,727.8 1754.4,732.7 1728.2,738.5 1759.2,750.1 1737.9,757.9 1726.3,760.8 1715.6,768.5 1721.4,774.3 1724.3,781.1 1731.1,782.1 1725.3,786 1738.9,788.9 1792.1,792.2 1705,797.6 1747.6,803.4 1734,810.2 1700.1,813.1 1734,817.9 1715.6,821.8 1720.5,826.6 1708.8,831.5 1704,835.4 1705,840.2 1712.7,847.9 1735,849.9 1708.8,856.7 1723.4,857.6 1695.3,859.6 1741.8,863.4 1711.7,868.3 1745.6,875.1 1728.2,878 1731.1,880.9 1720.5,882.8 1733.1,885.7 1735,890.6 1713.7,894.4 1763.1,897.3 1732.1,899.3 1750.5,908 1759.2,917.7 1717.6,922.3 1730.1,931 1710.8,936.8 1744.7,946.5 1705,951.3 1715.6,960 1707.9,969.7 1721.4,981.4 1701.1,986.2 1720.5,991 1743.7,1000.7 1765,1006.2 1696.2,1016.2 1767.9,1026.3 1697.2,1036.6 1706.9,1041.4 1753.4,1044.3 1763.1,1046.2 1759.2,1051.1 1771.8,1055 1697.2,1060.4 1761.1,1065.6 1754.4,1070.5 1755.3,1076.3 1784.4,1080.1 1729.2,1086 1736,1099.5 1753.4,1105.3 1759.2,1113.1 1732.1,1118.9 1737.9,1127.6 1738.9,1137.3 1747.6,1147 1746.6,1163.4 1719.5,1169.2 1747.6,1174.1 1749.5,1181.8 1714.6,1184.7 1729.2,1188.6 1734,1199.3 1714.6,1210.9 1737.9,1220 1741.8,1225.2 1750.5,1229.1 1702.1,1234.5 1746.6,1239.7 1724.3,1249.4 1735,1254.2 1722.4,1259.1 1757.3,1271.7 1702.1,1284.3 1738.9,1296.5 1724.3,1309.4 1725.3,1333.7 1721.4,1358.8 1742.7,1370.5 1722.4,1382.1 1731.1,1399.5 1739.8,1410.2 1704,1417.9 1751.5,1435.4 1756.3,1445 1717.6,1457.6 1732.1,1469.2 1716.6,1482.8 1716.6,1482.8" fill="none" stroke="#000" stroke-width="0.8" stroke-linejoin="miter" stroke-miterlimit="3"/>
<polygon points="1793.7,313.4 1793.7,313.2 1805.7,327.1 1805.7,332.9 1801.8,338.7 1805.7,342.6 1801.8,347.5 1809.6,360 1801.8,371.7 1801.8,377.5 1809.6,381.4 1801.8,386.2 1805.7,391 1801.8,397.8 1805.7,401.7 1796,407.5 1793.7,408.5 1801.8,412.3 1809.6,421.1 1801.8,425.9 1801.8,443.3 1820.2,447.2 1821.2,453 1825.1,455.9 1807.6,461.7 1841.5,466.2 1807.6,476.3 1821.2,486.9 1797.9,491.8 1805.7,501.5 1805.7,511.1 1794.1,515 1799.9,517.9 1805.7,525.7 1797.9,535.4 1794.1,535.5 1801.8,544.1 1801.8,549.9 1805.7,555.7 1801.8,560.5 1801.8,565.4 1793.7,570.2 1793.7,575.1 1801.8,580.9 1801.8,584.7 1793.7,590.6 1793.7,606.1 1797,611.9 1793.7,620 1793.7,620.3 1797.9,625.2 1793.7,629.1 1793.7,635.8 1801.8,640.7 1801.8,646.5 1793.7,653.3 1793.7,660 1797.9,663.9 1793.7,667.8 1793.7,709.4 1797.9,714.3 1793.7,717.2 1793.7,724.9 1797.9,729.8 1793.7,733.7 1793.7,735.6 1801.8,745.3 1797,750.1 1797,764.6 1805.7,766.6 1797,770.5 1797,778.2 1793.7,781.1 1793.7,786 1797.9,788.9 1793.7,792.7 1793.7,794.7 1797.9,799.5 1793.7,802.4 1793.7,803.4 1797.9,810.2 1793.7,816 1793.7,818.9 1797,822.8 1797.9,846 1801.8,847.9 1793.7,850.8 1793.7,889.6 1801.8,892.5 1793.7,895.4 1793.7,993 1797,1000.7 1793.7,1005.6 1793.7,1031.7 1797,1036.6 1793.7,1039.5 1793.7,1055.9 1801.8,1060.8 1793.7,1065.6 1793.7,1086.9 1797,1090.8 1793.7,1094.7 1793.7,1118.9 1797,1124.7 1797,1134.4 1793.7,1146 1793.7,1171.2 1797,1175.1 1793.7,1180.9 1793.7,1186.7 1797,1190.6 1793.7,1194.4 1793.7,1200.2 1797,1206.1 1793.7,1213.8 1793.7,1222.3 1793.7,1225.2 1797.9,1229.1 1793.7,1232.9 1797.9,1239.7 1793.7,1247.5 1793.7,1271.7 1797.9,1284.3 1793.7,1295.9 1793.7,1309.4 1801.8,1333.7 1793.7,1357.9 1793.7,1371.4 1801.8,1383.1 1793.7,1398.5 1793.7,1411.1 1801.8,1418.9 1793.7,1435.4 1793.7,1446 1797.9,1459.6 1793.7,1461.5 1793.7,1482.8 1793.7,1482.8" fill="#4fd67c" stroke="none"/>
<polyline points="1793.7,313.4 1793.7,313.2 1805.7,327.1 1805.7,332.9 1801.8,338.7 1805.7,342.6 1801.8,347.5 1809.6,360 1801.8,371.7 1801.8,377.5 1809.6,381.4 1801.8,386.2 1805.7,391 1801.8,397.8 1805.7,401.7 1796,407.5 1793.7,408.5 1801.8,412.3 1809.6,421.1 1801.8,425.9 1801.8,443.3 1820.2,447.2 1821.2,453 1825.1,455.9 1807.6,461.7 1841.5,466.2 1807.6,476.3 1821.2,486.9 1797.9,491.8 1805.7,501.5 1805.7,511.1 1794.1,515 1799.9,517.9 1805.7,525.7 1797.9,535.4 1794.1,535.5 1801.8,544.1 1801.8,549.9 1805.7,555.7 1801.8,560.5 1801.8,565.4 1793.7,570.2 1793.7,575.1 1801.8,580.9 1801.8,584.7 1793.7,590.6 1793.7,606.1 1797,611.9 1793.7,620 1793.7,620.3 1797.9,625.2 1793.7,629.1 1793.7,635.8 1801.8,640.7 1801.8,646.5 1793.7,653.3 1793.7,660 1797.9,663.9 1793.7,667.8 1793.7,709.4 1797.9,714.3 1793.7,717.2 1793.7,724.9 1797.9,729.8 1793.7,733.7 1793.7,735.6 1801.8,745.3 1797,750.1 1797,764.6 1805.7,766.6 1797,770.5 1797,778.2 1793.7,781.1 1793.7,786 1797.9,788.9 1793.7,792.7 1793.7,794.7 1797.9,799.5 1793.7,802.4 1793.7,803.4 1797.9,810.2 1793.7,816 1793.7,818.9 1797,822.8 1797.9,846 1801.8,847.9 1793.7,850.8 1793.7,889.6 1801.8,892.5 1793.7,895.4 1793.7,993 1797,1000.7 1793.7,1005.6 1793.7,1031.7 1797,1036.6 1793.7,1039.5 1793.7,1055.9 1801.8,1060.8 1793.7,1065.6 1793.7,1086.9 1797,1090.8 1793.7,1094.7 1793.7,1118.9 1797,1124.7 1797,1134.4 1793.7,1146 1793.7,1171.2 1797,1175.1 1793.7,1180.9 1793.7,1186.7 1797,1190.6 1793.7,1194.4 1793.7,1200.2 1797,1206.1 1793.7,1213.8 1793.7,1222.3 1793.7,1225.2 1797.9,1229.1 1793.7,1232.9 1797.9,1239.7 1793.7,1247.5 1793.7,1271.7 1797.9,1284.3 1793.7,1295.9 1793.7,1309.4 1801.8,1333.7 1793.7,1357.9 1793.7,1371.4 1801.8,1383.1 1793.7,1398.5 1793.7,1411.1 1801.8,1418.9 1793.7,1435.4 1793.7,1446 1797.9,1459.6 1793.7,1461.5 1793.7,1482.8" fill="none" stroke="#000" stroke-width="0.8" stroke-linejoin="miter" stroke-miterlimit="3"/>
<polygon points="1863.8,313.4 1863.8,313.2 1875.4,318.4 1863.8,327.1 1871.5,332 1872.5,338.7 1879.3,343.6 1871.5,348.4 1871.5,362 1863.8,366.8 1863.8,368.8 1883.2,381.4 1871.5,385.2 1872.5,394.9 1879.3,404.6 1885.1,411.4 1898.7,417.2 1877.4,422 1863.8,432.7 1863.8,433.7 1870.6,443.3 1867.7,451.1 1869.6,454 1863.8,456.9 1869.6,460.8 1867.7,466.6 1887,471.4 1867.7,476.3 1915.1,492.7 1863.8,497.6 1887,501.5 1889,506.3 1920,513.1 1871.5,516 1925.8,520.8 1896.7,524.7 1910.3,532.4 1877.4,537.3 1883.2,542.1 1882.2,547.9 1875.4,551.8 1863.8,570.2 1863.8,572.2 1870.6,575.1 1867.7,584.7 1879.3,596.4 1863.8,605.1 1863.8,609.9 1890.9,620 1890.9,620.3 1877.4,629.1 1863.8,635.8 1863.8,637.8 1875.4,647.5 1872.5,653.3 1863.8,659.1 1863.8,661 1871.5,664.9 1867.7,667.8 1871.5,674.6 1863.8,681.4 1863.8,686.2 1871.5,690.1 1863.8,694.9 1867.7,699.8 1863.8,704.6 1867.7,709.4 1863.8,713.3 1863.8,747.2 1871.5,756.9 1879.3,764.6 1872.5,766.6 1895.8,768.5 1872.5,770.5 1875.4,775.3 1871.5,779.2 1870.6,786.9 1863.8,792.7 1863.8,826.6 1867.7,829.5 1863.8,832.4 1863.8,835.4 1867.7,839.2 1863.8,843.1 1863.8,861.5 1869.6,862.5 1863.8,865.4 1871.5,870.2 1864.8,873.1 1867.7,877 1863.8,878.9 1863.8,889.6 1871.5,892.5 1871.5,896.4 1863.8,897.3 1863.8,903.1 1875.4,910.9 1867.7,920 1863.8,922.3 1863.8,947.5 1870.6,951.3 1863.8,956.2 1863.8,988.1 1867.7,994.9 1866.7,1002.7 1863.8,1004.6 1863.8,1007.5 1871.5,1011.4 1863.8,1015.3 1863.8,1043.3 1867.7,1047.2 1863.8,1054 1878.3,1060.8 1863.8,1065.6 1874.5,1071.4 1863.8,1076.3 1863.8,1106.3 1871.5,1113.1 1868.6,1121.8 1879.3,1135.4 1863.8,1147.9 1863.8,1149.9 1874.5,1157.6 1875.4,1165.4 1870.6,1170.2 1875.4,1175.1 1863.8,1183.8 1871.5,1189.6 1868.6,1195.4 1875.4,1209.9 1875.4,1220 1875.4,1223.2 1879.3,1230 1867.7,1234.9 1871.5,1236.8 1871.5,1254.2 1875.4,1259.1 1863.8,1270.7 1863.8,1309.4 1871.5,1333.7 1868.6,1358.8 1871.5,1370.5 1863.8,1382.1 1863.8,1401.5 1871.5,1410.2 1863.8,1417.9 1863.8,1419.9 1869.6,1435.4 1871.5,1445 1871.5,1457.6 1863.8,1468.3 1863.8,1482.8 1863.8,1482.8" fill="#4fd67c" stroke="none"/>
<polyline points="1863.8,313.4 1863.8,313.2 1875.4,318.4 1863.8,327.1 1871.5,332 1872.5,338.7 1879.3,343.6 1871.5,348.4 1871.5,362 1863.8,366.8 1863.8,368.8 1883.2,381.4 1871.5,385.2 1872.5,394.9 1879.3,404.6 1885.1,411.4 1898.7,417.2 1877.4,422 1863.8,432.7 1863.8,433.7 1870.6,443.3 1867.7,451.1 1869.6,454 1863.8,456.9 1869.6,460.8 1867.7,466.6 1887,471.4 1867.7,476.3 1915.1,492.7 1863.8,497.6 1887,501.5 1889,506.3 1920,513.1 1871.5,516 1925.8,520.8 1896.7,524.7 1910.3,532.4 1877.4,537.3 1883.2,542.1 1882.2,547.9 1875.4,551.8 1863.8,570.2 1863.8,572.2 1870.6,575.1 1867.7,584.7 1879.3,596.4 1863.8,605.1 1863.8,609.9 1890.9,620 1890.9,620.3 1877.4,629.1 1863.8,635.8 1863.8,637.8 1875.4,647.5 1872.5,653.3 1863.8,659.1 1863.8,661 1871.5,664.9 1867.7,667.8 1871.5,674.6 1863.8,681.4 1863.8,686.2 1871.5,690.1 1863.8,694.9 1867.7,699.8 1863.8,704.6 1867.7,709.4 1863.8,713.3 1863.8,747.2 1871.5,756.9 1879.3,764.6 1872.5,766.6 1895.8,768.5 1872.5,770.5 1875.4,775.3 1871.5,779.2 1870.6,786.9 1863.8,792.7 1863.8,826.6 1867.7,829.5 1863.8,832.4 1863.8,835.4 1867.7,839.2 1863.8,843.1 1863.8,861.5 1869.6,862.5 1863.8,865.4 1871.5,870.2 1864.8,873.1 1867.7,877 1863.8,878.9 1863.8,889.6 1871.5,892.5 1871.5,896.4 1863.8,897.3 1863.8,903.1 1875.4,910.9 1867.7,920 1863.8,922.3 1863.8,947.5 1870.6,951.3 1863.8,956.2 1863.8,988.1 1867.7,994.9 1866.7,1002.7 1863.8,1004.6 1863.8,1007.5 1871.5,1011.4 1863.8,1015.3 1863.8,1043.3 1867.7,1047.2 1863.8,1054 1878.3,1060.8 1863.8,1065.6 1874.5,1071.4 1863.8,1076.3 1863.8,1106.3 1871.5,1113.1 1868.6,1121.8 1879.3,1135.4 1863.8,1147.9 1863.8,1149.9 1874.5,1157.6 1875.4,1165.4 1870.6,1170.2 1875.4,1175.1 1863.8,1183.8 1871.5,1189.6 1868.6,1195.4 1875.4,1209.9 1875.4,1220 1875.4,1223.2 1879.3,1230 1867.7,1234.9 1871.5,1236.8 1871.5,1254.2 1875.4,1259.1 1863.8,1270.7 1863.8,1309.4 1871.5,1333.7 1868.6,1358.8 1871.5,1370.5 1863.8,1382.1 1863.8,1401.5 1871.5,1410.2 1863.8,1417.9 1863.8,1419.9 1869.6,1435.4 1871.5,1445 1871.5,1457.6 1863.8,1468.3 1863.8,1482.8" fill="none" stroke="#000" stroke-width="0.8" stroke-linejoin="miter" stroke-miterlimit="3"/>
<line x1="966" y1="407.5" x2="2176" y2="407.5" stroke="#151515" stroke-width="4" stroke-dasharray="8.3 13.45" stroke-dashoffset="1.4"/>
<line x1="966" y1="512.7" x2="2176" y2="512.7" stroke="#151515" stroke-width="4" stroke-dasharray="8.3 13.45" stroke-dashoffset="10.2"/>
<line x1="966" y1="612.4" x2="2176" y2="612.4" stroke="#151515" stroke-width="4" stroke-dasharray="8.3 13.45" stroke-dashoffset="17.3"/>
<line x1="966" y1="656" x2="2176" y2="656" stroke="#151515" stroke-width="4" stroke-dasharray="8.3 13.45" stroke-dashoffset="12.1"/>
<line x1="966" y1="759.8" x2="2176" y2="759.8" stroke="#151515" stroke-width="4" stroke-dasharray="8.3 13.45" stroke-dashoffset="11.1"/>
<line x1="966" y1="905" x2="2176" y2="905" stroke="#151515" stroke-width="4" stroke-dasharray="8.3 13.45" stroke-dashoffset="17.3"/>
<line x1="966" y1="959.1" x2="2176" y2="959.1" stroke="#151515" stroke-width="4" stroke-dasharray="8.3 13.45" stroke-dashoffset="12.5"/>
<line x1="966" y1="1130" x2="2176" y2="1130" stroke="#151515" stroke-width="4" stroke-dasharray="8.3 13.45" stroke-dashoffset="13.1"/>
<line x1="966" y1="1236.6" x2="2176" y2="1236.6" stroke="#151515" stroke-width="4" stroke-dasharray="8.3 13.45" stroke-dashoffset="12.5"/>
<line x1="966" y1="1388.9" x2="2176" y2="1388.9" stroke="#151515" stroke-width="4" stroke-dasharray="8.3 13.45" stroke-dashoffset="12.1"/>
<line x1="966" y1="1464.4" x2="2176" y2="1464.4" stroke="#151515" stroke-width="4" stroke-dasharray="8.3 13.45" stroke-dashoffset="1.5"/>
<line x1="966" y1="572.9" x2="2236.7" y2="572.9" stroke="#151515" stroke-width="3.8" />
<line x1="966" y1="861.6" x2="2236.7" y2="861.6" stroke="#151515" stroke-width="3.8" />
<line x1="966" y1="1044" x2="2236.7" y2="1044" stroke="#151515" stroke-width="3.8" />
<polygon points="964.8,313.4 1081.1,313.6 1081.1,318.4 1127.6,332.9 1108.2,337.8 1109.2,343.6 1126.6,347.5 1132.4,352.7 1146.9,357.7 1173.1,361.6 1173.1,378.5 1163.4,381.4 1157.6,387.2 1157.6,393 1142.1,397.8 1145,402.7 1140.1,408.5 1091.7,413.3 1093.7,417.2 1111.1,422 1110.1,427.8 1128.5,432.7 1124.6,437.5 1124.6,443.3 1116.9,448.2 1125.6,456.9 1109.2,461.7 1110.1,467.6 1148.9,471.4 1148.9,477.2 1116.9,482.1 1115,486.9 1079.1,492.3 1173.1,497.6 1140.1,500.5 1128.5,506.9 1076.2,511.1 1043.3,516.9 1074.3,526.6 1070.4,531.5 996.8,536.3 1077.2,541.7 1071.4,547 1091.7,551.8 1095.6,556.7 1138.2,562.5 1153.7,566.3 1068.5,574.1 1020,578.9 1020,580.9 1111.1,586.3 1031.7,590.6 1040.4,596.4 1024.9,606.1 1115.9,610.9 1053,615.7 1053,615.9 1068.5,621.3 1080.1,630.6 1053,635.4 1101.4,640.7 1068.5,646.5 1062.7,656.2 1061.7,660 1079.1,665.5 1032.6,670.1 1039.4,674.6 1037.5,685.2 1086.9,690.1 1026.8,700.3 1050.1,704.6 1058.8,710.4 1082,715.3 1041.4,720.1 1045.2,724.9 1058.8,731.7 1089.8,739.5 1073.3,746.2 1077.2,750.1 1077.2,759.2 1113,761.7 1130.5,766.6 1107.2,769.5 1141.1,774.3 1097.5,779.2 1115.9,782.1 1109.2,786.9 1027.8,793.7 1142.1,799.1 1079.1,804.4 1081.1,811.1 1115.9,814 1072.3,819.9 1076.2,824.7 1158.5,834 1103.3,843.1 1095.6,848.9 1072.3,851.4 1116.9,856.1 1051,858.2 1126.6,860.5 1051,863.4 1033.6,866.3 1041.4,871.2 987.1,873.5 1022,878.5 998.7,880.9 1012.3,883.8 1004.6,888.6 1023,890.6 992,893.5 1014.2,897.3 1008.4,899.3 1049.1,908 1022,912.8 1053,920 1089.8,922.3 1102.4,927.5 1081.1,938.2 1023,942.6 1053,947.5 1065.6,952.3 1011.3,957.1 1023,967.8 1015.2,972.6 1064.6,982.3 1042.3,987.6 1089.8,992.2 1051,1002.7 1010.4,1012.3 1123.7,1017.4 1045.2,1022.4 1026.8,1027.5 1064.6,1031.7 1082,1037.1 1126.6,1042.4 1027.8,1047.2 1014.2,1052.1 1022,1057.9 1042.3,1061.7 1018.1,1066.6 1027.8,1072 1022,1076.7 1004.6,1081.7 1044.3,1086.9 1053,1092.2 1043.3,1096.6 1048.1,1101.8 1025.9,1106.3 1015.2,1114 1024.9,1118.9 1032.6,1126.6 1031.7,1136.3 1053,1148.9 1029.7,1158.6 1034.6,1166.3 1079.1,1171.2 1042.3,1176 1036.5,1183.2 1064.6,1185.7 1069.4,1190.6 1054.9,1201.2 1022,1210.9 1047.2,1220 1027.8,1225.2 1036.5,1230 1062.7,1234.9 1053,1240.3 1070.4,1250.4 1042.3,1255.8 1098.5,1260.4 1010.4,1272.6 1067.5,1284.6 1029.7,1297.2 1041.4,1310 1034.6,1332.7 1033.6,1360.8 1028.8,1371.4 1064.6,1383.6 1002.6,1401.5 1010.4,1411.1 1084.9,1418.5 1050.1,1436.3 1054.9,1446 1073.3,1458.6 1054.9,1470.8 1103.3,1482.8 1103.3,1482.8 964.8,1482.8" fill="#4fd67c" stroke="none"/>
<polyline points="964.8,313.4 1081.1,313.6 1081.1,318.4 1127.6,332.9 1108.2,337.8 1109.2,343.6 1126.6,347.5 1132.4,352.7 1146.9,357.7 1173.1,361.6 1173.1,378.5 1163.4,381.4 1157.6,387.2 1157.6,393 1142.1,397.8 1145,402.7 1140.1,408.5 1091.7,413.3 1093.7,417.2 1111.1,422 1110.1,427.8 1128.5,432.7 1124.6,437.5 1124.6,443.3 1116.9,448.2 1125.6,456.9 1109.2,461.7 1110.1,467.6 1148.9,471.4 1148.9,477.2 1116.9,482.1 1115,486.9 1079.1,492.3 1173.1,497.6 1140.1,500.5 1128.5,506.9 1076.2,511.1 1043.3,516.9 1074.3,526.6 1070.4,531.5 996.8,536.3 1077.2,541.7 1071.4,547 1091.7,551.8 1095.6,556.7 1138.2,562.5 1153.7,566.3 1068.5,574.1 1020,578.9 1020,580.9 1111.1,586.3 1031.7,590.6 1040.4,596.4 1024.9,606.1 1115.9,610.9 1053,615.7 1053,615.9 1068.5,621.3 1080.1,630.6 1053,635.4 1101.4,640.7 1068.5,646.5 1062.7,656.2 1061.7,660 1079.1,665.5 1032.6,670.1 1039.4,674.6 1037.5,685.2 1086.9,690.1 1026.8,700.3 1050.1,704.6 1058.8,710.4 1082,715.3 1041.4,720.1 1045.2,724.9 1058.8,731.7 1089.8,739.5 1073.3,746.2 1077.2,750.1 1077.2,759.2 1113,761.7 1130.5,766.6 1107.2,769.5 1141.1,774.3 1097.5,779.2 1115.9,782.1 1109.2,786.9 1027.8,793.7 1142.1,799.1 1079.1,804.4 1081.1,811.1 1115.9,814 1072.3,819.9 1076.2,824.7 1158.5,834 1103.3,843.1 1095.6,848.9 1072.3,851.4 1116.9,856.1 1051,858.2 1126.6,860.5 1051,863.4 1033.6,866.3 1041.4,871.2 987.1,873.5 1022,878.5 998.7,880.9 1012.3,883.8 1004.6,888.6 1023,890.6 992,893.5 1014.2,897.3 1008.4,899.3 1049.1,908 1022,912.8 1053,920 1089.8,922.3 1102.4,927.5 1081.1,938.2 1023,942.6 1053,947.5 1065.6,952.3 1011.3,957.1 1023,967.8 1015.2,972.6 1064.6,982.3 1042.3,987.6 1089.8,992.2 1051,1002.7 1010.4,1012.3 1123.7,1017.4 1045.2,1022.4 1026.8,1027.5 1064.6,1031.7 1082,1037.1 1126.6,1042.4 1027.8,1047.2 1014.2,1052.1 1022,1057.9 1042.3,1061.7 1018.1,1066.6 1027.8,1072 1022,1076.7 1004.6,1081.7 1044.3,1086.9 1053,1092.2 1043.3,1096.6 1048.1,1101.8 1025.9,1106.3 1015.2,1114 1024.9,1118.9 1032.6,1126.6 1031.7,1136.3 1053,1148.9 1029.7,1158.6 1034.6,1166.3 1079.1,1171.2 1042.3,1176 1036.5,1183.2 1064.6,1185.7 1069.4,1190.6 1054.9,1201.2 1022,1210.9 1047.2,1220 1027.8,1225.2 1036.5,1230 1062.7,1234.9 1053,1240.3 1070.4,1250.4 1042.3,1255.8 1098.5,1260.4 1010.4,1272.6 1067.5,1284.6 1029.7,1297.2 1041.4,1310 1034.6,1332.7 1033.6,1360.8 1028.8,1371.4 1064.6,1383.6 1002.6,1401.5 1010.4,1411.1 1084.9,1418.5 1050.1,1436.3 1054.9,1446 1073.3,1458.6 1054.9,1470.8 1103.3,1482.8 1103.3,1482.8" fill="none" stroke="#000" stroke-width="0.8" stroke-linejoin="miter" stroke-miterlimit="3"/>
<line x1="964.8" y1="287" x2="964.8" y2="1508" stroke="#000" stroke-width="1.4" />
<line x1="1931.6" y1="304.6" x2="2117.6" y2="304.6" stroke="#000" stroke-width="1.5" />
<line x1="1940.9" y1="304.6" x2="1940.9" y2="309.6" stroke="#000" stroke-width="1.2" />
<line x1="1950.2" y1="304.6" x2="1950.2" y2="309.6" stroke="#000" stroke-width="1.2" />
<line x1="1959.5" y1="304.6" x2="1959.5" y2="309.6" stroke="#000" stroke-width="1.2" />
<line x1="1968.8" y1="304.6" x2="1968.8" y2="309.6" stroke="#000" stroke-width="1.2" />
<line x1="1978.1" y1="304.6" x2="1978.1" y2="309.6" stroke="#000" stroke-width="1.2" />
<line x1="1987.4" y1="304.6" x2="1987.4" y2="309.6" stroke="#000" stroke-width="1.2" />
<line x1="1996.7" y1="304.6" x2="1996.7" y2="309.6" stroke="#000" stroke-width="1.2" />
<line x1="2006" y1="304.6" x2="2006" y2="309.6" stroke="#000" stroke-width="1.2" />
<line x1="2015.3" y1="304.6" x2="2015.3" y2="309.6" stroke="#000" stroke-width="1.2" />
<line x1="2024.6" y1="304.6" x2="2024.6" y2="309.6" stroke="#000" stroke-width="1.2" />
<line x1="2033.9" y1="304.6" x2="2033.9" y2="309.6" stroke="#000" stroke-width="1.2" />
<line x1="2043.2" y1="304.6" x2="2043.2" y2="309.6" stroke="#000" stroke-width="1.2" />
<line x1="2052.5" y1="304.6" x2="2052.5" y2="309.6" stroke="#000" stroke-width="1.2" />
<line x1="2061.8" y1="304.6" x2="2061.8" y2="309.6" stroke="#000" stroke-width="1.2" />
<line x1="2071.1" y1="304.6" x2="2071.1" y2="309.6" stroke="#000" stroke-width="1.2" />
<line x1="2080.4" y1="304.6" x2="2080.4" y2="309.6" stroke="#000" stroke-width="1.2" />
<line x1="2089.7" y1="304.6" x2="2089.7" y2="309.6" stroke="#000" stroke-width="1.2" />
<line x1="2099" y1="304.6" x2="2099" y2="309.6" stroke="#000" stroke-width="1.2" />
<line x1="2108.3" y1="304.6" x2="2108.3" y2="309.6" stroke="#000" stroke-width="1.2" />
<line x1="2117.6" y1="304.6" x2="2117.6" y2="309.6" stroke="#000" stroke-width="1.2" />
<line x1="1931.6" y1="288" x2="1931.6" y2="1508" stroke="#000" stroke-width="1.4" />
<line x1="1931.6" y1="1492" x2="2117.6" y2="1492" stroke="#000" stroke-width="1.5" />
<line x1="1940.9" y1="1492" x2="1940.9" y2="1499.5" stroke="#000" stroke-width="1.2" />
<line x1="1950.2" y1="1492" x2="1950.2" y2="1501" stroke="#000" stroke-width="1.2" />
<line x1="1959.5" y1="1492" x2="1959.5" y2="1499.5" stroke="#000" stroke-width="1.2" />
<line x1="1968.8" y1="1492" x2="1968.8" y2="1501" stroke="#000" stroke-width="1.2" />
<line x1="1978.1" y1="1492" x2="1978.1" y2="1499.5" stroke="#000" stroke-width="1.2" />
<line x1="1987.4" y1="1492" x2="1987.4" y2="1501" stroke="#000" stroke-width="1.2" />
<line x1="1996.7" y1="1492" x2="1996.7" y2="1499.5" stroke="#000" stroke-width="1.2" />
<line x1="2006" y1="1492" x2="2006" y2="1501" stroke="#000" stroke-width="1.2" />
<line x1="2015.3" y1="1492" x2="2015.3" y2="1499.5" stroke="#000" stroke-width="1.2" />
<line x1="2024.6" y1="1492" x2="2024.6" y2="1501" stroke="#000" stroke-width="1.2" />
<line x1="2033.9" y1="1492" x2="2033.9" y2="1499.5" stroke="#000" stroke-width="1.2" />
<line x1="2043.2" y1="1492" x2="2043.2" y2="1501" stroke="#000" stroke-width="1.2" />
<line x1="2052.5" y1="1492" x2="2052.5" y2="1499.5" stroke="#000" stroke-width="1.2" />
<line x1="2061.8" y1="1492" x2="2061.8" y2="1501" stroke="#000" stroke-width="1.2" />
<line x1="2071.1" y1="1492" x2="2071.1" y2="1499.5" stroke="#000" stroke-width="1.2" />
<line x1="2080.4" y1="1492" x2="2080.4" y2="1501" stroke="#000" stroke-width="1.2" />
<line x1="2089.7" y1="1492" x2="2089.7" y2="1499.5" stroke="#000" stroke-width="1.2" />
<line x1="2099" y1="1492" x2="2099" y2="1501" stroke="#000" stroke-width="1.2" />
<line x1="2108.3" y1="1492" x2="2108.3" y2="1499.5" stroke="#000" stroke-width="1.2" />
<line x1="2117.6" y1="1492" x2="2117.6" y2="1501" stroke="#000" stroke-width="1.2" />
<rect x="1931.6" y="311.6" width="186" height="1169.4" fill="#9b9b9b" />
<polygon points="1931.6,311.6 2081.7,311.6 2081.7,311.6 2083.7,316.5 2102.1,326.2 2104,331 2099.2,334.9 2103.1,345.5 2098.2,351.3 2111.8,360 2111.8,366.8 2106.9,379.4 2103.1,387.2 2103.1,395.9 2097.2,402.7 2082.7,416.2 2090.5,424.9 2093.4,442.4 2101.1,451.1 2102.1,456.9 2107.9,460.8 2108.9,470.5 2099.2,475.3 2102.1,481.1 2097.2,486.9 2104,494.7 2093.4,499.5 2094.3,504.4 2085.6,509.2 2090.5,515 2069.2,519.9 2073,529.5 2084.6,534.4 2075.9,540.2 2084.6,545 2077.9,549.9 2102.1,560.5 2101.1,571.2 2098.2,577 2101.1,584.7 2102.1,599.3 2108.9,609 2077.9,613.8 2080.8,620 2070.1,624.2 2090.5,630 2079.8,638.7 2078.8,646.5 2073,653.3 2092.4,663 2075.9,667.8 2075.9,673.6 2086.6,688.1 2087.6,693 2075,697.8 2084.6,701.7 2080.8,706.5 2092.4,712.3 2075,723 2085.6,733.7 2091.4,749.2 2093.4,762.7 2095.3,766.6 2106,772.4 2101.1,776.3 2104,782.1 2089.5,791.8 2100.1,797.6 2106,802.4 2092.4,812.1 2102.1,816.9 2113.7,832.4 2108.9,840.2 2108.9,851.8 2098.2,855.7 2111.8,859.6 2101.1,863.4 2098.2,867.3 2106,873.1 2100.1,878.9 2107.9,884.7 2091.4,893.5 2103.1,896.4 2111.8,910.9 2107.9,920 2097.2,926.2 2111.8,935.8 2098.2,941.6 2106.9,945.5 2106.9,952.3 2099.2,960 2081.7,965.9 2090.5,971.7 2106,980.4 2101.1,985.2 2106,990.1 2106.9,1004.6 2109.8,1007.5 2102.1,1011.4 2110.8,1016.2 2106,1022 2108.9,1025.9 2108.9,1035.6 2115.6,1039.5 2105,1046.2 2106,1055 2092.4,1059.8 2110.8,1065.6 2098.2,1069.5 2106.9,1076.3 2098.2,1085 2106,1093.7 2101.1,1099.5 2103.1,1115 2100.1,1118.9 2103.1,1124.7 2099.2,1134.4 2103.1,1146 2096.3,1157.6 2095.3,1163.4 2108.9,1168.3 2097.2,1180.9 2101.1,1184.7 2100.1,1198.3 2080.8,1209 2097.2,1218.6 2098.2,1223.2 2103.1,1228.1 2086.6,1233.9 2097.2,1238.7 2089.5,1248.4 2107.9,1258.1 2098.2,1268.8 2092.4,1283.3 2101.1,1294.9 2097.2,1309.4 2102.1,1332.7 2090.5,1356.9 2103.1,1370.5 2104,1386 2102.1,1398.5 2107.9,1409.2 2103.1,1416 2104,1442.1 2091.4,1468.3 2101.1,1480.9 2101.1,1481 1931.6,1481" fill="#d9d9d9"/>
<polyline points="2081.7,311.6 2083.7,316.5 2102.1,326.2 2104,331 2099.2,334.9 2103.1,345.5 2098.2,351.3 2111.8,360 2111.8,366.8 2106.9,379.4 2103.1,387.2 2103.1,395.9 2097.2,402.7 2082.7,416.2 2090.5,424.9 2093.4,442.4 2101.1,451.1 2102.1,456.9 2107.9,460.8 2108.9,470.5 2099.2,475.3 2102.1,481.1 2097.2,486.9 2104,494.7 2093.4,499.5 2094.3,504.4 2085.6,509.2 2090.5,515 2069.2,519.9 2073,529.5 2084.6,534.4 2075.9,540.2 2084.6,545 2077.9,549.9 2102.1,560.5 2101.1,571.2 2098.2,577 2101.1,584.7 2102.1,599.3 2108.9,609 2077.9,613.8 2080.8,620 2070.1,624.2 2090.5,630 2079.8,638.7 2078.8,646.5 2073,653.3 2092.4,663 2075.9,667.8 2075.9,673.6 2086.6,688.1 2087.6,693 2075,697.8 2084.6,701.7 2080.8,706.5 2092.4,712.3 2075,723 2085.6,733.7 2091.4,749.2 2093.4,762.7 2095.3,766.6 2106,772.4 2101.1,776.3 2104,782.1 2089.5,791.8 2100.1,797.6 2106,802.4 2092.4,812.1 2102.1,816.9 2113.7,832.4 2108.9,840.2 2108.9,851.8 2098.2,855.7 2111.8,859.6 2101.1,863.4 2098.2,867.3 2106,873.1 2100.1,878.9 2107.9,884.7 2091.4,893.5 2103.1,896.4 2111.8,910.9 2107.9,920 2097.2,926.2 2111.8,935.8 2098.2,941.6 2106.9,945.5 2106.9,952.3 2099.2,960 2081.7,965.9 2090.5,971.7 2106,980.4 2101.1,985.2 2106,990.1 2106.9,1004.6 2109.8,1007.5 2102.1,1011.4 2110.8,1016.2 2106,1022 2108.9,1025.9 2108.9,1035.6 2115.6,1039.5 2105,1046.2 2106,1055 2092.4,1059.8 2110.8,1065.6 2098.2,1069.5 2106.9,1076.3 2098.2,1085 2106,1093.7 2101.1,1099.5 2103.1,1115 2100.1,1118.9 2103.1,1124.7 2099.2,1134.4 2103.1,1146 2096.3,1157.6 2095.3,1163.4 2108.9,1168.3 2097.2,1180.9 2101.1,1184.7 2100.1,1198.3 2080.8,1209 2097.2,1218.6 2098.2,1223.2 2103.1,1228.1 2086.6,1233.9 2097.2,1238.7 2089.5,1248.4 2107.9,1258.1 2098.2,1268.8 2092.4,1283.3 2101.1,1294.9 2097.2,1309.4 2102.1,1332.7 2090.5,1356.9 2103.1,1370.5 2104,1386 2102.1,1398.5 2107.9,1409.2 2103.1,1416 2104,1442.1 2091.4,1468.3 2101.1,1480.9" fill="none" stroke="#333" stroke-width="0.8"/>
<polygon points="1931.6,311.6 2034,311.6 2034,311.6 2033,316.5 2068.9,331 2059.2,341.6 2068.9,351.3 2080.5,357.1 2102.8,361 2104.7,366.8 2106.7,371.7 2086.3,385.2 2089.2,390.1 2072.8,394.9 2073.7,404.6 2037.9,411.4 2038.9,416.2 2051.4,422 2046.6,426.9 2061.1,431.7 2060.2,445.3 2075.7,455 2066.9,460.8 2072.8,466.6 2090.2,471.4 2074.7,480.1 2048.5,490.8 2096,495.6 2072.8,501.5 2070.8,506.3 2001.1,515 2025.3,525.7 2026.3,529.5 1967.2,535.4 2025.3,541.2 2029.2,547 2041.8,553.8 2045.6,556.7 2082.4,563.4 2000.1,578 2064,584.7 2004,589.6 2022.4,595.4 2012.7,604.1 2068.9,609 2010.8,614.8 2022.4,620 2027.2,625.2 2032.1,629.1 2007.9,633.9 2045.6,639.7 2018.5,646.5 2019.5,655.2 2035.9,663 1996.2,668.8 2005,673.6 2007.9,683.3 2041.8,689.1 2032.1,693.9 1996.2,698.8 2018.5,701.7 2020.5,707.5 2046.6,713.3 2007.9,718.2 2021.4,728.8 2040.8,738.5 2030.1,744.3 2035.9,755 2041.8,757.9 2059.2,760.8 2066.9,764.6 2051.4,767.6 2078.6,772.4 2055.3,776.3 2064,780.1 2057.3,784 1990.4,792.7 2084.4,797.6 2037.9,802.4 2041.8,809.2 2066.9,813.1 2041.8,817.9 2051.4,822.8 2089.2,831.5 2080.5,836.3 2055.3,842.1 2057.3,847 2028.2,848.9 2065,853.8 2018.5,856.7 2089.2,858.6 2005,864.4 2008.8,869.2 1968.2,871.2 1993.3,876 1989.5,880.9 1983.6,886.7 2001.1,889.6 1975.9,891.5 1999.1,897.3 2024.3,906.1 1996.2,911.9 2001.1,915.7 2035.9,920 2045.6,921.3 2057.3,925.6 2043.7,932.9 2035,935.8 1995.3,940.7 2030.1,951.3 1985.6,956.2 2009.8,960 2001.1,968.8 2035,980.4 2009.8,985.2 2045.6,990.1 2033,1000.7 2003,1005.6 2009.8,1010.4 2073.7,1015.3 2005.9,1025.9 2039.8,1031.7 2073.7,1040.4 2010.8,1047.2 1999.1,1050.1 2006.9,1055 2029.2,1059.8 2006.9,1064.6 2011.7,1074.3 1990.4,1080.1 2001.1,1081.1 2038.9,1090.8 2026.3,1095.6 2026.3,1098.5 1998.2,1112.1 2029.2,1122.8 2037.9,1124.7 2029.2,1132.4 2029.2,1147 2018.5,1157.6 2016.6,1164.4 2063.1,1169.2 2041.8,1173.1 2026.3,1180.9 2051.4,1183.8 2039.8,1199.3 2026.3,1208 2035,1215.7 2032.1,1220 2021.4,1223.2 2049.5,1232.9 2024.3,1238.7 2029.2,1247.5 2008.8,1253.3 2046.6,1258.1 1995.3,1270.7 2044.7,1283.3 2007.9,1294.9 2021.4,1307.5 2021.4,1331.7 2020.5,1356.9 2024.3,1369.5 2044.7,1382.1 2043.7,1397.6 2063.1,1416.9 2028.2,1443.1 2051.4,1455.7 2015.6,1468.3 2041.8,1480.9 2041.8,1481 1931.6,1481" fill="#141414"/>
<polygon points="1931.6,311.6 2030.4,311.6 2030.4,311.6 2029.4,316.5 2065.3,331 2055.6,341.6 2065.3,351.3 2076.9,357.1 2099.2,361 2101.1,366.8 2103.1,371.7 2082.7,385.2 2085.6,390.1 2069.2,394.9 2070.1,404.6 2034.3,411.4 2035.3,416.2 2047.8,422 2043,426.9 2057.5,431.7 2056.6,445.3 2072.1,455 2063.3,460.8 2069.2,466.6 2086.6,471.4 2071.1,480.1 2044.9,490.8 2092.4,495.6 2069.2,501.5 2067.2,506.3 1997.5,515 2021.7,525.7 2022.7,529.5 1963.6,535.4 2021.7,541.2 2025.6,547 2038.2,553.8 2042,556.7 2078.8,563.4 1996.5,578 2060.4,584.7 2000.4,589.6 2018.8,595.4 2009.1,604.1 2065.3,609 2007.2,614.8 2018.8,620 2023.6,625.2 2028.5,629.1 2004.3,633.9 2042,639.7 2014.9,646.5 2015.9,655.2 2032.3,663 1992.6,668.8 2001.4,673.6 2004.3,683.3 2038.2,689.1 2028.5,693.9 1992.6,698.8 2014.9,701.7 2016.9,707.5 2043,713.3 2004.3,718.2 2017.8,728.8 2037.2,738.5 2026.5,744.3 2032.3,755 2038.2,757.9 2055.6,760.8 2063.3,764.6 2047.8,767.6 2075,772.4 2051.7,776.3 2060.4,780.1 2053.7,784 1986.8,792.7 2080.8,797.6 2034.3,802.4 2038.2,809.2 2063.3,813.1 2038.2,817.9 2047.8,822.8 2085.6,831.5 2076.9,836.3 2051.7,842.1 2053.7,847 2024.6,848.9 2061.4,853.8 2014.9,856.7 2085.6,858.6 2001.4,864.4 2005.2,869.2 1964.6,871.2 1989.7,876 1985.9,880.9 1980,886.7 1997.5,889.6 1972.3,891.5 1995.5,897.3 2020.7,906.1 1992.6,911.9 1997.5,915.7 2032.3,920 2042,921.3 2053.7,925.6 2040.1,932.9 2031.4,935.8 1991.7,940.7 2026.5,951.3 1982,956.2 2006.2,960 1997.5,968.8 2031.4,980.4 2006.2,985.2 2042,990.1 2029.4,1000.7 1999.4,1005.6 2006.2,1010.4 2070.1,1015.3 2002.3,1025.9 2036.2,1031.7 2070.1,1040.4 2007.2,1047.2 1995.5,1050.1 2003.3,1055 2025.6,1059.8 2003.3,1064.6 2008.1,1074.3 1986.8,1080.1 1997.5,1081.1 2035.3,1090.8 2022.7,1095.6 2022.7,1098.5 1994.6,1112.1 2025.6,1122.8 2034.3,1124.7 2025.6,1132.4 2025.6,1147 2014.9,1157.6 2013,1164.4 2059.5,1169.2 2038.2,1173.1 2022.7,1180.9 2047.8,1183.8 2036.2,1199.3 2022.7,1208 2031.4,1215.7 2028.5,1220 2017.8,1223.2 2045.9,1232.9 2020.7,1238.7 2025.6,1247.5 2005.2,1253.3 2043,1258.1 1991.7,1270.7 2041.1,1283.3 2004.3,1294.9 2017.8,1307.5 2017.8,1331.7 2016.9,1356.9 2020.7,1369.5 2041.1,1382.1 2040.1,1397.6 2059.5,1416.9 2024.6,1443.1 2047.8,1455.7 2012,1468.3 2038.2,1480.9 2038.2,1481 1931.6,1481" fill="#696969"/>
<rect x="1931.6" y="311.6" width="186" height="1169.4" fill="none" stroke="#111" stroke-width="1.4"/>
<text x="2160.5" y="362" font-size="31" font-weight="normal" font-style="normal" text-anchor="middle">c</text>
<text x="2160.5" y="465.6" font-size="31" font-weight="normal" font-style="normal" text-anchor="middle">b</text>
<text x="2160.5" y="548" font-size="31" font-weight="normal" font-style="normal" text-anchor="middle">a</text>
<text x="2160.5" y="600.3" font-size="31" font-weight="normal" font-style="normal" text-anchor="middle">d</text>
<text x="2160.5" y="639.7" font-size="31" font-weight="normal" font-style="normal" text-anchor="middle">c</text>
<text x="2160.5" y="712.4" font-size="31" font-weight="normal" font-style="normal" text-anchor="middle">b</text>
<text x="2160.5" y="816" font-size="31" font-weight="normal" font-style="normal" text-anchor="middle">a</text>
<text x="2160.5" y="888.6" font-size="31" font-weight="normal" font-style="normal" text-anchor="middle">c</text>
<text x="2160.5" y="941.6" font-size="31" font-weight="normal" font-style="normal" text-anchor="middle">b</text>
<text x="2160.5" y="1007.5" font-size="31" font-weight="normal" font-style="normal" text-anchor="middle">a</text>
<text x="2160.5" y="1090.8" font-size="31" font-weight="normal" font-style="normal" text-anchor="middle">e</text>
<text x="2160.5" y="1186.7" font-size="31" font-weight="normal" font-style="normal" text-anchor="middle">d</text>
<text x="2160.5" y="1317.2" font-size="31" font-weight="normal" font-style="normal" text-anchor="middle">c</text>
<text x="2160.5" y="1436.3" font-size="31" font-weight="normal" font-style="normal" text-anchor="middle">b</text>
<text x="2160.5" y="1485.7" font-size="31" font-weight="normal" font-style="normal" text-anchor="middle">a</text>
<text x="2209" y="422" font-size="28.5" font-weight="bold" font-style="normal" text-anchor="middle">F</text>
<text x="2209" y="454" font-size="28.5" font-weight="bold" font-style="normal" text-anchor="middle">P</text>
<text x="2209" y="487" font-size="28.5" font-weight="bold" font-style="normal" text-anchor="middle">D</text>
<text x="2209" y="519.8" font-size="28.5" font-weight="bold" font-style="normal" text-anchor="middle">4</text>
<text x="2209" y="695.9" font-size="28.5" font-weight="bold" font-style="normal" text-anchor="middle">F</text>
<text x="2209" y="728.8" font-size="28.5" font-weight="bold" font-style="normal" text-anchor="middle">P</text>
<text x="2209" y="761.7" font-size="28.5" font-weight="bold" font-style="normal" text-anchor="middle">D</text>
<text x="2209" y="792.7" font-size="28.5" font-weight="bold" font-style="normal" text-anchor="middle">3</text>
<text x="2209" y="923.2" font-size="28.5" font-weight="bold" font-style="normal" text-anchor="middle">F</text>
<text x="2209" y="956.2" font-size="28.5" font-weight="bold" font-style="normal" text-anchor="middle">P</text>
<text x="2209" y="989.1" font-size="28.5" font-weight="bold" font-style="normal" text-anchor="middle">D</text>
<text x="2209" y="1021" font-size="28.5" font-weight="bold" font-style="normal" text-anchor="middle">2</text>
<text x="2209" y="1242.6" font-size="28.5" font-weight="bold" font-style="normal" text-anchor="middle">F</text>
<text x="2209" y="1276.5" font-size="28.5" font-weight="bold" font-style="normal" text-anchor="middle">P</text>
<text x="2209" y="1309.4" font-size="28.5" font-weight="bold" font-style="normal" text-anchor="middle">D</text>
<text x="2209" y="1342.4" font-size="28.5" font-weight="bold" font-style="normal" text-anchor="middle">1</text>
<g stroke="#000" stroke-width="1.5" fill="none">
<line x1="2236.7" y1="303.5" x2="2347.1" y2="303.5" stroke="#000" stroke-width="3" />
<line x1="2236.7" y1="303.5" x2="2236.7" y2="309" stroke="#000" stroke-width="1.3" />
<line x1="2243.6" y1="303.5" x2="2243.6" y2="309" stroke="#000" stroke-width="1.3" />
<line x1="2250.5" y1="303.5" x2="2250.5" y2="309" stroke="#000" stroke-width="1.3" />
<line x1="2257.4" y1="303.5" x2="2257.4" y2="309" stroke="#000" stroke-width="1.3" />
<line x1="2264.3" y1="303.5" x2="2264.3" y2="309" stroke="#000" stroke-width="1.3" />
<line x1="2271.2" y1="303.5" x2="2271.2" y2="309" stroke="#000" stroke-width="1.3" />
<line x1="2278.1" y1="303.5" x2="2278.1" y2="309" stroke="#000" stroke-width="1.3" />
<line x1="2285" y1="303.5" x2="2285" y2="309" stroke="#000" stroke-width="1.3" />
<line x1="2291.9" y1="303.5" x2="2291.9" y2="309" stroke="#000" stroke-width="1.3" />
<line x1="2298.8" y1="303.5" x2="2298.8" y2="309" stroke="#000" stroke-width="1.3" />
<line x1="2305.7" y1="303.5" x2="2305.7" y2="309" stroke="#000" stroke-width="1.3" />
<line x1="2312.6" y1="303.5" x2="2312.6" y2="309" stroke="#000" stroke-width="1.3" />
<line x1="2319.5" y1="303.5" x2="2319.5" y2="309" stroke="#000" stroke-width="1.3" />
<line x1="2326.4" y1="303.5" x2="2326.4" y2="309" stroke="#000" stroke-width="1.3" />
<line x1="2333.3" y1="303.5" x2="2333.3" y2="309" stroke="#000" stroke-width="1.3" />
<line x1="2340.2" y1="303.5" x2="2340.2" y2="309" stroke="#000" stroke-width="1.3" />
<line x1="2347.1" y1="303.5" x2="2347.1" y2="309" stroke="#000" stroke-width="1.3" />
<line x1="2236.7" y1="1492.7" x2="2347.1" y2="1492.7" stroke="#000" stroke-width="3" />
<line x1="2236.7" y1="1492.7" x2="2236.7" y2="1500.8" stroke="#000" stroke-width="1.3" />
<line x1="2243.6" y1="1492.7" x2="2243.6" y2="1500.8" stroke="#000" stroke-width="1.3" />
<line x1="2250.5" y1="1492.7" x2="2250.5" y2="1500.8" stroke="#000" stroke-width="1.3" />
<line x1="2257.4" y1="1492.7" x2="2257.4" y2="1500.8" stroke="#000" stroke-width="1.3" />
<line x1="2264.3" y1="1492.7" x2="2264.3" y2="1500.8" stroke="#000" stroke-width="1.3" />
<line x1="2271.2" y1="1492.7" x2="2271.2" y2="1500.8" stroke="#000" stroke-width="1.3" />
<line x1="2278.1" y1="1492.7" x2="2278.1" y2="1500.8" stroke="#000" stroke-width="1.3" />
<line x1="2285" y1="1492.7" x2="2285" y2="1500.8" stroke="#000" stroke-width="1.3" />
<line x1="2291.9" y1="1492.7" x2="2291.9" y2="1500.8" stroke="#000" stroke-width="1.3" />
<line x1="2298.8" y1="1492.7" x2="2298.8" y2="1500.8" stroke="#000" stroke-width="1.3" />
<line x1="2305.7" y1="1492.7" x2="2305.7" y2="1500.8" stroke="#000" stroke-width="1.3" />
<line x1="2312.6" y1="1492.7" x2="2312.6" y2="1500.8" stroke="#000" stroke-width="1.3" />
<line x1="2319.5" y1="1492.7" x2="2319.5" y2="1500.8" stroke="#000" stroke-width="1.3" />
<line x1="2326.4" y1="1492.7" x2="2326.4" y2="1500.8" stroke="#000" stroke-width="1.3" />
<line x1="2333.3" y1="1492.7" x2="2333.3" y2="1500.8" stroke="#000" stroke-width="1.3" />
<line x1="2340.2" y1="1492.7" x2="2340.2" y2="1500.8" stroke="#000" stroke-width="1.3" />
<line x1="2347.1" y1="1492.7" x2="2347.1" y2="1500.8" stroke="#000" stroke-width="1.3" />
<line x1="2236.7" y1="312.6" x2="2241.6" y2="312.6"/>
<line x1="2236.7" y1="317.4" x2="2241.6" y2="317.4"/>
<line x1="2241.6" y1="312.6" x2="2241.6" y2="317.4"/>
<line x1="2236.7" y1="326.2" x2="2249.2" y2="326.2"/>
<line x1="2236.7" y1="331" x2="2249.2" y2="331"/>
<line x1="2249.2" y1="326.2" x2="2249.2" y2="331"/>
<line x1="2241.6" y1="315" x2="2262" y2="315"/>
<line x1="2249.2" y1="328.6" x2="2262" y2="328.6"/>
<line x1="2262" y1="315" x2="2262" y2="328.6"/>
<line x1="2236.7" y1="337.8" x2="2240.4" y2="337.8"/>
<line x1="2236.7" y1="341.6" x2="2240.4" y2="341.6"/>
<line x1="2240.4" y1="337.8" x2="2240.4" y2="341.6"/>
<line x1="2240.4" y1="339.7" x2="2261.9" y2="339.7"/>
<line x1="2236.7" y1="346.5" x2="2261.9" y2="346.5"/>
<line x1="2261.9" y1="339.7" x2="2261.9" y2="346.5"/>
<line x1="2262" y1="321.8" x2="2265.4" y2="321.8"/>
<line x1="2261.9" y1="343.1" x2="2265.4" y2="343.1"/>
<line x1="2265.4" y1="321.8" x2="2265.4" y2="343.1"/>
<line x1="2265.4" y1="332.4" x2="2265.4" y2="328.5"/>
<line x1="2236.7" y1="350.4" x2="2244.5" y2="350.4"/>
<line x1="2236.7" y1="356.2" x2="2244.5" y2="356.2"/>
<line x1="2244.5" y1="350.4" x2="2244.5" y2="356.2"/>
<line x1="2244.5" y1="353.3" x2="2248.5" y2="353.3"/>
<line x1="2236.7" y1="361" x2="2248.5" y2="361"/>
<line x1="2248.5" y1="353.3" x2="2248.5" y2="361"/>
<line x1="2248.5" y1="357.1" x2="2252.1" y2="357.1"/>
<line x1="2236.7" y1="364.9" x2="2252.1" y2="364.9"/>
<line x1="2252.1" y1="357.1" x2="2252.1" y2="364.9"/>
<line x1="2236.7" y1="371.7" x2="2240" y2="371.7"/>
<line x1="2236.7" y1="377.5" x2="2240" y2="377.5"/>
<line x1="2240" y1="371.7" x2="2240" y2="377.5"/>
<line x1="2236.7" y1="395.9" x2="2240.4" y2="395.9"/>
<line x1="2236.7" y1="400.7" x2="2240.4" y2="400.7"/>
<line x1="2240.4" y1="395.9" x2="2240.4" y2="400.7"/>
<line x1="2236.7" y1="391" x2="2243.2" y2="391"/>
<line x1="2240.4" y1="398.3" x2="2243.2" y2="398.3"/>
<line x1="2243.2" y1="391" x2="2243.2" y2="398.3"/>
<line x1="2236.7" y1="386.2" x2="2247.2" y2="386.2"/>
<line x1="2243.2" y1="394.7" x2="2247.2" y2="394.7"/>
<line x1="2247.2" y1="386.2" x2="2247.2" y2="394.7"/>
<line x1="2236.7" y1="381.4" x2="2255.1" y2="381.4"/>
<line x1="2247.2" y1="390.4" x2="2255.1" y2="390.4"/>
<line x1="2255.1" y1="381.4" x2="2255.1" y2="390.4"/>
<line x1="2240" y1="374.6" x2="2258" y2="374.6"/>
<line x1="2255.1" y1="385.9" x2="2258" y2="385.9"/>
<line x1="2258" y1="374.6" x2="2258" y2="385.9"/>
<line x1="2252.1" y1="361" x2="2266.3" y2="361"/>
<line x1="2258" y1="380.2" x2="2266.3" y2="380.2"/>
<line x1="2266.3" y1="361" x2="2266.3" y2="380.2"/>
<line x1="2266.3" y1="370.6" x2="2266.3" y2="380.8"/>
<line x1="2265.4" y1="328.5" x2="2293.6" y2="328.5"/>
<line x1="2266.3" y1="380.8" x2="2293.6" y2="380.8"/>
<line x1="2293.6" y1="328.5" x2="2293.6" y2="380.8"/>
<line x1="2236.7" y1="406.5" x2="2251.7" y2="406.5"/>
<line x1="2236.7" y1="411.4" x2="2251.7" y2="411.4"/>
<line x1="2251.7" y1="406.5" x2="2251.7" y2="411.4"/>
<line x1="2236.7" y1="425.9" x2="2239.6" y2="425.9"/>
<line x1="2236.7" y1="431.7" x2="2239.6" y2="431.7"/>
<line x1="2239.6" y1="425.9" x2="2239.6" y2="431.7"/>
<line x1="2239.6" y1="428.8" x2="2241.2" y2="428.8"/>
<line x1="2236.7" y1="435.6" x2="2241.2" y2="435.6"/>
<line x1="2241.2" y1="428.8" x2="2241.2" y2="435.6"/>
<line x1="2241.2" y1="432.2" x2="2242.1" y2="432.2"/>
<line x1="2236.7" y1="443.3" x2="2242.1" y2="443.3"/>
<line x1="2242.1" y1="432.2" x2="2242.1" y2="443.3"/>
<line x1="2236.7" y1="422" x2="2248.3" y2="422"/>
<line x1="2242.1" y1="437.8" x2="2248.3" y2="437.8"/>
<line x1="2248.3" y1="422" x2="2248.3" y2="437.8"/>
<line x1="2236.7" y1="416.2" x2="2255.7" y2="416.2"/>
<line x1="2248.3" y1="429.9" x2="2255.7" y2="429.9"/>
<line x1="2255.7" y1="416.2" x2="2255.7" y2="429.9"/>
<line x1="2251.7" y1="409" x2="2269" y2="409"/>
<line x1="2255.7" y1="423.1" x2="2269" y2="423.1"/>
<line x1="2269" y1="409" x2="2269" y2="423.1"/>
<line x1="2269" y1="416" x2="2269" y2="428"/>
<line x1="2236.7" y1="451.1" x2="2244.2" y2="451.1"/>
<line x1="2236.7" y1="455.9" x2="2244.2" y2="455.9"/>
<line x1="2244.2" y1="451.1" x2="2244.2" y2="455.9"/>
<line x1="2236.7" y1="447.2" x2="2255.2" y2="447.2"/>
<line x1="2244.2" y1="453.5" x2="2255.2" y2="453.5"/>
<line x1="2255.2" y1="447.2" x2="2255.2" y2="453.5"/>
<line x1="2236.7" y1="459.8" x2="2247.6" y2="459.8"/>
<line x1="2236.7" y1="465.6" x2="2247.6" y2="465.6"/>
<line x1="2247.6" y1="459.8" x2="2247.6" y2="465.6"/>
<line x1="2236.7" y1="471.4" x2="2240.3" y2="471.4"/>
<line x1="2236.7" y1="475.3" x2="2240.3" y2="475.3"/>
<line x1="2240.3" y1="471.4" x2="2240.3" y2="475.3"/>
<line x1="2236.7" y1="479.2" x2="2239.4" y2="479.2"/>
<line x1="2236.7" y1="486" x2="2239.4" y2="486"/>
<line x1="2239.4" y1="479.2" x2="2239.4" y2="486"/>
<line x1="2240.3" y1="473.4" x2="2244.9" y2="473.4"/>
<line x1="2239.4" y1="482.6" x2="2244.9" y2="482.6"/>
<line x1="2244.9" y1="473.4" x2="2244.9" y2="482.6"/>
<line x1="2236.7" y1="499.5" x2="2240.2" y2="499.5"/>
<line x1="2236.7" y1="505.3" x2="2240.2" y2="505.3"/>
<line x1="2240.2" y1="499.5" x2="2240.2" y2="505.3"/>
<line x1="2236.7" y1="495.6" x2="2243.8" y2="495.6"/>
<line x1="2240.2" y1="502.4" x2="2243.8" y2="502.4"/>
<line x1="2243.8" y1="495.6" x2="2243.8" y2="502.4"/>
<line x1="2236.7" y1="490.8" x2="2247" y2="490.8"/>
<line x1="2243.8" y1="499" x2="2247" y2="499"/>
<line x1="2247" y1="490.8" x2="2247" y2="499"/>
<line x1="2244.9" y1="478" x2="2253.4" y2="478"/>
<line x1="2247" y1="494.9" x2="2253.4" y2="494.9"/>
<line x1="2253.4" y1="478" x2="2253.4" y2="494.9"/>
<line x1="2247.6" y1="462.7" x2="2267.1" y2="462.7"/>
<line x1="2253.4" y1="486.4" x2="2267.1" y2="486.4"/>
<line x1="2267.1" y1="462.7" x2="2267.1" y2="486.4"/>
<line x1="2255.2" y1="450.4" x2="2270" y2="450.4"/>
<line x1="2267.1" y1="474.6" x2="2270" y2="474.6"/>
<line x1="2270" y1="450.4" x2="2270" y2="474.6"/>
<line x1="2270" y1="462.5" x2="2270" y2="496"/>
<line x1="2269" y1="428" x2="2273.6" y2="428"/>
<line x1="2270" y1="496" x2="2273.6" y2="496"/>
<line x1="2273.6" y1="428" x2="2273.6" y2="496"/>
<line x1="2236.7" y1="515" x2="2242.6" y2="515"/>
<line x1="2236.7" y1="519.9" x2="2242.6" y2="519.9"/>
<line x1="2242.6" y1="515" x2="2242.6" y2="519.9"/>
<line x1="2236.7" y1="524.7" x2="2251.1" y2="524.7"/>
<line x1="2236.7" y1="529.5" x2="2251.1" y2="529.5"/>
<line x1="2251.1" y1="524.7" x2="2251.1" y2="529.5"/>
<line x1="2242.6" y1="517.4" x2="2263.2" y2="517.4"/>
<line x1="2251.1" y1="527.1" x2="2263.2" y2="527.1"/>
<line x1="2263.2" y1="517.4" x2="2263.2" y2="527.1"/>
<line x1="2236.7" y1="511.1" x2="2278" y2="511.1"/>
<line x1="2263.2" y1="522.3" x2="2278" y2="522.3"/>
<line x1="2278" y1="511.1" x2="2278" y2="522.3"/>
<line x1="2278" y1="516.7" x2="2278" y2="520.6"/>
<line x1="2236.7" y1="546" x2="2243.8" y2="546"/>
<line x1="2236.7" y1="549.9" x2="2243.8" y2="549.9"/>
<line x1="2243.8" y1="546" x2="2243.8" y2="549.9"/>
<line x1="2236.7" y1="540.2" x2="2251.4" y2="540.2"/>
<line x1="2243.8" y1="547.9" x2="2251.4" y2="547.9"/>
<line x1="2251.4" y1="540.2" x2="2251.4" y2="547.9"/>
<line x1="2251.4" y1="544.1" x2="2255.7" y2="544.1"/>
<line x1="2236.7" y1="555.7" x2="2255.7" y2="555.7"/>
<line x1="2255.7" y1="544.1" x2="2255.7" y2="555.7"/>
<line x1="2236.7" y1="535.4" x2="2256.7" y2="535.4"/>
<line x1="2255.7" y1="549.9" x2="2256.7" y2="549.9"/>
<line x1="2256.7" y1="535.4" x2="2256.7" y2="549.9"/>
<line x1="2236.7" y1="560.5" x2="2243.3" y2="560.5"/>
<line x1="2236.7" y1="566.3" x2="2243.3" y2="566.3"/>
<line x1="2243.3" y1="560.5" x2="2243.3" y2="566.3"/>
<line x1="2256.7" y1="542.6" x2="2270" y2="542.6"/>
<line x1="2243.3" y1="563.4" x2="2270" y2="563.4"/>
<line x1="2270" y1="542.6" x2="2270" y2="563.4"/>
<line x1="2270" y1="553" x2="2270" y2="560.6"/>
<line x1="2278" y1="520.6" x2="2284" y2="520.6"/>
<line x1="2270" y1="560.6" x2="2284" y2="560.6"/>
<line x1="2284" y1="520.6" x2="2284" y2="560.6"/>
<line x1="2273.6" y1="462.5" x2="2291.8" y2="462.5"/>
<line x1="2284" y1="543.3" x2="2291.8" y2="543.3"/>
<line x1="2291.8" y1="462.5" x2="2291.8" y2="543.3"/>
<line x1="2293.6" y1="354" x2="2300" y2="354"/>
<line x1="2291.8" y1="503.4" x2="2300" y2="503.4"/>
<line x1="2300" y1="354" x2="2300" y2="503.4"/>
<line x1="2236.7" y1="578.9" x2="2245.5" y2="578.9"/>
<line x1="2236.7" y1="584.7" x2="2245.5" y2="584.7"/>
<line x1="2245.5" y1="578.9" x2="2245.5" y2="584.7"/>
<line x1="2245.5" y1="581.8" x2="2250.9" y2="581.8"/>
<line x1="2236.7" y1="589.6" x2="2250.9" y2="589.6"/>
<line x1="2250.9" y1="581.8" x2="2250.9" y2="589.6"/>
<line x1="2236.7" y1="574.1" x2="2261.6" y2="574.1"/>
<line x1="2250.9" y1="585.7" x2="2261.6" y2="585.7"/>
<line x1="2261.6" y1="574.1" x2="2261.6" y2="585.7"/>
<line x1="2236.7" y1="596.4" x2="2244" y2="596.4"/>
<line x1="2236.7" y1="602.2" x2="2244" y2="602.2"/>
<line x1="2244" y1="596.4" x2="2244" y2="602.2"/>
<line x1="2236.7" y1="606.1" x2="2243.8" y2="606.1"/>
<line x1="2236.7" y1="609.9" x2="2243.8" y2="609.9"/>
<line x1="2243.8" y1="606.1" x2="2243.8" y2="609.9"/>
<line x1="2244" y1="599.3" x2="2255.6" y2="599.3"/>
<line x1="2243.8" y1="608" x2="2255.6" y2="608"/>
<line x1="2255.6" y1="599.3" x2="2255.6" y2="608"/>
<line x1="2261.6" y1="579.9" x2="2275.4" y2="579.9"/>
<line x1="2255.6" y1="603.6" x2="2275.4" y2="603.6"/>
<line x1="2275.4" y1="579.9" x2="2275.4" y2="603.6"/>
<line x1="2275.4" y1="591.8" x2="2275.4" y2="599"/>
<line x1="2236.7" y1="619.4" x2="2242.2" y2="619.4"/>
<line x1="2236.7" y1="624.2" x2="2242.2" y2="624.2"/>
<line x1="2242.2" y1="619.4" x2="2242.2" y2="624.2"/>
<line x1="2236.7" y1="614.8" x2="2250.4" y2="614.8"/>
<line x1="2242.2" y1="621.8" x2="2250.4" y2="621.8"/>
<line x1="2250.4" y1="614.8" x2="2250.4" y2="621.8"/>
<line x1="2236.7" y1="630.6" x2="2239.5" y2="630.6"/>
<line x1="2236.7" y1="634.5" x2="2239.5" y2="634.5"/>
<line x1="2239.5" y1="630.6" x2="2239.5" y2="634.5"/>
<line x1="2239.5" y1="632.5" x2="2243.8" y2="632.5"/>
<line x1="2236.7" y1="639.7" x2="2243.8" y2="639.7"/>
<line x1="2243.8" y1="632.5" x2="2243.8" y2="639.7"/>
<line x1="2243.8" y1="636.1" x2="2249.7" y2="636.1"/>
<line x1="2236.7" y1="646.5" x2="2249.7" y2="646.5"/>
<line x1="2249.7" y1="636.1" x2="2249.7" y2="646.5"/>
<line x1="2250.4" y1="618.3" x2="2251.8" y2="618.3"/>
<line x1="2249.7" y1="641.3" x2="2251.8" y2="641.3"/>
<line x1="2251.8" y1="618.3" x2="2251.8" y2="641.3"/>
<line x1="2251.8" y1="629.8" x2="2251.8" y2="631"/>
<line x1="2236.7" y1="656.2" x2="2245" y2="656.2"/>
<line x1="2236.7" y1="660" x2="2245" y2="660"/>
<line x1="2245" y1="656.2" x2="2245" y2="660"/>
<line x1="2245" y1="658.1" x2="2254.4" y2="658.1"/>
<line x1="2236.7" y1="665.5" x2="2254.4" y2="665.5"/>
<line x1="2254.4" y1="658.1" x2="2254.4" y2="665.5"/>
<line x1="2254.4" y1="661.8" x2="2258.8" y2="661.8"/>
<line x1="2236.7" y1="669.7" x2="2258.8" y2="669.7"/>
<line x1="2258.8" y1="661.8" x2="2258.8" y2="669.7"/>
<line x1="2236.7" y1="681.4" x2="2240.4" y2="681.4"/>
<line x1="2236.7" y1="685.2" x2="2240.4" y2="685.2"/>
<line x1="2240.4" y1="681.4" x2="2240.4" y2="685.2"/>
<line x1="2236.7" y1="673.6" x2="2246" y2="673.6"/>
<line x1="2240.4" y1="683.3" x2="2246" y2="683.3"/>
<line x1="2246" y1="673.6" x2="2246" y2="683.3"/>
<line x1="2236.7" y1="689.1" x2="2240.1" y2="689.1"/>
<line x1="2236.7" y1="693" x2="2240.1" y2="693"/>
<line x1="2240.1" y1="689.1" x2="2240.1" y2="693"/>
<line x1="2236.7" y1="698.8" x2="2240.3" y2="698.8"/>
<line x1="2236.7" y1="704.6" x2="2240.3" y2="704.6"/>
<line x1="2240.3" y1="698.8" x2="2240.3" y2="704.6"/>
<line x1="2236.7" y1="708.5" x2="2239.4" y2="708.5"/>
<line x1="2236.7" y1="714.3" x2="2239.4" y2="714.3"/>
<line x1="2239.4" y1="708.5" x2="2239.4" y2="714.3"/>
<line x1="2236.7" y1="718.2" x2="2239.5" y2="718.2"/>
<line x1="2236.7" y1="723" x2="2239.5" y2="723"/>
<line x1="2239.5" y1="718.2" x2="2239.5" y2="723"/>
<line x1="2236.7" y1="727.8" x2="2239.3" y2="727.8"/>
<line x1="2236.7" y1="731.7" x2="2239.3" y2="731.7"/>
<line x1="2239.3" y1="727.8" x2="2239.3" y2="731.7"/>
<line x1="2239.5" y1="720.6" x2="2239.4" y2="720.6"/>
<line x1="2239.3" y1="729.8" x2="2239.4" y2="729.8"/>
<line x1="2239.4" y1="720.6" x2="2239.4" y2="729.8"/>
<line x1="2239.4" y1="711.4" x2="2241.9" y2="711.4"/>
<line x1="2239.4" y1="725.2" x2="2241.9" y2="725.2"/>
<line x1="2241.9" y1="711.4" x2="2241.9" y2="725.2"/>
<line x1="2240.3" y1="701.7" x2="2244.9" y2="701.7"/>
<line x1="2241.9" y1="718.3" x2="2244.9" y2="718.3"/>
<line x1="2244.9" y1="701.7" x2="2244.9" y2="718.3"/>
<line x1="2240.1" y1="691" x2="2249.2" y2="691"/>
<line x1="2244.9" y1="710" x2="2249.2" y2="710"/>
<line x1="2249.2" y1="691" x2="2249.2" y2="710"/>
<line x1="2246" y1="678.5" x2="2254.8" y2="678.5"/>
<line x1="2249.2" y1="700.5" x2="2254.8" y2="700.5"/>
<line x1="2254.8" y1="678.5" x2="2254.8" y2="700.5"/>
<line x1="2258.8" y1="665.8" x2="2268" y2="665.8"/>
<line x1="2254.8" y1="689.5" x2="2268" y2="689.5"/>
<line x1="2268" y1="665.8" x2="2268" y2="689.5"/>
<line x1="2268" y1="677.6" x2="2268" y2="699"/>
<line x1="2251.8" y1="631" x2="2299" y2="631"/>
<line x1="2268" y1="699" x2="2299" y2="699"/>
<line x1="2299" y1="631" x2="2299" y2="699"/>
<line x1="2275.4" y1="599" x2="2310" y2="599"/>
<line x1="2299" y1="664.4" x2="2310" y2="664.4"/>
<line x1="2310" y1="599" x2="2310" y2="664.4"/>
<line x1="2236.7" y1="738.5" x2="2239.5" y2="738.5"/>
<line x1="2236.7" y1="746.2" x2="2239.5" y2="746.2"/>
<line x1="2239.5" y1="738.5" x2="2239.5" y2="746.2"/>
<line x1="2239.5" y1="742.4" x2="2283.5" y2="742.4"/>
<line x1="2236.7" y1="750.1" x2="2283.5" y2="750.1"/>
<line x1="2283.5" y1="742.4" x2="2283.5" y2="750.1"/>
<line x1="2236.7" y1="766.6" x2="2241.3" y2="766.6"/>
<line x1="2236.7" y1="773.4" x2="2241.3" y2="773.4"/>
<line x1="2241.3" y1="766.6" x2="2241.3" y2="773.4"/>
<line x1="2236.7" y1="759.2" x2="2243.3" y2="759.2"/>
<line x1="2241.3" y1="770" x2="2243.3" y2="770"/>
<line x1="2243.3" y1="759.2" x2="2243.3" y2="770"/>
<line x1="2236.7" y1="755" x2="2247.2" y2="755"/>
<line x1="2243.3" y1="764.6" x2="2247.2" y2="764.6"/>
<line x1="2247.2" y1="755" x2="2247.2" y2="764.6"/>
<line x1="2236.7" y1="777.2" x2="2246.2" y2="777.2"/>
<line x1="2236.7" y1="781.1" x2="2246.2" y2="781.1"/>
<line x1="2246.2" y1="777.2" x2="2246.2" y2="781.1"/>
<line x1="2236.7" y1="786" x2="2248.3" y2="786"/>
<line x1="2236.7" y1="791.8" x2="2248.3" y2="791.8"/>
<line x1="2248.3" y1="786" x2="2248.3" y2="791.8"/>
<line x1="2246.2" y1="779.2" x2="2253" y2="779.2"/>
<line x1="2248.3" y1="788.9" x2="2253" y2="788.9"/>
<line x1="2253" y1="779.2" x2="2253" y2="788.9"/>
<line x1="2247.2" y1="759.8" x2="2253.9" y2="759.8"/>
<line x1="2253" y1="784" x2="2253.9" y2="784"/>
<line x1="2253.9" y1="759.8" x2="2253.9" y2="784"/>
<line x1="2236.7" y1="797.6" x2="2245.4" y2="797.6"/>
<line x1="2236.7" y1="802.4" x2="2245.4" y2="802.4"/>
<line x1="2245.4" y1="797.6" x2="2245.4" y2="802.4"/>
<line x1="2236.7" y1="809.2" x2="2239.3" y2="809.2"/>
<line x1="2236.7" y1="813.1" x2="2239.3" y2="813.1"/>
<line x1="2239.3" y1="809.2" x2="2239.3" y2="813.1"/>
<line x1="2245.4" y1="800" x2="2253.8" y2="800"/>
<line x1="2239.3" y1="811.1" x2="2253.8" y2="811.1"/>
<line x1="2253.8" y1="800" x2="2253.8" y2="811.1"/>
<line x1="2253.9" y1="771.9" x2="2272" y2="771.9"/>
<line x1="2253.8" y1="805.6" x2="2272" y2="805.6"/>
<line x1="2272" y1="771.9" x2="2272" y2="805.6"/>
<line x1="2283.5" y1="746.2" x2="2288" y2="746.2"/>
<line x1="2272" y1="788.7" x2="2288" y2="788.7"/>
<line x1="2288" y1="746.2" x2="2288" y2="788.7"/>
<line x1="2288" y1="767.5" x2="2288" y2="789.7"/>
<line x1="2236.7" y1="821.8" x2="2239.3" y2="821.8"/>
<line x1="2236.7" y1="826.6" x2="2239.3" y2="826.6"/>
<line x1="2239.3" y1="821.8" x2="2239.3" y2="826.6"/>
<line x1="2239.3" y1="824.2" x2="2243" y2="824.2"/>
<line x1="2236.7" y1="831.5" x2="2243" y2="831.5"/>
<line x1="2243" y1="824.2" x2="2243" y2="831.5"/>
<line x1="2243" y1="827.8" x2="2246.9" y2="827.8"/>
<line x1="2236.7" y1="835.4" x2="2246.9" y2="835.4"/>
<line x1="2246.9" y1="827.8" x2="2246.9" y2="835.4"/>
<line x1="2236.7" y1="817.9" x2="2248.2" y2="817.9"/>
<line x1="2246.9" y1="831.6" x2="2248.2" y2="831.6"/>
<line x1="2248.2" y1="817.9" x2="2248.2" y2="831.6"/>
<line x1="2236.7" y1="840.2" x2="2246.1" y2="840.2"/>
<line x1="2236.7" y1="844.1" x2="2246.1" y2="844.1"/>
<line x1="2246.1" y1="840.2" x2="2246.1" y2="844.1"/>
<line x1="2248.2" y1="824.8" x2="2260.4" y2="824.8"/>
<line x1="2246.1" y1="842.1" x2="2260.4" y2="842.1"/>
<line x1="2260.4" y1="824.8" x2="2260.4" y2="842.1"/>
<line x1="2236.7" y1="857.6" x2="2243.3" y2="857.6"/>
<line x1="2236.7" y1="860.5" x2="2243.3" y2="860.5"/>
<line x1="2243.3" y1="857.6" x2="2243.3" y2="860.5"/>
<line x1="2236.7" y1="853.8" x2="2250.2" y2="853.8"/>
<line x1="2243.3" y1="859.1" x2="2250.2" y2="859.1"/>
<line x1="2250.2" y1="853.8" x2="2250.2" y2="859.1"/>
<line x1="2236.7" y1="847.9" x2="2264.1" y2="847.9"/>
<line x1="2250.2" y1="856.4" x2="2264.1" y2="856.4"/>
<line x1="2264.1" y1="847.9" x2="2264.1" y2="856.4"/>
<line x1="2260.4" y1="833.4" x2="2273.6" y2="833.4"/>
<line x1="2264.1" y1="852.2" x2="2273.6" y2="852.2"/>
<line x1="2273.6" y1="833.4" x2="2273.6" y2="852.2"/>
<line x1="2273.6" y1="842.8" x2="2273.6" y2="853.3"/>
<line x1="2288" y1="789.7" x2="2302.7" y2="789.7"/>
<line x1="2273.6" y1="853.3" x2="2302.7" y2="853.3"/>
<line x1="2302.7" y1="789.7" x2="2302.7" y2="853.3"/>
<line x1="2310" y1="632.6" x2="2313.6" y2="632.6"/>
<line x1="2302.7" y1="821.5" x2="2313.6" y2="821.5"/>
<line x1="2313.6" y1="632.6" x2="2313.6" y2="821.5"/>
<line x1="2300" y1="429.8" x2="2318.5" y2="429.8"/>
<line x1="2313.6" y1="727.5" x2="2318.5" y2="727.5"/>
<line x1="2318.5" y1="429.8" x2="2318.5" y2="727.5"/>
<line x1="2236.7" y1="866.3" x2="2243.5" y2="866.3"/>
<line x1="2236.7" y1="870.2" x2="2243.5" y2="870.2"/>
<line x1="2243.5" y1="866.3" x2="2243.5" y2="870.2"/>
<line x1="2243.5" y1="868.3" x2="2246.1" y2="868.3"/>
<line x1="2236.7" y1="873.5" x2="2246.1" y2="873.5"/>
<line x1="2246.1" y1="868.3" x2="2246.1" y2="873.5"/>
<line x1="2236.7" y1="877" x2="2241.4" y2="877"/>
<line x1="2236.7" y1="880.9" x2="2241.4" y2="880.9"/>
<line x1="2241.4" y1="877" x2="2241.4" y2="880.9"/>
<line x1="2246.1" y1="870.9" x2="2253.8" y2="870.9"/>
<line x1="2241.4" y1="878.9" x2="2253.8" y2="878.9"/>
<line x1="2253.8" y1="870.9" x2="2253.8" y2="878.9"/>
<line x1="2236.7" y1="863.4" x2="2269.5" y2="863.4"/>
<line x1="2253.8" y1="874.9" x2="2269.5" y2="874.9"/>
<line x1="2269.5" y1="863.4" x2="2269.5" y2="874.9"/>
<line x1="2236.7" y1="887.7" x2="2244" y2="887.7"/>
<line x1="2236.7" y1="890.6" x2="2244" y2="890.6"/>
<line x1="2244" y1="887.7" x2="2244" y2="890.6"/>
<line x1="2236.7" y1="883.8" x2="2253.4" y2="883.8"/>
<line x1="2244" y1="889.1" x2="2253.4" y2="889.1"/>
<line x1="2253.4" y1="883.8" x2="2253.4" y2="889.1"/>
<line x1="2236.7" y1="893.5" x2="2243.2" y2="893.5"/>
<line x1="2236.7" y1="897.3" x2="2243.2" y2="897.3"/>
<line x1="2243.2" y1="893.5" x2="2243.2" y2="897.3"/>
<line x1="2253.4" y1="886.4" x2="2265.8" y2="886.4"/>
<line x1="2243.2" y1="895.4" x2="2265.8" y2="895.4"/>
<line x1="2265.8" y1="886.4" x2="2265.8" y2="895.4"/>
<line x1="2269.5" y1="869.2" x2="2278.7" y2="869.2"/>
<line x1="2265.8" y1="890.9" x2="2278.7" y2="890.9"/>
<line x1="2278.7" y1="869.2" x2="2278.7" y2="890.9"/>
<line x1="2278.7" y1="880" x2="2278.7" y2="879"/>
<line x1="2236.7" y1="906.1" x2="2245.1" y2="906.1"/>
<line x1="2236.7" y1="911.9" x2="2245.1" y2="911.9"/>
<line x1="2245.1" y1="906.1" x2="2245.1" y2="911.9"/>
<line x1="2245.1" y1="909" x2="2260.9" y2="909"/>
<line x1="2236.7" y1="917.7" x2="2260.9" y2="917.7"/>
<line x1="2260.9" y1="909" x2="2260.9" y2="917.7"/>
<line x1="2236.7" y1="901.2" x2="2262.8" y2="901.2"/>
<line x1="2260.9" y1="913.3" x2="2262.8" y2="913.3"/>
<line x1="2262.8" y1="901.2" x2="2262.8" y2="913.3"/>
<line x1="2236.7" y1="922.3" x2="2249.7" y2="922.3"/>
<line x1="2236.7" y1="927.5" x2="2249.7" y2="927.5"/>
<line x1="2249.7" y1="922.3" x2="2249.7" y2="927.5"/>
<line x1="2249.7" y1="924.9" x2="2264" y2="924.9"/>
<line x1="2236.7" y1="932" x2="2264" y2="932"/>
<line x1="2264" y1="924.9" x2="2264" y2="932"/>
<line x1="2236.7" y1="942.6" x2="2244.5" y2="942.6"/>
<line x1="2236.7" y1="946.5" x2="2244.5" y2="946.5"/>
<line x1="2244.5" y1="942.6" x2="2244.5" y2="946.5"/>
<line x1="2236.7" y1="936.8" x2="2250.4" y2="936.8"/>
<line x1="2244.5" y1="944.6" x2="2250.4" y2="944.6"/>
<line x1="2250.4" y1="936.8" x2="2250.4" y2="944.6"/>
<line x1="2236.7" y1="951.3" x2="2241.3" y2="951.3"/>
<line x1="2236.7" y1="957.1" x2="2241.3" y2="957.1"/>
<line x1="2241.3" y1="951.3" x2="2241.3" y2="957.1"/>
<line x1="2250.4" y1="940.7" x2="2257" y2="940.7"/>
<line x1="2241.3" y1="954.2" x2="2257" y2="954.2"/>
<line x1="2257" y1="940.7" x2="2257" y2="954.2"/>
<line x1="2264" y1="928.4" x2="2268.3" y2="928.4"/>
<line x1="2257" y1="947.5" x2="2268.3" y2="947.5"/>
<line x1="2268.3" y1="928.4" x2="2268.3" y2="947.5"/>
<line x1="2262.8" y1="907.3" x2="2287.2" y2="907.3"/>
<line x1="2268.3" y1="937.9" x2="2287.2" y2="937.9"/>
<line x1="2287.2" y1="907.3" x2="2287.2" y2="937.9"/>
<line x1="2287.2" y1="922.6" x2="2287.2" y2="935"/>
<line x1="2236.7" y1="967.8" x2="2241.6" y2="967.8"/>
<line x1="2236.7" y1="972.6" x2="2241.6" y2="972.6"/>
<line x1="2241.6" y1="967.8" x2="2241.6" y2="972.6"/>
<line x1="2236.7" y1="986.2" x2="2239.5" y2="986.2"/>
<line x1="2236.7" y1="991" x2="2239.5" y2="991"/>
<line x1="2239.5" y1="986.2" x2="2239.5" y2="991"/>
<line x1="2236.7" y1="981.4" x2="2247.6" y2="981.4"/>
<line x1="2239.5" y1="988.6" x2="2247.6" y2="988.6"/>
<line x1="2247.6" y1="981.4" x2="2247.6" y2="988.6"/>
<line x1="2236.7" y1="1000.7" x2="2240.6" y2="1000.7"/>
<line x1="2236.7" y1="1006.2" x2="2240.6" y2="1006.2"/>
<line x1="2240.6" y1="1000.7" x2="2240.6" y2="1006.2"/>
<line x1="2240.6" y1="1003.4" x2="2246.7" y2="1003.4"/>
<line x1="2236.7" y1="1012.3" x2="2246.7" y2="1012.3"/>
<line x1="2246.7" y1="1003.4" x2="2246.7" y2="1012.3"/>
<line x1="2247.6" y1="985" x2="2255.9" y2="985"/>
<line x1="2246.7" y1="1007.9" x2="2255.9" y2="1007.9"/>
<line x1="2255.9" y1="985" x2="2255.9" y2="1007.9"/>
<line x1="2241.6" y1="970.2" x2="2266.1" y2="970.2"/>
<line x1="2255.9" y1="996.4" x2="2266.1" y2="996.4"/>
<line x1="2266.1" y1="970.2" x2="2266.1" y2="996.4"/>
<line x1="2236.7" y1="1016.2" x2="2242" y2="1016.2"/>
<line x1="2236.7" y1="1022.4" x2="2242" y2="1022.4"/>
<line x1="2242" y1="1016.2" x2="2242" y2="1022.4"/>
<line x1="2236.7" y1="1026.3" x2="2245.9" y2="1026.3"/>
<line x1="2236.7" y1="1031.7" x2="2245.9" y2="1031.7"/>
<line x1="2245.9" y1="1026.3" x2="2245.9" y2="1031.7"/>
<line x1="2242" y1="1019.3" x2="2260.5" y2="1019.3"/>
<line x1="2245.9" y1="1029" x2="2260.5" y2="1029"/>
<line x1="2260.5" y1="1019.3" x2="2260.5" y2="1029"/>
<line x1="2236.7" y1="1036.6" x2="2245.9" y2="1036.6"/>
<line x1="2236.7" y1="1041.4" x2="2245.9" y2="1041.4"/>
<line x1="2245.9" y1="1036.6" x2="2245.9" y2="1041.4"/>
<line x1="2260.5" y1="1024.2" x2="2277.9" y2="1024.2"/>
<line x1="2245.9" y1="1039" x2="2277.9" y2="1039"/>
<line x1="2277.9" y1="1024.2" x2="2277.9" y2="1039"/>
<line x1="2266.1" y1="983.3" x2="2285.4" y2="983.3"/>
<line x1="2277.9" y1="1031.6" x2="2285.4" y2="1031.6"/>
<line x1="2285.4" y1="983.3" x2="2285.4" y2="1031.6"/>
<line x1="2285.4" y1="1007.5" x2="2285.4" y2="1000.7"/>
<line x1="2287.2" y1="935" x2="2296.3" y2="935"/>
<line x1="2285.4" y1="1000.7" x2="2296.3" y2="1000.7"/>
<line x1="2296.3" y1="935" x2="2296.3" y2="1000.7"/>
<line x1="2278.7" y1="879" x2="2306" y2="879"/>
<line x1="2296.3" y1="968" x2="2306" y2="968"/>
<line x1="2306" y1="879" x2="2306" y2="968"/>
<line x1="2236.7" y1="1046.2" x2="2250.5" y2="1046.2"/>
<line x1="2236.7" y1="1051.1" x2="2250.5" y2="1051.1"/>
<line x1="2250.5" y1="1046.2" x2="2250.5" y2="1051.1"/>
<line x1="2236.7" y1="1060.4" x2="2245.3" y2="1060.4"/>
<line x1="2236.7" y1="1065.6" x2="2245.3" y2="1065.6"/>
<line x1="2245.3" y1="1060.4" x2="2245.3" y2="1065.6"/>
<line x1="2236.7" y1="1070.5" x2="2250.6" y2="1070.5"/>
<line x1="2236.7" y1="1076.3" x2="2250.6" y2="1076.3"/>
<line x1="2250.6" y1="1070.5" x2="2250.6" y2="1076.3"/>
<line x1="2245.3" y1="1063" x2="2260.6" y2="1063"/>
<line x1="2250.6" y1="1073.4" x2="2260.6" y2="1073.4"/>
<line x1="2260.6" y1="1063" x2="2260.6" y2="1073.4"/>
<line x1="2236.7" y1="1055" x2="2263.4" y2="1055"/>
<line x1="2260.6" y1="1068.2" x2="2263.4" y2="1068.2"/>
<line x1="2263.4" y1="1055" x2="2263.4" y2="1068.2"/>
<line x1="2250.5" y1="1048.7" x2="2268.3" y2="1048.7"/>
<line x1="2263.4" y1="1061.6" x2="2268.3" y2="1061.6"/>
<line x1="2268.3" y1="1048.7" x2="2268.3" y2="1061.6"/>
<line x1="2236.7" y1="1080.1" x2="2245.5" y2="1080.1"/>
<line x1="2236.7" y1="1086" x2="2245.5" y2="1086"/>
<line x1="2245.5" y1="1080.1" x2="2245.5" y2="1086"/>
<line x1="2236.7" y1="1090.8" x2="2241.8" y2="1090.8"/>
<line x1="2236.7" y1="1095.6" x2="2241.8" y2="1095.6"/>
<line x1="2241.8" y1="1090.8" x2="2241.8" y2="1095.6"/>
<line x1="2241.8" y1="1093.2" x2="2269.9" y2="1093.2"/>
<line x1="2236.7" y1="1099.5" x2="2269.9" y2="1099.5"/>
<line x1="2269.9" y1="1093.2" x2="2269.9" y2="1099.5"/>
<line x1="2245.5" y1="1083.1" x2="2279.5" y2="1083.1"/>
<line x1="2269.9" y1="1096.4" x2="2279.5" y2="1096.4"/>
<line x1="2279.5" y1="1083.1" x2="2279.5" y2="1096.4"/>
<line x1="2268.3" y1="1055.1" x2="2281.8" y2="1055.1"/>
<line x1="2279.5" y1="1089.7" x2="2281.8" y2="1089.7"/>
<line x1="2281.8" y1="1055.1" x2="2281.8" y2="1089.7"/>
<line x1="2281.8" y1="1072.4" x2="2281.8" y2="1061.5"/>
<line x1="2236.7" y1="1105.3" x2="2239.4" y2="1105.3"/>
<line x1="2236.7" y1="1113.1" x2="2239.4" y2="1113.1"/>
<line x1="2239.4" y1="1105.3" x2="2239.4" y2="1113.1"/>
<line x1="2239.4" y1="1109.2" x2="2264.6" y2="1109.2"/>
<line x1="2236.7" y1="1118.9" x2="2264.6" y2="1118.9"/>
<line x1="2264.6" y1="1109.2" x2="2264.6" y2="1118.9"/>
<line x1="2236.7" y1="1136.3" x2="2240.6" y2="1136.3"/>
<line x1="2236.7" y1="1147" x2="2240.6" y2="1147"/>
<line x1="2240.6" y1="1136.3" x2="2240.6" y2="1147"/>
<line x1="2240.6" y1="1141.6" x2="2244.4" y2="1141.6"/>
<line x1="2236.7" y1="1158.6" x2="2244.4" y2="1158.6"/>
<line x1="2244.4" y1="1141.6" x2="2244.4" y2="1158.6"/>
<line x1="2236.7" y1="1126.6" x2="2245.4" y2="1126.6"/>
<line x1="2244.4" y1="1150.1" x2="2245.4" y2="1150.1"/>
<line x1="2245.4" y1="1126.6" x2="2245.4" y2="1150.1"/>
<line x1="2236.7" y1="1163.4" x2="2243" y2="1163.4"/>
<line x1="2236.7" y1="1169.2" x2="2243" y2="1169.2"/>
<line x1="2243" y1="1163.4" x2="2243" y2="1169.2"/>
<line x1="2245.4" y1="1138.4" x2="2247.2" y2="1138.4"/>
<line x1="2243" y1="1166.3" x2="2247.2" y2="1166.3"/>
<line x1="2247.2" y1="1138.4" x2="2247.2" y2="1166.3"/>
<line x1="2236.7" y1="1181.8" x2="2249.2" y2="1181.8"/>
<line x1="2236.7" y1="1185.7" x2="2249.2" y2="1185.7"/>
<line x1="2249.2" y1="1181.8" x2="2249.2" y2="1185.7"/>
<line x1="2236.7" y1="1174.1" x2="2251" y2="1174.1"/>
<line x1="2249.2" y1="1183.8" x2="2251" y2="1183.8"/>
<line x1="2251" y1="1174.1" x2="2251" y2="1183.8"/>
<line x1="2247.2" y1="1152.4" x2="2258" y2="1152.4"/>
<line x1="2251" y1="1178.9" x2="2258" y2="1178.9"/>
<line x1="2258" y1="1152.4" x2="2258" y2="1178.9"/>
<line x1="2264.6" y1="1114" x2="2266.4" y2="1114"/>
<line x1="2258" y1="1165.6" x2="2266.4" y2="1165.6"/>
<line x1="2266.4" y1="1114" x2="2266.4" y2="1165.6"/>
<line x1="2236.7" y1="1199.3" x2="2246.2" y2="1199.3"/>
<line x1="2236.7" y1="1209.9" x2="2246.2" y2="1209.9"/>
<line x1="2246.2" y1="1199.3" x2="2246.2" y2="1209.9"/>
<line x1="2236.7" y1="1190.6" x2="2257.4" y2="1190.6"/>
<line x1="2246.2" y1="1204.6" x2="2257.4" y2="1204.6"/>
<line x1="2257.4" y1="1190.6" x2="2257.4" y2="1204.6"/>
<line x1="2236.7" y1="1225.2" x2="2242.9" y2="1225.2"/>
<line x1="2236.7" y1="1229.1" x2="2242.9" y2="1229.1"/>
<line x1="2242.9" y1="1225.2" x2="2242.9" y2="1229.1"/>
<line x1="2236.7" y1="1220" x2="2254.4" y2="1220"/>
<line x1="2242.9" y1="1227.1" x2="2254.4" y2="1227.1"/>
<line x1="2254.4" y1="1220" x2="2254.4" y2="1227.1"/>
<line x1="2236.7" y1="1234.5" x2="2245.9" y2="1234.5"/>
<line x1="2236.7" y1="1239.7" x2="2245.9" y2="1239.7"/>
<line x1="2245.9" y1="1234.5" x2="2245.9" y2="1239.7"/>
<line x1="2236.7" y1="1248.4" x2="2243.7" y2="1248.4"/>
<line x1="2236.7" y1="1254.2" x2="2243.7" y2="1254.2"/>
<line x1="2243.7" y1="1248.4" x2="2243.7" y2="1254.2"/>
<line x1="2245.9" y1="1237.1" x2="2257.6" y2="1237.1"/>
<line x1="2243.7" y1="1251.3" x2="2257.6" y2="1251.3"/>
<line x1="2257.6" y1="1237.1" x2="2257.6" y2="1251.3"/>
<line x1="2254.4" y1="1223.6" x2="2259.2" y2="1223.6"/>
<line x1="2257.6" y1="1244.2" x2="2259.2" y2="1244.2"/>
<line x1="2259.2" y1="1223.6" x2="2259.2" y2="1244.2"/>
<line x1="2257.4" y1="1197.6" x2="2267.6" y2="1197.6"/>
<line x1="2259.2" y1="1233.9" x2="2267.6" y2="1233.9"/>
<line x1="2267.6" y1="1197.6" x2="2267.6" y2="1233.9"/>
<line x1="2236.7" y1="1271.7" x2="2248.2" y2="1271.7"/>
<line x1="2236.7" y1="1284.3" x2="2248.2" y2="1284.3"/>
<line x1="2248.2" y1="1271.7" x2="2248.2" y2="1284.3"/>
<line x1="2236.7" y1="1259.1" x2="2257.9" y2="1259.1"/>
<line x1="2248.2" y1="1278" x2="2257.9" y2="1278"/>
<line x1="2257.9" y1="1259.1" x2="2257.9" y2="1278"/>
<line x1="2257.9" y1="1268.5" x2="2269.9" y2="1268.5"/>
<line x1="2236.7" y1="1296.5" x2="2269.9" y2="1296.5"/>
<line x1="2269.9" y1="1268.5" x2="2269.9" y2="1296.5"/>
<line x1="2267.6" y1="1215.7" x2="2278.4" y2="1215.7"/>
<line x1="2269.9" y1="1282.5" x2="2278.4" y2="1282.5"/>
<line x1="2278.4" y1="1215.7" x2="2278.4" y2="1282.5"/>
<line x1="2236.7" y1="1309.4" x2="2242.1" y2="1309.4"/>
<line x1="2236.7" y1="1332.7" x2="2242.1" y2="1332.7"/>
<line x1="2242.1" y1="1309.4" x2="2242.1" y2="1332.7"/>
<line x1="2236.7" y1="1358.8" x2="2239.9" y2="1358.8"/>
<line x1="2236.7" y1="1370.5" x2="2239.9" y2="1370.5"/>
<line x1="2239.9" y1="1358.8" x2="2239.9" y2="1370.5"/>
<line x1="2236.7" y1="1382.1" x2="2242.3" y2="1382.1"/>
<line x1="2236.7" y1="1399.5" x2="2242.3" y2="1399.5"/>
<line x1="2242.3" y1="1382.1" x2="2242.3" y2="1399.5"/>
<line x1="2239.9" y1="1364.6" x2="2250.7" y2="1364.6"/>
<line x1="2242.3" y1="1390.8" x2="2250.7" y2="1390.8"/>
<line x1="2250.7" y1="1364.6" x2="2250.7" y2="1390.8"/>
<line x1="2242.1" y1="1321.1" x2="2256.2" y2="1321.1"/>
<line x1="2250.7" y1="1377.7" x2="2256.2" y2="1377.7"/>
<line x1="2256.2" y1="1321.1" x2="2256.2" y2="1377.7"/>
<line x1="2236.7" y1="1410.2" x2="2243.8" y2="1410.2"/>
<line x1="2236.7" y1="1417.9" x2="2243.8" y2="1417.9"/>
<line x1="2243.8" y1="1410.2" x2="2243.8" y2="1417.9"/>
<line x1="2236.7" y1="1435.4" x2="2239.4" y2="1435.4"/>
<line x1="2236.7" y1="1445" x2="2239.4" y2="1445"/>
<line x1="2239.4" y1="1435.4" x2="2239.4" y2="1445"/>
<line x1="2243.8" y1="1414" x2="2255.6" y2="1414"/>
<line x1="2239.4" y1="1440.2" x2="2255.6" y2="1440.2"/>
<line x1="2255.6" y1="1414" x2="2255.6" y2="1440.2"/>
<line x1="2256.2" y1="1349.4" x2="2274.8" y2="1349.4"/>
<line x1="2255.6" y1="1427.1" x2="2274.8" y2="1427.1"/>
<line x1="2274.8" y1="1349.4" x2="2274.8" y2="1427.1"/>
<line x1="2278.4" y1="1249.1" x2="2284.7" y2="1249.1"/>
<line x1="2274.8" y1="1388.3" x2="2284.7" y2="1388.3"/>
<line x1="2284.7" y1="1249.1" x2="2284.7" y2="1388.3"/>
<line x1="2266.4" y1="1139.8" x2="2290" y2="1139.8"/>
<line x1="2284.7" y1="1318.7" x2="2290" y2="1318.7"/>
<line x1="2290" y1="1139.8" x2="2290" y2="1318.7"/>
<line x1="2290" y1="1229.3" x2="2290" y2="1279.8"/>
<line x1="2281.8" y1="1061.5" x2="2294.5" y2="1061.5"/>
<line x1="2290" y1="1279.8" x2="2294.5" y2="1279.8"/>
<line x1="2294.5" y1="1061.5" x2="2294.5" y2="1279.8"/>
<line x1="2236.7" y1="1457.6" x2="2239.4" y2="1457.6"/>
<line x1="2236.7" y1="1469.2" x2="2239.4" y2="1469.2"/>
<line x1="2239.4" y1="1457.6" x2="2239.4" y2="1469.2"/>
<line x1="2239.4" y1="1463.4" x2="2257" y2="1463.4"/>
<line x1="2236.7" y1="1482.8" x2="2257" y2="1482.8"/>
<line x1="2257" y1="1463.4" x2="2257" y2="1482.8"/>
<line x1="2257" y1="1473.1" x2="2257" y2="1477"/>
<line x1="2294.5" y1="1170.9" x2="2297.2" y2="1170.9"/>
<line x1="2257" y1="1477" x2="2297.2" y2="1477"/>
<line x1="2297.2" y1="1170.9" x2="2297.2" y2="1477"/>
<line x1="2306" y1="924" x2="2324.5" y2="924"/>
<line x1="2297.2" y1="1323.3" x2="2324.5" y2="1323.3"/>
<line x1="2324.5" y1="924" x2="2324.5" y2="1323.3"/>
<line x1="2318.5" y1="578.8" x2="2344.5" y2="578.8"/>
<line x1="2324.5" y1="1123.3" x2="2344.5" y2="1123.3"/>
<line x1="2344.5" y1="578.8" x2="2344.5" y2="1123.3"/>
</g>
<text transform="translate(1193.2,266.5) rotate(-90)" font-size="29" font-weight="bold" font-style="italic" text-anchor="start">Picea</text>
<text transform="translate(1262.9,266.5) rotate(-90)" font-size="29" font-weight="bold" font-style="italic" text-anchor="start">Betula</text>
<text transform="translate(1350.5,266.5) rotate(-90)" font-size="29" font-weight="bold" font-style="italic" text-anchor="start">Quercus robur/</text>
<text transform="translate(1424,266.5) rotate(-90)" font-size="29" font-weight="bold" font-style="italic" text-anchor="start">Tilia</text>
<text transform="translate(1495.9,266.5) rotate(-90)" font-size="29" font-weight="bold" font-style="normal" text-anchor="start">Cichorioideae</text>
<text transform="translate(1585.7,266.5) rotate(-90)" font-size="29" font-weight="bold" font-style="italic" text-anchor="start">Artemisia</text>
<text transform="translate(1633.5,266.5) rotate(-90)" font-size="29" font-weight="bold" font-style="normal" text-anchor="start">Chenopodiaceae</text>
<text transform="translate(1717.7,266.5) rotate(-90)" font-size="29" font-weight="bold" font-style="normal" text-anchor="start">Poaceae</text>
<text transform="translate(1814.5,266.5) rotate(-90)" font-size="29" font-weight="bold" font-style="italic" text-anchor="start">Larix</text>
<text transform="translate(1886.5,266.5) rotate(-90)" font-size="29" font-weight="bold" font-style="italic" text-anchor="start">Juniperus</text>
<text transform="translate(1954,266.5) rotate(-90)" font-size="29" font-weight="bold" font-style="normal" text-anchor="start">Trees</text>
<text transform="translate(2036.6,266.5) rotate(-90)" font-size="29" font-weight="bold" font-style="normal" text-anchor="start">Shrubs</text>
<text transform="translate(2077,266.5) rotate(-90)" font-size="29" font-weight="bold" font-style="normal" text-anchor="start">Upland herbs</text>
<text transform="translate(2117,266.5) rotate(-90)" font-size="29" font-weight="bold" font-style="normal" text-anchor="start">Xerophytes</text>
<text transform="translate(2179.3,266.5) rotate(-90)" font-size="29" font-weight="bold" font-style="normal" text-anchor="start">Pollen</text>
<text transform="translate(2211.5,266.5) rotate(-90)" font-size="29" font-weight="bold" font-style="normal" text-anchor="start">zones (FPD)</text>
<text transform="translate(2253.9,266.5) rotate(-90)" font-size="29" font-weight="bold" font-style="normal" text-anchor="start">Total sum</text>
<text transform="translate(2282.5,266.5) rotate(-90)" font-size="29" font-weight="bold" font-style="normal" text-anchor="start">of squares</text>
<text transform="translate(1383.5,266.5) rotate(-90)" font-size="29" font-weight="bold" font-style="normal" text-anchor="start"><tspan font-style="italic">cerris</tspan> type + <tspan font-style="italic">Ulmus</tspan></text>
<text x="1014" y="1530.5" font-size="28.5" font-weight="normal" font-style="normal" text-anchor="middle">20</text>
<text x="1114" y="1530.5" font-size="28.5" font-weight="normal" font-style="normal" text-anchor="middle">60</text>
<text x="1236" y="1530.5" font-size="28.5" font-weight="normal" font-style="normal" text-anchor="middle">10</text>
<text x="1296.5" y="1530.5" font-size="28.5" font-weight="normal" font-style="normal" text-anchor="middle">20</text>
<text x="1394" y="1530.5" font-size="28.5" font-weight="normal" font-style="normal" text-anchor="middle">5</text>
<text x="1463" y="1530.5" font-size="28.5" font-weight="normal" font-style="normal" text-anchor="middle">5</text>
<text x="1520" y="1530.5" font-size="28.5" font-weight="normal" font-style="normal" text-anchor="middle">20</text>
<text x="1610" y="1530.5" font-size="28.5" font-weight="normal" font-style="normal" text-anchor="middle">20</text>
<text x="1682.5" y="1530.5" font-size="28.5" font-weight="normal" font-style="normal" text-anchor="middle">10</text>
<text x="1742" y="1530.5" font-size="28.5" font-weight="normal" font-style="normal" text-anchor="middle">20</text>
<text x="1855" y="1530.5" font-size="28.5" font-weight="normal" font-style="normal" text-anchor="middle">5</text>
<text x="1924" y="1530.5" font-size="28.5" font-weight="normal" font-style="normal" text-anchor="middle">5</text>
<text x="2025.7" y="1530.5" font-size="28.5" font-weight="normal" font-style="normal" text-anchor="middle">50</text>
<text x="2118.7" y="1530.5" font-size="28.5" font-weight="normal" font-style="normal" text-anchor="middle">100</text>
<text x="2249.2" y="1530.5" font-size="28.5" font-weight="normal" font-style="normal" text-anchor="middle">2</text>
<text x="2343.5" y="1530.5" font-size="28.5" font-weight="normal" font-style="normal" text-anchor="middle">32</text>
<text x="966" y="1530.5" font-size="28.5" font-weight="normal" font-style="normal" text-anchor="start">%</text>
<text x="632" y="1616.3" font-size="24.5" font-weight="normal" font-style="normal" text-anchor="start">Legend:</text>
<rect x="742" y="1594" width="32" height="26" fill="url(#silt)"/>
<text x="785.4" y="1616.3" font-size="23.3" font-weight="normal" font-style="normal" text-anchor="start">Silty clay</text>
<rect x="909" y="1592" width="33" height="27.4" fill="#151515" />
<text x="957" y="1605" font-size="23.4" font-weight="normal" font-style="normal" text-anchor="start">Compressed and</text>
<text x="957" y="1630" font-size="23.4" font-weight="normal" font-style="normal" text-anchor="start">decomposed peat</text>
<rect x="1171" y="1594" width="31" height="26" fill="#e1ddd5"/>
<path d="M1175 1600v3q1.5 2 3 0v-3M1196 1600v3q1.5 2 3 0v-3M1184 1613h4" stroke="#c0442a" stroke-width="0.8" fill="none"/>
<text x="1213.9" y="1615.8" font-size="23.3" font-weight="normal" font-style="normal" text-anchor="start">Carbonate mud</text>
<rect x="1406.6" y="1594.6" width="32" height="26.4" fill="url(#sgyt)"/>
<line x1="1422.6" y1="1594.6" x2="1422.6" y2="1621" stroke="#ddd" stroke-width="1" />
<text x="1450.7" y="1615.8" font-size="23.3" font-weight="normal" font-style="normal" text-anchor="start">Slightly organic gyttja</text>
<rect x="1702" y="1594.6" width="31.8" height="26.4" fill="url(#gyt)"/>
<line x1="1718" y1="1594.6" x2="1718" y2="1621" stroke="#ccc" stroke-width="1" />
<text x="1744.6" y="1615.8" font-size="23.3" font-weight="normal" font-style="normal" text-anchor="start">Organic gyttja</text>
<rect x="631" y="1668.8" width="18.5" height="10.9" fill="#111" />
<text x="663.4" y="1679.7" font-size="25.1" font-weight="normal" font-style="normal" text-anchor="start">Radiocarbon ages (2σ calibration range)</text>
<rect x="637.8" y="1692.6" width="10.2" height="20.4" fill="#f8dc10" />
<text x="663.4" y="1714" font-size="24.9" font-weight="normal" font-style="normal" text-anchor="start">Biostratigraphic event</text>
</svg></body></html>
